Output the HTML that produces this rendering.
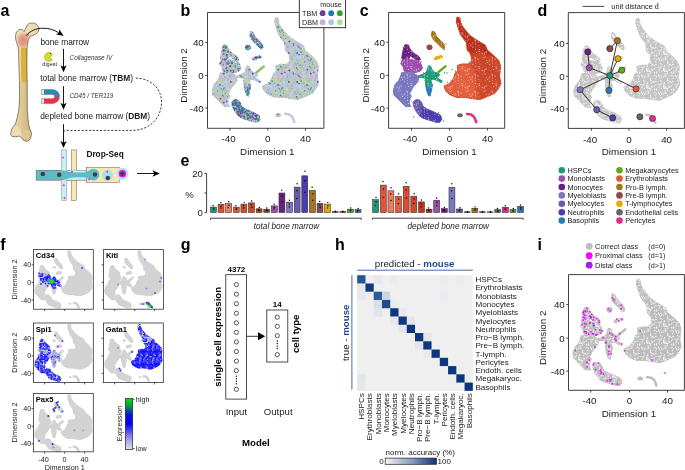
<!DOCTYPE html>
<html><head><meta charset="utf-8"><style>
html,body{margin:0;padding:0;background:#fff;overflow:hidden;}
svg{display:block;font-family:"Liberation Sans", sans-serif;will-change:transform;}
</style></head><body>
<svg width="685" height="470" viewBox="0 0 685 470">
<defs>
<radialGradient id="pink" cx="0.5" cy="0.5" r="0.5"><stop offset="0" stop-color="#dc8e80"/><stop offset="0.55" stop-color="#e2a08e"/><stop offset="1" stop-color="#eccbb0" stop-opacity="0"/></radialGradient>
<linearGradient id="shaft" x1="0" x2="1" y1="0" y2="0"><stop offset="0" stop-color="#ecdcae"/><stop offset="0.45" stop-color="#e2cc98"/><stop offset="1" stop-color="#c9ad72"/></linearGradient>
<clipPath id="boneclip"><path d="M26.6,26.4 C27,24 30,22.8 32.5,23 C36,23.2 39,25.5 38.9,29 C38.8,32 36.5,34.5 33,35.3 C30,36 28.4,38.5 27.9,42 L27.1,48 L26.9,65.5 L27.2,82 L27.3,98.7 L27.3,110 L27.7,113.7 L28.1,119.7 L28.8,124.9 L29.6,128.6 L31.1,131.6 L31.4,134.6 L30.7,137.6 L29.6,139.8 L27.3,141.3 L24.7,140.9 L22.5,139.4 L21,137.2 L19.9,136.1 L15.4,136.8 L12.1,136.4 L10.6,134.6 L11,131.6 L12.4,127.9 L15.4,124.1 L17.3,117.4 L18.8,110 L19.6,98 L19.4,82 L18.9,65.5 L18.5,50 C18.3,47 17.5,44.5 16.5,42 C15.5,39.5 15.2,36.5 15.8,34 C16.5,31.5 18,30 20,29.2 C21.5,28.8 23,30 24,31.6 C25,30 25.8,28 26.6,26.4 Z"/></clipPath>
<radialGradient id="glow" cx="0.5" cy="0.5" r="0.5"><stop offset="0" stop-color="#8fd8e0"/><stop offset="0.8" stop-color="#a8e4ea"/><stop offset="1" stop-color="#d8f4f6"/></radialGradient>
<pattern id="spk" width="17" height="17" patternUnits="userSpaceOnUse"><circle cx="2.8" cy="11.7" r="0.49" fill="#fff"/><circle cx="8.1" cy="3.7" r="0.53" fill="#fff"/><circle cx="13.7" cy="8.7" r="0.45" fill="#fff"/><circle cx="4.0" cy="0.1" r="0.42" fill="#fff"/><circle cx="10.0" cy="1.2" r="0.53" fill="#fff"/><circle cx="3.9" cy="4.0" r="0.33" fill="#fff"/><circle cx="17.0" cy="12.6" r="0.55" fill="#fff"/><circle cx="10.5" cy="0.6" r="0.40" fill="#fff"/><circle cx="8.5" cy="2.0" r="0.57" fill="#fff"/><circle cx="6.3" cy="2.6" r="0.54" fill="#fff"/><circle cx="2.1" cy="15.8" r="0.44" fill="#fff"/><circle cx="9.4" cy="5.8" r="0.45" fill="#fff"/><circle cx="3.2" cy="0.6" r="0.55" fill="#fff"/><circle cx="4.0" cy="13.3" r="0.37" fill="#fff"/><circle cx="16.5" cy="15.2" r="0.52" fill="#fff"/><circle cx="13.0" cy="9.9" r="0.51" fill="#fff"/><circle cx="2.1" cy="8.1" r="0.54" fill="#fff"/><circle cx="3.4" cy="15.7" r="0.55" fill="#fff"/><circle cx="7.0" cy="6.2" r="0.44" fill="#fff"/><circle cx="6.6" cy="16.9" r="0.42" fill="#fff"/><circle cx="0.5" cy="1.6" r="0.51" fill="#fff"/><circle cx="16.9" cy="8.4" r="0.45" fill="#fff"/><circle cx="9.4" cy="12.7" r="0.37" fill="#fff"/><circle cx="10.4" cy="9.5" r="0.48" fill="#fff"/><circle cx="3.1" cy="2.9" r="0.41" fill="#fff"/><circle cx="15.8" cy="5.9" r="0.48" fill="#fff"/><circle cx="5.2" cy="1.8" r="0.33" fill="#fff"/><circle cx="13.8" cy="13.2" r="0.42" fill="#fff"/><circle cx="11.6" cy="11.5" r="0.56" fill="#fff"/><circle cx="16.3" cy="6.9" r="0.58" fill="#fff"/><circle cx="16.3" cy="10.0" r="0.55" fill="#fff"/><circle cx="8.3" cy="6.4" r="0.38" fill="#fff"/><circle cx="14.9" cy="2.8" r="0.33" fill="#fff"/><circle cx="13.7" cy="13.2" r="0.45" fill="#fff"/></pattern>
<pattern id="spk2" width="17" height="17" patternUnits="userSpaceOnUse"><circle cx="9.7" cy="10.7" r="0.60" fill="#fff"/><circle cx="4.7" cy="11.1" r="0.62" fill="#fff"/><circle cx="15.5" cy="3.2" r="0.55" fill="#fff"/><circle cx="10.5" cy="8.6" r="0.64" fill="#fff"/><circle cx="9.0" cy="7.6" r="0.63" fill="#fff"/><circle cx="10.8" cy="5.1" r="0.44" fill="#fff"/><circle cx="8.4" cy="0.9" r="0.53" fill="#fff"/><circle cx="12.5" cy="7.2" r="0.60" fill="#fff"/><circle cx="15.8" cy="9.4" r="0.55" fill="#fff"/><circle cx="2.0" cy="1.0" r="0.64" fill="#fff"/><circle cx="4.8" cy="3.6" r="0.62" fill="#fff"/><circle cx="12.7" cy="2.1" r="0.45" fill="#fff"/><circle cx="4.1" cy="4.6" r="0.35" fill="#fff"/><circle cx="8.9" cy="5.2" r="0.47" fill="#fff"/><circle cx="3.2" cy="1.9" r="0.36" fill="#fff"/><circle cx="14.8" cy="12.7" r="0.52" fill="#fff"/><circle cx="2.1" cy="2.5" r="0.39" fill="#fff"/><circle cx="5.4" cy="1.0" r="0.43" fill="#fff"/><circle cx="3.4" cy="3.3" r="0.55" fill="#fff"/><circle cx="7.8" cy="8.0" r="0.46" fill="#fff"/><circle cx="9.2" cy="13.3" r="0.44" fill="#fff"/><circle cx="1.2" cy="8.2" r="0.46" fill="#fff"/><circle cx="13.3" cy="1.9" r="0.61" fill="#fff"/><circle cx="0.3" cy="9.2" r="0.48" fill="#fff"/><circle cx="5.4" cy="15.1" r="0.56" fill="#fff"/><circle cx="2.8" cy="8.4" r="0.53" fill="#fff"/><circle cx="0.6" cy="1.5" r="0.53" fill="#fff"/><circle cx="12.4" cy="7.9" r="0.48" fill="#fff"/><circle cx="8.6" cy="4.4" r="0.61" fill="#fff"/><circle cx="16.3" cy="8.2" r="0.36" fill="#fff"/><circle cx="6.8" cy="13.7" r="0.45" fill="#fff"/><circle cx="1.8" cy="3.1" r="0.56" fill="#fff"/><circle cx="10.6" cy="4.9" r="0.54" fill="#fff"/><circle cx="12.9" cy="16.4" r="0.60" fill="#fff"/><circle cx="7.4" cy="13.8" r="0.63" fill="#fff"/><circle cx="14.8" cy="12.8" r="0.53" fill="#fff"/><circle cx="8.7" cy="14.5" r="0.54" fill="#fff"/><circle cx="12.3" cy="3.9" r="0.38" fill="#fff"/><circle cx="4.6" cy="9.9" r="0.52" fill="#fff"/><circle cx="3.4" cy="3.2" r="0.64" fill="#fff"/><circle cx="1.2" cy="15.7" r="0.58" fill="#fff"/><circle cx="9.8" cy="16.9" r="0.55" fill="#fff"/><circle cx="0.1" cy="16.0" r="0.47" fill="#fff"/><circle cx="15.6" cy="13.8" r="0.39" fill="#fff"/><circle cx="0.7" cy="0.4" r="0.58" fill="#fff"/><circle cx="13.5" cy="3.9" r="0.38" fill="#fff"/><circle cx="6.2" cy="13.6" r="0.57" fill="#fff"/><circle cx="14.7" cy="16.5" r="0.58" fill="#fff"/><circle cx="14.2" cy="0.3" r="0.35" fill="#fff"/><circle cx="14.7" cy="10.5" r="0.45" fill="#fff"/><circle cx="2.2" cy="5.7" r="0.45" fill="#fff"/><circle cx="8.4" cy="7.6" r="0.41" fill="#fff"/><circle cx="1.4" cy="3.5" r="0.39" fill="#fff"/><circle cx="1.7" cy="7.0" r="0.39" fill="#fff"/><circle cx="13.6" cy="9.3" r="0.49" fill="#fff"/><circle cx="10.9" cy="4.0" r="0.36" fill="#fff"/><circle cx="1.3" cy="5.7" r="0.46" fill="#fff"/><circle cx="4.3" cy="5.2" r="0.60" fill="#fff"/><circle cx="0.1" cy="7.6" r="0.46" fill="#fff"/><circle cx="4.8" cy="12.3" r="0.42" fill="#fff"/><circle cx="0.7" cy="2.7" r="0.64" fill="#fff"/><circle cx="5.9" cy="2.0" r="0.64" fill="#fff"/><circle cx="11.0" cy="16.3" r="0.45" fill="#fff"/><circle cx="13.8" cy="0.7" r="0.42" fill="#fff"/><circle cx="13.5" cy="8.8" r="0.59" fill="#fff"/><circle cx="6.6" cy="14.9" r="0.37" fill="#fff"/><circle cx="10.6" cy="3.2" r="0.41" fill="#fff"/><circle cx="15.0" cy="7.3" r="0.59" fill="#fff"/><circle cx="4.8" cy="12.4" r="0.62" fill="#fff"/><circle cx="10.7" cy="4.0" r="0.55" fill="#fff"/><circle cx="16.2" cy="13.6" r="0.48" fill="#fff"/><circle cx="6.8" cy="1.7" r="0.58" fill="#fff"/><circle cx="2.7" cy="3.7" r="0.36" fill="#fff"/><circle cx="2.8" cy="6.5" r="0.49" fill="#fff"/><circle cx="3.0" cy="7.2" r="0.58" fill="#fff"/><circle cx="1.6" cy="2.3" r="0.51" fill="#fff"/><circle cx="15.4" cy="15.6" r="0.52" fill="#fff"/><circle cx="1.6" cy="14.9" r="0.65" fill="#fff"/><circle cx="15.3" cy="9.0" r="0.46" fill="#fff"/><circle cx="10.0" cy="13.4" r="0.65" fill="#fff"/></pattern>
<pattern id="pl" width="29" height="29" patternUnits="userSpaceOnUse"><rect width="29" height="29" fill="#d6d2e6"/><circle cx="1.0" cy="14.6" r="0.9" fill="#6a3d9a"/><circle cx="1.0" cy="25.7" r="0.9" fill="#b2df8a"/><circle cx="0.7" cy="4.6" r="0.9" fill="#cab2d6"/><circle cx="29.7" cy="4.6" r="0.9" fill="#cab2d6"/><circle cx="0.4" cy="5.0" r="0.9" fill="#b2df8a"/><circle cx="29.4" cy="5.0" r="0.9" fill="#b2df8a"/><circle cx="28.7" cy="24.3" r="0.9" fill="#cab2d6"/><circle cx="-0.3" cy="24.3" r="0.9" fill="#cab2d6"/><circle cx="19.9" cy="1.2" r="0.9" fill="#b2df8a"/><circle cx="18.4" cy="17.8" r="0.9" fill="#cab2d6"/><circle cx="4.6" cy="5.4" r="0.9" fill="#33a02c"/><circle cx="15.3" cy="15.2" r="0.9" fill="#a6cee3"/><circle cx="24.1" cy="14.5" r="0.9" fill="#a6cee3"/><circle cx="24.9" cy="3.7" r="0.9" fill="#b2df8a"/><circle cx="21.7" cy="8.7" r="0.9" fill="#33a02c"/><circle cx="6.7" cy="16.8" r="0.9" fill="#b2df8a"/><circle cx="7.2" cy="3.2" r="0.9" fill="#6a3d9a"/><circle cx="21.9" cy="19.3" r="0.9" fill="#6a3d9a"/><circle cx="19.8" cy="27.9" r="0.9" fill="#cab2d6"/><circle cx="24.0" cy="9.6" r="0.9" fill="#6a3d9a"/><circle cx="4.3" cy="8.8" r="0.9" fill="#a6cee3"/><circle cx="27.1" cy="21.7" r="0.9" fill="#cab2d6"/><circle cx="22.6" cy="9.6" r="0.9" fill="#a6cee3"/><circle cx="27.8" cy="8.8" r="0.9" fill="#b2df8a"/><circle cx="12.6" cy="8.0" r="0.9" fill="#a6cee3"/><circle cx="20.8" cy="17.1" r="0.9" fill="#cab2d6"/><circle cx="24.6" cy="5.1" r="0.9" fill="#cab2d6"/><circle cx="25.7" cy="4.3" r="0.9" fill="#cab2d6"/><circle cx="14.6" cy="28.1" r="0.9" fill="#cab2d6"/><circle cx="14.6" cy="-0.9" r="0.9" fill="#cab2d6"/><circle cx="28.3" cy="4.5" r="0.9" fill="#a6cee3"/><circle cx="-0.7" cy="4.5" r="0.9" fill="#a6cee3"/><circle cx="13.4" cy="20.5" r="0.9" fill="#cab2d6"/><circle cx="11.3" cy="8.6" r="0.9" fill="#b2df8a"/><circle cx="17.7" cy="2.8" r="0.9" fill="#cab2d6"/><circle cx="9.0" cy="16.8" r="0.9" fill="#cab2d6"/><circle cx="20.8" cy="0.9" r="0.9" fill="#a6cee3"/><circle cx="3.5" cy="5.8" r="0.9" fill="#cab2d6"/><circle cx="28.3" cy="4.6" r="0.9" fill="#a6cee3"/><circle cx="-0.7" cy="4.6" r="0.9" fill="#a6cee3"/><circle cx="26.1" cy="22.7" r="0.9" fill="#a6cee3"/><circle cx="3.8" cy="7.0" r="0.9" fill="#a6cee3"/><circle cx="4.4" cy="17.6" r="0.9" fill="#a6cee3"/><circle cx="12.7" cy="0.9" r="0.9" fill="#b2df8a"/><circle cx="27.5" cy="19.2" r="0.9" fill="#a6cee3"/><circle cx="18.9" cy="14.7" r="0.9" fill="#a6cee3"/><circle cx="23.9" cy="21.9" r="0.9" fill="#b2df8a"/><circle cx="21.5" cy="15.8" r="0.9" fill="#cab2d6"/><circle cx="12.1" cy="5.1" r="0.9" fill="#cab2d6"/><circle cx="3.3" cy="27.5" r="0.9" fill="#a6cee3"/><circle cx="23.2" cy="1.1" r="0.9" fill="#cab2d6"/><circle cx="12.1" cy="27.9" r="0.9" fill="#cab2d6"/><circle cx="17.5" cy="22.2" r="0.9" fill="#cab2d6"/><circle cx="20.9" cy="11.0" r="0.9" fill="#b2df8a"/><circle cx="11.3" cy="16.7" r="0.9" fill="#cab2d6"/><circle cx="24.2" cy="20.5" r="0.9" fill="#b2df8a"/><circle cx="9.3" cy="5.2" r="0.9" fill="#cab2d6"/><circle cx="10.5" cy="11.5" r="0.9" fill="#cab2d6"/><circle cx="17.2" cy="21.0" r="0.9" fill="#cab2d6"/><circle cx="11.4" cy="26.9" r="0.9" fill="#a6cee3"/><circle cx="19.1" cy="24.0" r="0.9" fill="#cab2d6"/><circle cx="15.9" cy="28.2" r="0.9" fill="#a6cee3"/><circle cx="15.9" cy="-0.8" r="0.9" fill="#a6cee3"/><circle cx="17.6" cy="7.7" r="0.9" fill="#a6cee3"/><circle cx="10.2" cy="13.1" r="0.9" fill="#b2df8a"/><circle cx="16.5" cy="3.1" r="0.9" fill="#cab2d6"/><circle cx="20.7" cy="21.6" r="0.9" fill="#cab2d6"/><circle cx="26.4" cy="6.0" r="0.9" fill="#b2df8a"/><circle cx="21.2" cy="25.7" r="0.9" fill="#a6cee3"/><circle cx="3.2" cy="19.9" r="0.9" fill="#cab2d6"/><circle cx="11.8" cy="26.6" r="0.9" fill="#cab2d6"/><circle cx="1.8" cy="25.4" r="0.9" fill="#cab2d6"/><circle cx="9.6" cy="13.1" r="0.9" fill="#cab2d6"/><circle cx="18.8" cy="20.0" r="0.9" fill="#cab2d6"/><circle cx="25.5" cy="25.3" r="0.9" fill="#b2df8a"/><circle cx="6.0" cy="26.3" r="0.9" fill="#b2df8a"/><circle cx="20.9" cy="0.5" r="0.9" fill="#33a02c"/><circle cx="20.9" cy="29.5" r="0.9" fill="#33a02c"/><circle cx="4.6" cy="10.7" r="0.9" fill="#a6cee3"/><circle cx="25.8" cy="25.5" r="0.9" fill="#b2df8a"/><circle cx="27.6" cy="12.1" r="0.9" fill="#cab2d6"/><circle cx="1.1" cy="27.3" r="0.9" fill="#cab2d6"/><circle cx="27.9" cy="22.1" r="0.9" fill="#b2df8a"/><circle cx="15.1" cy="27.9" r="0.9" fill="#6a3d9a"/><circle cx="1.5" cy="12.2" r="0.9" fill="#b2df8a"/><circle cx="24.5" cy="6.0" r="0.9" fill="#b2df8a"/><circle cx="15.5" cy="8.5" r="0.9" fill="#33a02c"/><circle cx="26.1" cy="22.1" r="0.9" fill="#cab2d6"/><circle cx="23.4" cy="19.8" r="0.9" fill="#cab2d6"/><circle cx="5.0" cy="27.4" r="0.9" fill="#a6cee3"/><circle cx="12.7" cy="26.3" r="0.9" fill="#cab2d6"/><circle cx="25.5" cy="18.3" r="0.9" fill="#cab2d6"/><circle cx="28.5" cy="11.8" r="0.9" fill="#cab2d6"/><circle cx="-0.5" cy="11.8" r="0.9" fill="#cab2d6"/><circle cx="15.2" cy="0.9" r="0.9" fill="#a6cee3"/><circle cx="25.1" cy="22.5" r="0.9" fill="#1f78b4"/><circle cx="1.1" cy="26.2" r="0.9" fill="#a6cee3"/><circle cx="12.3" cy="20.1" r="0.9" fill="#b2df8a"/><circle cx="28.8" cy="18.7" r="0.9" fill="#a6cee3"/><circle cx="-0.2" cy="18.7" r="0.9" fill="#a6cee3"/><circle cx="3.8" cy="0.5" r="0.9" fill="#a6cee3"/><circle cx="3.8" cy="29.5" r="0.9" fill="#a6cee3"/><circle cx="6.2" cy="7.5" r="0.9" fill="#b2df8a"/><circle cx="3.6" cy="5.2" r="0.9" fill="#b2df8a"/><circle cx="17.8" cy="5.4" r="0.9" fill="#cab2d6"/><circle cx="19.4" cy="18.8" r="0.9" fill="#b2df8a"/><circle cx="2.2" cy="0.8" r="0.9" fill="#6a3d9a"/><circle cx="2.2" cy="29.8" r="0.9" fill="#6a3d9a"/><circle cx="8.7" cy="9.6" r="0.9" fill="#b2df8a"/><circle cx="24.1" cy="25.4" r="0.9" fill="#cab2d6"/><circle cx="3.2" cy="19.6" r="0.9" fill="#a6cee3"/><circle cx="7.2" cy="20.8" r="0.9" fill="#cab2d6"/><circle cx="5.7" cy="4.3" r="0.9" fill="#cab2d6"/><circle cx="16.0" cy="4.1" r="0.9" fill="#b2df8a"/><circle cx="19.7" cy="20.3" r="0.9" fill="#b2df8a"/><circle cx="27.7" cy="1.5" r="0.9" fill="#a6cee3"/><circle cx="14.7" cy="19.8" r="0.9" fill="#b2df8a"/><circle cx="7.2" cy="5.0" r="0.9" fill="#a6cee3"/><circle cx="20.5" cy="28.8" r="0.9" fill="#cab2d6"/><circle cx="20.5" cy="-0.2" r="0.9" fill="#cab2d6"/><circle cx="22.2" cy="4.3" r="0.9" fill="#cab2d6"/><circle cx="4.0" cy="4.0" r="0.9" fill="#a6cee3"/><circle cx="1.5" cy="14.0" r="0.9" fill="#a6cee3"/><circle cx="0.5" cy="23.9" r="0.9" fill="#cab2d6"/><circle cx="29.5" cy="23.9" r="0.9" fill="#cab2d6"/><circle cx="16.9" cy="22.3" r="0.9" fill="#cab2d6"/><circle cx="20.7" cy="23.7" r="0.9" fill="#a6cee3"/><circle cx="25.9" cy="22.9" r="0.9" fill="#b2df8a"/><circle cx="3.9" cy="5.0" r="0.9" fill="#b2df8a"/><circle cx="19.4" cy="6.4" r="0.9" fill="#b2df8a"/><circle cx="4.0" cy="16.5" r="0.9" fill="#33a02c"/><circle cx="16.4" cy="17.1" r="0.9" fill="#a6cee3"/><circle cx="2.4" cy="18.0" r="0.9" fill="#cab2d6"/><circle cx="24.9" cy="7.3" r="0.9" fill="#cab2d6"/><circle cx="21.5" cy="14.8" r="0.9" fill="#cab2d6"/><circle cx="5.4" cy="22.0" r="0.9" fill="#b2df8a"/><circle cx="20.8" cy="2.0" r="0.9" fill="#cab2d6"/><circle cx="14.0" cy="24.5" r="0.9" fill="#b2df8a"/><circle cx="15.8" cy="1.7" r="0.9" fill="#cab2d6"/><circle cx="13.9" cy="6.9" r="0.9" fill="#33a02c"/><circle cx="16.7" cy="16.8" r="0.9" fill="#cab2d6"/><circle cx="15.3" cy="27.9" r="0.9" fill="#b2df8a"/><circle cx="7.2" cy="5.1" r="0.9" fill="#a6cee3"/><circle cx="23.0" cy="8.5" r="0.9" fill="#cab2d6"/><circle cx="0.3" cy="11.9" r="0.9" fill="#b2df8a"/><circle cx="29.3" cy="11.9" r="0.9" fill="#b2df8a"/><circle cx="4.7" cy="11.3" r="0.9" fill="#a6cee3"/><circle cx="17.1" cy="0.8" r="0.9" fill="#cab2d6"/><circle cx="17.1" cy="29.8" r="0.9" fill="#cab2d6"/><circle cx="17.6" cy="5.4" r="0.9" fill="#a6cee3"/><circle cx="17.8" cy="4.5" r="0.9" fill="#a6cee3"/><circle cx="15.9" cy="6.6" r="0.9" fill="#b2df8a"/><circle cx="24.7" cy="11.6" r="0.9" fill="#b2df8a"/><circle cx="11.0" cy="11.3" r="0.9" fill="#33a02c"/><circle cx="24.0" cy="20.4" r="0.9" fill="#cab2d6"/><circle cx="3.5" cy="22.8" r="0.9" fill="#cab2d6"/><circle cx="8.7" cy="3.9" r="0.9" fill="#cab2d6"/><circle cx="15.0" cy="9.4" r="0.9" fill="#cab2d6"/><circle cx="12.9" cy="10.3" r="0.9" fill="#6a3d9a"/><circle cx="19.1" cy="5.6" r="0.9" fill="#33a02c"/><circle cx="27.7" cy="9.8" r="0.9" fill="#cab2d6"/><circle cx="0.8" cy="15.8" r="0.9" fill="#cab2d6"/><circle cx="29.8" cy="15.8" r="0.9" fill="#cab2d6"/><circle cx="5.1" cy="6.7" r="0.9" fill="#6a3d9a"/><circle cx="10.7" cy="7.2" r="0.9" fill="#b2df8a"/><circle cx="2.9" cy="13.0" r="0.9" fill="#b2df8a"/><circle cx="23.9" cy="7.1" r="0.9" fill="#b2df8a"/><circle cx="19.1" cy="28.1" r="0.9" fill="#a6cee3"/><circle cx="19.1" cy="-0.9" r="0.9" fill="#a6cee3"/><circle cx="11.8" cy="28.2" r="0.9" fill="#a6cee3"/><circle cx="11.8" cy="-0.8" r="0.9" fill="#a6cee3"/><circle cx="19.6" cy="8.5" r="0.9" fill="#6a3d9a"/><circle cx="20.6" cy="15.6" r="0.9" fill="#b2df8a"/><circle cx="10.6" cy="10.6" r="0.9" fill="#a6cee3"/><circle cx="21.9" cy="12.4" r="0.9" fill="#a6cee3"/><circle cx="27.3" cy="25.8" r="0.9" fill="#b2df8a"/><circle cx="21.1" cy="20.2" r="0.9" fill="#cab2d6"/><circle cx="10.0" cy="3.1" r="0.9" fill="#cab2d6"/><circle cx="26.4" cy="21.4" r="0.9" fill="#a6cee3"/><circle cx="17.0" cy="15.9" r="0.9" fill="#cab2d6"/><circle cx="24.6" cy="5.7" r="0.9" fill="#a6cee3"/><circle cx="22.7" cy="9.0" r="0.9" fill="#cab2d6"/><circle cx="4.4" cy="21.4" r="0.9" fill="#b2df8a"/><circle cx="13.9" cy="12.8" r="0.9" fill="#cab2d6"/><circle cx="21.3" cy="24.9" r="0.9" fill="#cab2d6"/><circle cx="2.1" cy="26.7" r="0.9" fill="#b2df8a"/><circle cx="25.1" cy="28.4" r="0.9" fill="#a6cee3"/><circle cx="25.1" cy="-0.6" r="0.9" fill="#a6cee3"/><circle cx="10.3" cy="19.4" r="0.9" fill="#b2df8a"/><circle cx="27.8" cy="17.1" r="0.9" fill="#a6cee3"/><circle cx="6.8" cy="13.4" r="0.9" fill="#b2df8a"/><circle cx="11.6" cy="13.7" r="0.9" fill="#cab2d6"/><circle cx="27.5" cy="4.7" r="0.9" fill="#cab2d6"/><circle cx="3.8" cy="1.8" r="0.9" fill="#b2df8a"/><circle cx="26.0" cy="9.9" r="0.9" fill="#a6cee3"/><circle cx="26.6" cy="27.8" r="0.9" fill="#6a3d9a"/><circle cx="19.5" cy="13.0" r="0.9" fill="#b2df8a"/><circle cx="10.3" cy="16.0" r="0.9" fill="#a6cee3"/><circle cx="3.4" cy="22.1" r="0.9" fill="#cab2d6"/><circle cx="20.6" cy="27.1" r="0.9" fill="#b2df8a"/><circle cx="26.6" cy="7.9" r="0.9" fill="#cab2d6"/><circle cx="8.2" cy="1.6" r="0.9" fill="#b2df8a"/><circle cx="28.3" cy="20.8" r="0.9" fill="#cab2d6"/><circle cx="-0.7" cy="20.8" r="0.9" fill="#cab2d6"/><circle cx="4.6" cy="23.7" r="0.9" fill="#a6cee3"/><circle cx="3.7" cy="10.1" r="0.9" fill="#a6cee3"/><circle cx="15.4" cy="26.0" r="0.9" fill="#cab2d6"/><circle cx="5.9" cy="15.8" r="0.9" fill="#cab2d6"/><circle cx="1.4" cy="2.9" r="0.9" fill="#cab2d6"/><circle cx="4.0" cy="6.9" r="0.9" fill="#cab2d6"/><circle cx="1.6" cy="26.9" r="0.9" fill="#a6cee3"/><circle cx="27.9" cy="19.0" r="0.9" fill="#cab2d6"/><circle cx="11.1" cy="14.3" r="0.9" fill="#cab2d6"/><circle cx="19.6" cy="15.2" r="0.9" fill="#a6cee3"/><circle cx="27.2" cy="19.2" r="0.9" fill="#6a3d9a"/><circle cx="10.0" cy="14.4" r="0.9" fill="#cab2d6"/><circle cx="21.7" cy="7.0" r="0.9" fill="#a6cee3"/><circle cx="12.1" cy="24.6" r="0.9" fill="#cab2d6"/><circle cx="1.6" cy="11.4" r="0.9" fill="#b2df8a"/><circle cx="27.8" cy="3.6" r="0.9" fill="#cab2d6"/><circle cx="3.0" cy="14.7" r="0.9" fill="#1f78b4"/><circle cx="2.9" cy="1.5" r="0.9" fill="#cab2d6"/><circle cx="26.5" cy="14.4" r="0.9" fill="#a6cee3"/><circle cx="28.8" cy="16.8" r="0.9" fill="#6a3d9a"/><circle cx="-0.2" cy="16.8" r="0.9" fill="#6a3d9a"/><circle cx="23.1" cy="10.2" r="0.9" fill="#b2df8a"/><circle cx="18.9" cy="9.5" r="0.9" fill="#b2df8a"/><circle cx="14.2" cy="11.1" r="0.9" fill="#cab2d6"/><circle cx="26.8" cy="12.9" r="0.9" fill="#cab2d6"/><circle cx="18.0" cy="0.4" r="0.9" fill="#a6cee3"/><circle cx="18.0" cy="29.4" r="0.9" fill="#a6cee3"/><circle cx="28.9" cy="14.0" r="0.9" fill="#a6cee3"/><circle cx="-0.1" cy="14.0" r="0.9" fill="#a6cee3"/><circle cx="16.6" cy="4.6" r="0.9" fill="#b2df8a"/><circle cx="14.3" cy="6.1" r="0.9" fill="#a6cee3"/><circle cx="3.1" cy="27.2" r="0.9" fill="#b2df8a"/><circle cx="1.9" cy="19.6" r="0.9" fill="#cab2d6"/><circle cx="9.7" cy="4.2" r="0.9" fill="#a6cee3"/><circle cx="18.3" cy="1.8" r="0.9" fill="#cab2d6"/><circle cx="28.8" cy="16.1" r="0.9" fill="#6a3d9a"/><circle cx="-0.2" cy="16.1" r="0.9" fill="#6a3d9a"/><circle cx="12.1" cy="5.0" r="0.9" fill="#cab2d6"/><circle cx="6.0" cy="15.1" r="0.9" fill="#cab2d6"/><circle cx="25.9" cy="25.7" r="0.9" fill="#cab2d6"/><circle cx="7.0" cy="6.7" r="0.9" fill="#6a3d9a"/><circle cx="8.5" cy="6.5" r="0.9" fill="#cab2d6"/><circle cx="27.4" cy="0.1" r="0.9" fill="#cab2d6"/><circle cx="27.4" cy="29.1" r="0.9" fill="#cab2d6"/><circle cx="10.9" cy="2.2" r="0.9" fill="#cab2d6"/><circle cx="15.3" cy="2.6" r="0.9" fill="#a6cee3"/><circle cx="27.2" cy="17.8" r="0.9" fill="#6a3d9a"/><circle cx="4.8" cy="16.6" r="0.9" fill="#b2df8a"/><circle cx="17.2" cy="28.7" r="0.9" fill="#cab2d6"/><circle cx="17.2" cy="-0.3" r="0.9" fill="#cab2d6"/><circle cx="9.2" cy="12.9" r="0.9" fill="#a6cee3"/><circle cx="4.6" cy="19.1" r="0.9" fill="#cab2d6"/><circle cx="5.9" cy="21.6" r="0.9" fill="#cab2d6"/><circle cx="11.4" cy="4.1" r="0.9" fill="#cab2d6"/><circle cx="5.9" cy="24.8" r="0.9" fill="#cab2d6"/><circle cx="10.1" cy="9.5" r="0.9" fill="#a6cee3"/><circle cx="25.0" cy="17.1" r="0.9" fill="#b2df8a"/><circle cx="22.9" cy="26.5" r="0.9" fill="#a6cee3"/><circle cx="20.8" cy="4.2" r="0.9" fill="#a6cee3"/><circle cx="4.0" cy="3.7" r="0.9" fill="#a6cee3"/><circle cx="16.4" cy="14.4" r="0.9" fill="#6a3d9a"/><circle cx="7.6" cy="17.5" r="0.9" fill="#cab2d6"/><circle cx="24.5" cy="1.2" r="0.9" fill="#cab2d6"/><circle cx="6.8" cy="9.8" r="0.9" fill="#6a3d9a"/><circle cx="1.4" cy="27.1" r="0.9" fill="#cab2d6"/><circle cx="15.1" cy="12.6" r="0.9" fill="#cab2d6"/><circle cx="19.7" cy="22.6" r="0.9" fill="#33a02c"/><circle cx="15.8" cy="8.5" r="0.9" fill="#b2df8a"/><circle cx="11.1" cy="6.0" r="0.9" fill="#b2df8a"/><circle cx="27.5" cy="19.0" r="0.9" fill="#cab2d6"/><circle cx="4.6" cy="10.3" r="0.9" fill="#cab2d6"/><circle cx="19.6" cy="3.9" r="0.9" fill="#b2df8a"/><circle cx="14.3" cy="7.6" r="0.9" fill="#a6cee3"/><circle cx="26.3" cy="20.3" r="0.9" fill="#cab2d6"/><circle cx="28.7" cy="4.5" r="0.9" fill="#cab2d6"/><circle cx="-0.3" cy="4.5" r="0.9" fill="#cab2d6"/><circle cx="13.4" cy="2.6" r="0.9" fill="#cab2d6"/><circle cx="23.3" cy="14.6" r="0.9" fill="#cab2d6"/><circle cx="28.1" cy="18.4" r="0.9" fill="#cab2d6"/><circle cx="11.5" cy="1.6" r="0.9" fill="#a6cee3"/><circle cx="28.1" cy="1.0" r="0.9" fill="#a6cee3"/><circle cx="-0.9" cy="1.0" r="0.9" fill="#a6cee3"/><circle cx="4.2" cy="2.9" r="0.9" fill="#b2df8a"/><circle cx="19.6" cy="13.9" r="0.9" fill="#b2df8a"/><circle cx="10.7" cy="25.9" r="0.9" fill="#cab2d6"/><circle cx="7.9" cy="3.0" r="0.9" fill="#a6cee3"/><circle cx="0.9" cy="0.3" r="0.9" fill="#b2df8a"/><circle cx="0.9" cy="29.3" r="0.9" fill="#b2df8a"/><circle cx="29.9" cy="0.3" r="0.9" fill="#b2df8a"/><circle cx="29.9" cy="29.3" r="0.9" fill="#b2df8a"/><circle cx="14.8" cy="20.6" r="0.9" fill="#cab2d6"/><circle cx="18.7" cy="2.1" r="0.9" fill="#cab2d6"/><circle cx="12.2" cy="22.1" r="0.9" fill="#b2df8a"/><circle cx="24.1" cy="27.4" r="0.9" fill="#cab2d6"/><circle cx="14.6" cy="4.0" r="0.9" fill="#6a3d9a"/><circle cx="28.7" cy="0.1" r="0.9" fill="#6a3d9a"/><circle cx="28.7" cy="29.1" r="0.9" fill="#6a3d9a"/><circle cx="-0.3" cy="0.1" r="0.9" fill="#6a3d9a"/><circle cx="-0.3" cy="29.1" r="0.9" fill="#6a3d9a"/><circle cx="27.1" cy="7.8" r="0.9" fill="#cab2d6"/><circle cx="0.0" cy="10.2" r="0.9" fill="#a6cee3"/><circle cx="29.0" cy="10.2" r="0.9" fill="#a6cee3"/><circle cx="12.1" cy="7.6" r="0.9" fill="#cab2d6"/><circle cx="0.6" cy="14.1" r="0.9" fill="#a6cee3"/><circle cx="29.6" cy="14.1" r="0.9" fill="#a6cee3"/><circle cx="2.7" cy="0.5" r="0.9" fill="#cab2d6"/><circle cx="2.7" cy="29.5" r="0.9" fill="#cab2d6"/><circle cx="18.5" cy="12.8" r="0.9" fill="#a6cee3"/><circle cx="12.5" cy="4.9" r="0.9" fill="#a6cee3"/><circle cx="26.9" cy="5.3" r="0.9" fill="#b2df8a"/><circle cx="17.8" cy="11.6" r="0.9" fill="#cab2d6"/><circle cx="21.2" cy="14.3" r="0.9" fill="#a6cee3"/><circle cx="24.3" cy="5.2" r="0.9" fill="#cab2d6"/><circle cx="21.8" cy="10.5" r="0.9" fill="#cab2d6"/><circle cx="28.8" cy="14.4" r="0.9" fill="#b2df8a"/><circle cx="-0.2" cy="14.4" r="0.9" fill="#b2df8a"/><circle cx="13.4" cy="24.6" r="0.9" fill="#1f78b4"/><circle cx="20.6" cy="7.4" r="0.9" fill="#a6cee3"/><circle cx="11.6" cy="12.4" r="0.9" fill="#cab2d6"/><circle cx="6.9" cy="26.7" r="0.9" fill="#a6cee3"/><circle cx="4.5" cy="7.1" r="0.9" fill="#cab2d6"/><circle cx="23.7" cy="14.4" r="0.9" fill="#6a3d9a"/><circle cx="5.5" cy="15.3" r="0.9" fill="#a6cee3"/><circle cx="27.1" cy="12.9" r="0.9" fill="#b2df8a"/><circle cx="16.5" cy="6.7" r="0.9" fill="#a6cee3"/><circle cx="0.6" cy="0.0" r="0.9" fill="#cab2d6"/><circle cx="0.6" cy="29.0" r="0.9" fill="#cab2d6"/><circle cx="29.6" cy="0.0" r="0.9" fill="#cab2d6"/><circle cx="29.6" cy="29.0" r="0.9" fill="#cab2d6"/><circle cx="2.9" cy="17.4" r="0.9" fill="#cab2d6"/><circle cx="9.6" cy="8.7" r="0.9" fill="#a6cee3"/><circle cx="13.2" cy="2.2" r="0.9" fill="#cab2d6"/><circle cx="28.2" cy="1.9" r="0.9" fill="#cab2d6"/><circle cx="-0.8" cy="1.9" r="0.9" fill="#cab2d6"/><circle cx="18.1" cy="6.2" r="0.9" fill="#a6cee3"/><circle cx="18.4" cy="5.6" r="0.9" fill="#a6cee3"/><circle cx="22.2" cy="0.2" r="0.9" fill="#b2df8a"/><circle cx="22.2" cy="29.2" r="0.9" fill="#b2df8a"/><circle cx="22.1" cy="22.6" r="0.9" fill="#b2df8a"/><circle cx="6.8" cy="12.9" r="0.9" fill="#a6cee3"/><circle cx="23.6" cy="9.0" r="0.9" fill="#cab2d6"/><circle cx="1.0" cy="10.3" r="0.9" fill="#a6cee3"/><circle cx="3.7" cy="6.5" r="0.9" fill="#cab2d6"/><circle cx="11.3" cy="9.8" r="0.9" fill="#b2df8a"/><circle cx="23.7" cy="21.8" r="0.9" fill="#cab2d6"/><circle cx="15.9" cy="7.8" r="0.9" fill="#a6cee3"/><circle cx="4.0" cy="23.3" r="0.9" fill="#a6cee3"/><circle cx="19.0" cy="15.1" r="0.9" fill="#cab2d6"/><circle cx="11.0" cy="13.6" r="0.9" fill="#6a3d9a"/><circle cx="23.8" cy="17.7" r="0.9" fill="#a6cee3"/><circle cx="21.3" cy="11.0" r="0.9" fill="#b2df8a"/><circle cx="9.3" cy="0.8" r="0.9" fill="#b2df8a"/><circle cx="9.3" cy="29.8" r="0.9" fill="#b2df8a"/><circle cx="17.9" cy="28.5" r="0.9" fill="#cab2d6"/><circle cx="17.9" cy="-0.5" r="0.9" fill="#cab2d6"/><circle cx="2.3" cy="0.5" r="0.9" fill="#6a3d9a"/><circle cx="2.3" cy="29.5" r="0.9" fill="#6a3d9a"/><circle cx="13.4" cy="22.5" r="0.9" fill="#b2df8a"/><circle cx="11.3" cy="11.7" r="0.9" fill="#b2df8a"/><circle cx="20.3" cy="13.0" r="0.9" fill="#cab2d6"/><circle cx="2.2" cy="19.0" r="0.9" fill="#cab2d6"/><circle cx="18.3" cy="4.9" r="0.9" fill="#b2df8a"/><circle cx="1.2" cy="15.8" r="0.9" fill="#cab2d6"/><circle cx="23.2" cy="5.1" r="0.9" fill="#cab2d6"/><circle cx="15.1" cy="8.2" r="0.9" fill="#a6cee3"/><circle cx="25.1" cy="4.0" r="0.9" fill="#cab2d6"/><circle cx="14.0" cy="1.2" r="0.9" fill="#a6cee3"/><circle cx="19.6" cy="10.9" r="0.9" fill="#cab2d6"/><circle cx="20.0" cy="1.4" r="0.9" fill="#b2df8a"/><circle cx="22.6" cy="3.8" r="0.9" fill="#6a3d9a"/><circle cx="9.4" cy="18.4" r="0.9" fill="#cab2d6"/><circle cx="6.2" cy="22.6" r="0.9" fill="#a6cee3"/><circle cx="6.9" cy="13.2" r="0.9" fill="#cab2d6"/><circle cx="5.8" cy="0.2" r="0.9" fill="#cab2d6"/><circle cx="5.8" cy="29.2" r="0.9" fill="#cab2d6"/><circle cx="10.6" cy="19.5" r="0.9" fill="#6a3d9a"/><circle cx="10.4" cy="13.2" r="0.9" fill="#cab2d6"/><circle cx="26.7" cy="5.8" r="0.9" fill="#b2df8a"/><circle cx="7.1" cy="22.9" r="0.9" fill="#cab2d6"/><circle cx="17.0" cy="1.8" r="0.9" fill="#a6cee3"/><circle cx="6.6" cy="26.1" r="0.9" fill="#cab2d6"/><circle cx="20.8" cy="5.2" r="0.9" fill="#b2df8a"/><circle cx="27.4" cy="0.7" r="0.9" fill="#cab2d6"/><circle cx="27.4" cy="29.7" r="0.9" fill="#cab2d6"/><circle cx="18.5" cy="16.8" r="0.9" fill="#a6cee3"/><circle cx="26.4" cy="14.3" r="0.9" fill="#a6cee3"/><circle cx="17.6" cy="25.5" r="0.9" fill="#a6cee3"/><circle cx="28.3" cy="0.5" r="0.9" fill="#b2df8a"/><circle cx="28.3" cy="29.5" r="0.9" fill="#b2df8a"/><circle cx="-0.7" cy="0.5" r="0.9" fill="#b2df8a"/><circle cx="-0.7" cy="29.5" r="0.9" fill="#b2df8a"/><circle cx="7.9" cy="6.0" r="0.9" fill="#6a3d9a"/><circle cx="11.6" cy="8.7" r="0.9" fill="#a6cee3"/><circle cx="10.2" cy="9.3" r="0.9" fill="#cab2d6"/><circle cx="23.0" cy="21.1" r="0.9" fill="#b2df8a"/><circle cx="16.4" cy="20.8" r="0.9" fill="#cab2d6"/><circle cx="20.6" cy="24.8" r="0.9" fill="#b2df8a"/><circle cx="15.9" cy="12.2" r="0.9" fill="#cab2d6"/><circle cx="18.0" cy="11.2" r="0.9" fill="#cab2d6"/><circle cx="4.5" cy="24.0" r="0.9" fill="#1f78b4"/><circle cx="3.8" cy="26.0" r="0.9" fill="#cab2d6"/><circle cx="14.8" cy="16.3" r="0.9" fill="#cab2d6"/><circle cx="6.6" cy="3.6" r="0.9" fill="#cab2d6"/><circle cx="7.9" cy="10.9" r="0.9" fill="#1f78b4"/><circle cx="19.2" cy="28.7" r="0.9" fill="#a6cee3"/><circle cx="19.2" cy="-0.3" r="0.9" fill="#a6cee3"/><circle cx="16.9" cy="11.8" r="0.9" fill="#cab2d6"/><circle cx="0.1" cy="16.7" r="0.9" fill="#b2df8a"/><circle cx="29.1" cy="16.7" r="0.9" fill="#b2df8a"/><circle cx="11.9" cy="20.8" r="0.9" fill="#b2df8a"/><circle cx="24.1" cy="5.7" r="0.9" fill="#a6cee3"/><circle cx="12.2" cy="14.1" r="0.9" fill="#a6cee3"/><circle cx="6.5" cy="1.5" r="0.9" fill="#a6cee3"/><circle cx="23.5" cy="27.7" r="0.9" fill="#a6cee3"/><circle cx="8.8" cy="18.0" r="0.9" fill="#33a02c"/><circle cx="12.7" cy="10.0" r="0.9" fill="#cab2d6"/><circle cx="1.4" cy="21.5" r="0.9" fill="#a6cee3"/><circle cx="22.0" cy="12.7" r="0.9" fill="#cab2d6"/><circle cx="17.0" cy="15.7" r="0.9" fill="#a6cee3"/><circle cx="10.6" cy="12.3" r="0.9" fill="#a6cee3"/><circle cx="17.8" cy="0.9" r="0.9" fill="#b2df8a"/><circle cx="24.5" cy="21.2" r="0.9" fill="#a6cee3"/><circle cx="28.4" cy="4.2" r="0.9" fill="#a6cee3"/><circle cx="-0.6" cy="4.2" r="0.9" fill="#a6cee3"/><circle cx="11.3" cy="21.2" r="0.9" fill="#cab2d6"/><circle cx="19.0" cy="22.9" r="0.9" fill="#b2df8a"/><circle cx="18.0" cy="8.3" r="0.9" fill="#a6cee3"/><circle cx="23.6" cy="6.2" r="0.9" fill="#cab2d6"/><circle cx="27.8" cy="4.0" r="0.9" fill="#b2df8a"/><circle cx="19.3" cy="10.9" r="0.9" fill="#b2df8a"/><circle cx="17.9" cy="17.9" r="0.9" fill="#cab2d6"/><circle cx="21.7" cy="8.4" r="0.9" fill="#b2df8a"/><circle cx="4.4" cy="13.5" r="0.9" fill="#cab2d6"/><circle cx="28.8" cy="17.4" r="0.9" fill="#cab2d6"/><circle cx="-0.2" cy="17.4" r="0.9" fill="#cab2d6"/><circle cx="19.2" cy="11.2" r="0.9" fill="#b2df8a"/><circle cx="10.4" cy="1.4" r="0.9" fill="#a6cee3"/><circle cx="3.2" cy="22.5" r="0.9" fill="#cab2d6"/><circle cx="12.0" cy="14.5" r="0.9" fill="#a6cee3"/><circle cx="7.7" cy="28.2" r="0.9" fill="#a6cee3"/><circle cx="7.7" cy="-0.8" r="0.9" fill="#a6cee3"/><circle cx="4.9" cy="20.4" r="0.9" fill="#a6cee3"/><circle cx="21.9" cy="26.2" r="0.9" fill="#a6cee3"/><circle cx="24.5" cy="7.2" r="0.9" fill="#cab2d6"/><circle cx="3.4" cy="18.4" r="0.9" fill="#cab2d6"/><circle cx="20.4" cy="0.4" r="0.9" fill="#cab2d6"/><circle cx="20.4" cy="29.4" r="0.9" fill="#cab2d6"/><circle cx="26.4" cy="8.5" r="0.9" fill="#b2df8a"/><circle cx="5.7" cy="14.7" r="0.9" fill="#b2df8a"/><circle cx="14.1" cy="16.8" r="0.9" fill="#a6cee3"/><circle cx="6.6" cy="13.9" r="0.9" fill="#a6cee3"/><circle cx="10.1" cy="21.4" r="0.9" fill="#a6cee3"/><circle cx="7.5" cy="1.1" r="0.9" fill="#a6cee3"/><circle cx="0.6" cy="3.8" r="0.9" fill="#a6cee3"/><circle cx="29.6" cy="3.8" r="0.9" fill="#a6cee3"/><circle cx="28.9" cy="24.6" r="0.9" fill="#cab2d6"/><circle cx="-0.1" cy="24.6" r="0.9" fill="#cab2d6"/><circle cx="16.7" cy="1.6" r="0.9" fill="#cab2d6"/><circle cx="6.8" cy="16.0" r="0.9" fill="#cab2d6"/><circle cx="6.8" cy="12.7" r="0.9" fill="#6a3d9a"/><circle cx="17.3" cy="23.8" r="0.9" fill="#b2df8a"/><circle cx="28.9" cy="2.5" r="0.9" fill="#cab2d6"/><circle cx="-0.1" cy="2.5" r="0.9" fill="#cab2d6"/><circle cx="25.4" cy="16.1" r="0.9" fill="#cab2d6"/><circle cx="3.0" cy="7.2" r="0.9" fill="#a6cee3"/><circle cx="7.9" cy="29.0" r="0.9" fill="#a6cee3"/><circle cx="7.9" cy="-0.0" r="0.9" fill="#a6cee3"/><circle cx="13.3" cy="1.7" r="0.9" fill="#b2df8a"/><circle cx="16.3" cy="10.3" r="0.9" fill="#b2df8a"/><circle cx="22.7" cy="5.8" r="0.9" fill="#1f78b4"/><circle cx="18.3" cy="2.5" r="0.9" fill="#b2df8a"/><circle cx="18.2" cy="24.0" r="0.9" fill="#a6cee3"/><circle cx="8.8" cy="5.1" r="0.9" fill="#a6cee3"/><circle cx="15.6" cy="1.2" r="0.9" fill="#a6cee3"/><circle cx="3.9" cy="18.4" r="0.9" fill="#b2df8a"/><circle cx="16.0" cy="23.3" r="0.9" fill="#a6cee3"/><circle cx="23.8" cy="4.2" r="0.9" fill="#cab2d6"/><circle cx="1.2" cy="10.8" r="0.9" fill="#cab2d6"/><circle cx="2.6" cy="25.9" r="0.9" fill="#cab2d6"/><circle cx="26.0" cy="16.5" r="0.9" fill="#cab2d6"/><circle cx="16.4" cy="25.7" r="0.9" fill="#b2df8a"/><circle cx="16.6" cy="18.8" r="0.9" fill="#cab2d6"/><circle cx="8.0" cy="3.1" r="0.9" fill="#cab2d6"/><circle cx="15.6" cy="20.4" r="0.9" fill="#a6cee3"/><circle cx="9.6" cy="17.5" r="0.9" fill="#cab2d6"/><circle cx="6.2" cy="24.4" r="0.9" fill="#b2df8a"/><circle cx="17.7" cy="12.6" r="0.9" fill="#cab2d6"/><circle cx="21.4" cy="2.9" r="0.9" fill="#cab2d6"/><circle cx="8.1" cy="7.2" r="0.9" fill="#cab2d6"/><circle cx="16.6" cy="7.2" r="0.9" fill="#cab2d6"/><circle cx="7.5" cy="6.8" r="0.9" fill="#a6cee3"/><circle cx="10.4" cy="18.4" r="0.9" fill="#b2df8a"/><circle cx="6.4" cy="22.7" r="0.9" fill="#a6cee3"/><circle cx="6.0" cy="12.3" r="0.9" fill="#a6cee3"/><circle cx="11.6" cy="25.4" r="0.9" fill="#b2df8a"/><circle cx="20.4" cy="22.9" r="0.9" fill="#b2df8a"/><circle cx="3.2" cy="22.1" r="0.9" fill="#cab2d6"/><circle cx="4.8" cy="9.2" r="0.9" fill="#cab2d6"/><circle cx="10.8" cy="3.3" r="0.9" fill="#b2df8a"/><circle cx="7.5" cy="13.4" r="0.9" fill="#cab2d6"/><circle cx="23.1" cy="12.3" r="0.9" fill="#cab2d6"/><circle cx="22.9" cy="20.1" r="0.9" fill="#a6cee3"/><circle cx="21.5" cy="3.2" r="0.9" fill="#b2df8a"/><circle cx="27.3" cy="22.7" r="0.9" fill="#cab2d6"/><circle cx="24.7" cy="6.8" r="0.9" fill="#cab2d6"/><circle cx="22.6" cy="14.3" r="0.9" fill="#cab2d6"/><circle cx="2.3" cy="22.8" r="0.9" fill="#a6cee3"/><circle cx="17.9" cy="2.0" r="0.9" fill="#1f78b4"/><circle cx="10.3" cy="18.4" r="0.9" fill="#b2df8a"/><circle cx="16.7" cy="6.7" r="0.9" fill="#cab2d6"/><circle cx="16.1" cy="20.0" r="0.9" fill="#b2df8a"/><circle cx="9.3" cy="20.1" r="0.9" fill="#b2df8a"/><circle cx="0.1" cy="12.2" r="0.9" fill="#cab2d6"/><circle cx="29.1" cy="12.2" r="0.9" fill="#cab2d6"/><circle cx="13.7" cy="6.6" r="0.9" fill="#b2df8a"/><circle cx="28.8" cy="11.3" r="0.9" fill="#cab2d6"/><circle cx="-0.2" cy="11.3" r="0.9" fill="#cab2d6"/><circle cx="17.0" cy="27.0" r="0.9" fill="#6a3d9a"/><circle cx="7.5" cy="13.4" r="0.9" fill="#b2df8a"/><circle cx="11.8" cy="8.4" r="0.9" fill="#cab2d6"/><circle cx="4.8" cy="19.7" r="0.9" fill="#a6cee3"/><circle cx="11.2" cy="22.2" r="0.9" fill="#cab2d6"/><circle cx="28.2" cy="12.6" r="0.9" fill="#6a3d9a"/><circle cx="-0.8" cy="12.6" r="0.9" fill="#6a3d9a"/><circle cx="3.2" cy="15.4" r="0.9" fill="#6a3d9a"/><circle cx="0.7" cy="26.0" r="0.9" fill="#b2df8a"/><circle cx="29.7" cy="26.0" r="0.9" fill="#b2df8a"/><circle cx="21.4" cy="22.0" r="0.9" fill="#cab2d6"/><circle cx="8.6" cy="5.7" r="0.9" fill="#cab2d6"/><circle cx="12.3" cy="12.2" r="0.9" fill="#b2df8a"/><circle cx="5.0" cy="22.6" r="0.9" fill="#1f78b4"/><circle cx="1.9" cy="10.4" r="0.9" fill="#cab2d6"/><circle cx="7.0" cy="21.5" r="0.9" fill="#cab2d6"/><circle cx="3.6" cy="7.3" r="0.9" fill="#b2df8a"/><circle cx="14.8" cy="22.9" r="0.9" fill="#b2df8a"/><circle cx="22.1" cy="4.6" r="0.9" fill="#b2df8a"/><circle cx="26.4" cy="19.7" r="0.9" fill="#a6cee3"/><circle cx="16.6" cy="3.5" r="0.9" fill="#cab2d6"/><circle cx="9.3" cy="19.2" r="0.9" fill="#cab2d6"/><circle cx="21.1" cy="19.8" r="0.9" fill="#b2df8a"/><circle cx="5.8" cy="26.2" r="0.9" fill="#b2df8a"/><circle cx="12.7" cy="10.4" r="0.9" fill="#b2df8a"/><circle cx="12.1" cy="7.0" r="0.9" fill="#cab2d6"/><circle cx="9.5" cy="22.2" r="0.9" fill="#b2df8a"/><circle cx="5.8" cy="15.3" r="0.9" fill="#cab2d6"/><circle cx="21.8" cy="11.4" r="0.9" fill="#cab2d6"/><circle cx="12.1" cy="9.6" r="0.9" fill="#cab2d6"/><circle cx="6.6" cy="19.7" r="0.9" fill="#a6cee3"/><circle cx="4.0" cy="4.2" r="0.9" fill="#a6cee3"/><circle cx="10.0" cy="15.6" r="0.9" fill="#cab2d6"/><circle cx="10.1" cy="18.2" r="0.9" fill="#b2df8a"/><circle cx="5.7" cy="1.0" r="0.9" fill="#b2df8a"/><circle cx="24.9" cy="23.4" r="0.9" fill="#a6cee3"/><circle cx="11.9" cy="27.5" r="0.9" fill="#a6cee3"/><circle cx="28.6" cy="17.0" r="0.9" fill="#b2df8a"/><circle cx="-0.4" cy="17.0" r="0.9" fill="#b2df8a"/><circle cx="20.0" cy="2.8" r="0.9" fill="#1f78b4"/><circle cx="20.2" cy="21.5" r="0.9" fill="#cab2d6"/><circle cx="13.9" cy="0.3" r="0.9" fill="#a6cee3"/><circle cx="13.9" cy="29.3" r="0.9" fill="#a6cee3"/><circle cx="11.9" cy="25.1" r="0.9" fill="#cab2d6"/><circle cx="1.1" cy="28.9" r="0.9" fill="#a6cee3"/><circle cx="1.1" cy="-0.1" r="0.9" fill="#a6cee3"/><circle cx="10.4" cy="6.0" r="0.9" fill="#a6cee3"/><circle cx="5.8" cy="3.7" r="0.9" fill="#cab2d6"/><circle cx="26.4" cy="8.0" r="0.9" fill="#a6cee3"/><circle cx="13.4" cy="5.4" r="0.9" fill="#cab2d6"/><circle cx="3.1" cy="24.6" r="0.9" fill="#b2df8a"/><circle cx="11.7" cy="16.0" r="0.9" fill="#a6cee3"/><circle cx="8.2" cy="24.8" r="0.9" fill="#cab2d6"/><circle cx="21.4" cy="17.6" r="0.9" fill="#cab2d6"/><circle cx="17.9" cy="24.8" r="0.9" fill="#a6cee3"/><circle cx="23.1" cy="1.5" r="0.9" fill="#a6cee3"/><circle cx="3.1" cy="23.0" r="0.9" fill="#a6cee3"/><circle cx="16.3" cy="12.5" r="0.9" fill="#a6cee3"/><circle cx="17.2" cy="7.4" r="0.9" fill="#a6cee3"/><circle cx="8.1" cy="2.0" r="0.9" fill="#cab2d6"/><circle cx="21.6" cy="26.4" r="0.9" fill="#cab2d6"/><circle cx="12.7" cy="0.5" r="0.9" fill="#cab2d6"/><circle cx="12.7" cy="29.5" r="0.9" fill="#cab2d6"/><circle cx="18.7" cy="4.3" r="0.9" fill="#cab2d6"/><circle cx="27.0" cy="6.1" r="0.9" fill="#cab2d6"/><circle cx="26.5" cy="7.4" r="0.9" fill="#b2df8a"/><circle cx="0.1" cy="15.4" r="0.9" fill="#cab2d6"/><circle cx="29.1" cy="15.4" r="0.9" fill="#cab2d6"/><circle cx="11.6" cy="0.9" r="0.9" fill="#a6cee3"/><circle cx="11.6" cy="29.9" r="0.9" fill="#a6cee3"/><circle cx="8.0" cy="16.5" r="0.9" fill="#6a3d9a"/><circle cx="24.2" cy="1.6" r="0.9" fill="#b2df8a"/><circle cx="3.2" cy="18.5" r="0.9" fill="#a6cee3"/><circle cx="27.3" cy="16.9" r="0.9" fill="#cab2d6"/><circle cx="13.3" cy="24.3" r="0.9" fill="#cab2d6"/><circle cx="17.0" cy="15.1" r="0.9" fill="#b2df8a"/><circle cx="3.5" cy="7.1" r="0.9" fill="#cab2d6"/><circle cx="27.9" cy="6.8" r="0.9" fill="#cab2d6"/><circle cx="23.6" cy="7.5" r="0.9" fill="#b2df8a"/><circle cx="4.2" cy="1.0" r="0.9" fill="#b2df8a"/><circle cx="1.7" cy="7.9" r="0.9" fill="#b2df8a"/><circle cx="9.9" cy="18.6" r="0.9" fill="#6a3d9a"/><circle cx="2.3" cy="0.7" r="0.9" fill="#b2df8a"/><circle cx="2.3" cy="29.7" r="0.9" fill="#b2df8a"/><circle cx="3.1" cy="9.8" r="0.9" fill="#cab2d6"/><circle cx="26.9" cy="9.2" r="0.9" fill="#cab2d6"/><circle cx="27.8" cy="23.9" r="0.9" fill="#6a3d9a"/><circle cx="3.1" cy="19.2" r="0.9" fill="#b2df8a"/><circle cx="17.4" cy="11.6" r="0.9" fill="#6a3d9a"/><circle cx="23.1" cy="10.4" r="0.9" fill="#a6cee3"/><circle cx="10.6" cy="3.4" r="0.9" fill="#b2df8a"/><circle cx="8.7" cy="20.0" r="0.9" fill="#a6cee3"/><circle cx="20.4" cy="15.7" r="0.9" fill="#cab2d6"/><circle cx="2.6" cy="9.3" r="0.9" fill="#b2df8a"/><circle cx="11.0" cy="23.1" r="0.9" fill="#33a02c"/><circle cx="6.6" cy="13.0" r="0.9" fill="#a6cee3"/><circle cx="27.3" cy="19.9" r="0.9" fill="#a6cee3"/><circle cx="17.3" cy="2.1" r="0.9" fill="#b2df8a"/><circle cx="27.6" cy="7.6" r="0.9" fill="#cab2d6"/><circle cx="19.0" cy="20.4" r="0.9" fill="#a6cee3"/><circle cx="28.5" cy="19.9" r="0.9" fill="#a6cee3"/><circle cx="-0.5" cy="19.9" r="0.9" fill="#a6cee3"/><circle cx="14.0" cy="9.6" r="0.9" fill="#b2df8a"/><circle cx="4.4" cy="8.1" r="0.9" fill="#cab2d6"/><circle cx="13.7" cy="0.9" r="0.9" fill="#a6cee3"/><circle cx="20.8" cy="1.0" r="0.9" fill="#1f78b4"/><circle cx="7.0" cy="13.6" r="0.9" fill="#cab2d6"/><circle cx="1.0" cy="28.8" r="0.9" fill="#cab2d6"/><circle cx="1.0" cy="-0.2" r="0.9" fill="#cab2d6"/><circle cx="9.7" cy="7.1" r="0.9" fill="#1f78b4"/><circle cx="4.5" cy="22.6" r="0.9" fill="#cab2d6"/><circle cx="26.5" cy="7.7" r="0.9" fill="#b2df8a"/><circle cx="9.8" cy="10.2" r="0.9" fill="#b2df8a"/><circle cx="5.4" cy="24.5" r="0.9" fill="#a6cee3"/><circle cx="19.4" cy="2.1" r="0.9" fill="#cab2d6"/><circle cx="9.1" cy="20.9" r="0.9" fill="#cab2d6"/><circle cx="13.7" cy="12.4" r="0.9" fill="#cab2d6"/><circle cx="7.1" cy="15.8" r="0.9" fill="#cab2d6"/><circle cx="18.5" cy="27.3" r="0.9" fill="#33a02c"/><circle cx="26.4" cy="27.9" r="0.9" fill="#a6cee3"/><circle cx="16.0" cy="4.3" r="0.9" fill="#a6cee3"/><circle cx="20.7" cy="15.6" r="0.9" fill="#6a3d9a"/><circle cx="8.5" cy="25.3" r="0.9" fill="#a6cee3"/><circle cx="6.0" cy="12.1" r="0.9" fill="#cab2d6"/><circle cx="4.9" cy="22.0" r="0.9" fill="#cab2d6"/><circle cx="12.5" cy="16.3" r="0.9" fill="#cab2d6"/><circle cx="12.7" cy="17.4" r="0.9" fill="#cab2d6"/><circle cx="17.1" cy="22.0" r="0.9" fill="#b2df8a"/><circle cx="9.1" cy="6.8" r="0.9" fill="#b2df8a"/><circle cx="28.7" cy="28.3" r="0.9" fill="#a6cee3"/><circle cx="28.7" cy="-0.7" r="0.9" fill="#a6cee3"/><circle cx="-0.3" cy="28.3" r="0.9" fill="#a6cee3"/><circle cx="-0.3" cy="-0.7" r="0.9" fill="#a6cee3"/><circle cx="12.8" cy="4.7" r="0.9" fill="#b2df8a"/><circle cx="26.0" cy="12.4" r="0.9" fill="#b2df8a"/><circle cx="12.5" cy="24.6" r="0.9" fill="#cab2d6"/><circle cx="7.9" cy="9.9" r="0.9" fill="#cab2d6"/><circle cx="12.3" cy="15.3" r="0.9" fill="#a6cee3"/><circle cx="20.4" cy="12.4" r="0.9" fill="#cab2d6"/><circle cx="13.1" cy="3.2" r="0.9" fill="#b2df8a"/><circle cx="14.9" cy="23.6" r="0.9" fill="#b2df8a"/><circle cx="10.0" cy="11.1" r="0.9" fill="#b2df8a"/><circle cx="3.4" cy="4.6" r="0.9" fill="#b2df8a"/><circle cx="0.1" cy="20.5" r="0.9" fill="#a6cee3"/><circle cx="29.1" cy="20.5" r="0.9" fill="#a6cee3"/><circle cx="9.1" cy="25.6" r="0.9" fill="#1f78b4"/><circle cx="10.3" cy="10.1" r="0.9" fill="#cab2d6"/><circle cx="18.3" cy="26.8" r="0.9" fill="#a6cee3"/><circle cx="5.0" cy="23.2" r="0.9" fill="#a6cee3"/><circle cx="25.6" cy="5.5" r="0.9" fill="#b2df8a"/><circle cx="28.3" cy="28.1" r="0.9" fill="#a6cee3"/><circle cx="-0.7" cy="28.1" r="0.9" fill="#a6cee3"/><circle cx="16.5" cy="8.7" r="0.9" fill="#cab2d6"/><circle cx="3.5" cy="3.9" r="0.9" fill="#a6cee3"/><circle cx="14.6" cy="19.0" r="0.9" fill="#b2df8a"/><circle cx="26.0" cy="23.2" r="0.9" fill="#a6cee3"/><circle cx="5.2" cy="16.4" r="0.9" fill="#cab2d6"/><circle cx="27.3" cy="6.4" r="0.9" fill="#cab2d6"/><circle cx="11.0" cy="9.7" r="0.9" fill="#cab2d6"/><circle cx="20.0" cy="0.5" r="0.9" fill="#a6cee3"/><circle cx="20.0" cy="29.5" r="0.9" fill="#a6cee3"/><circle cx="8.4" cy="9.1" r="0.9" fill="#cab2d6"/><circle cx="7.2" cy="23.9" r="0.9" fill="#6a3d9a"/><circle cx="2.1" cy="11.5" r="0.9" fill="#b2df8a"/><circle cx="23.1" cy="2.8" r="0.9" fill="#a6cee3"/><circle cx="5.7" cy="18.9" r="0.9" fill="#cab2d6"/><circle cx="28.6" cy="27.9" r="0.9" fill="#a6cee3"/><circle cx="-0.4" cy="27.9" r="0.9" fill="#a6cee3"/><circle cx="18.2" cy="20.2" r="0.9" fill="#cab2d6"/><circle cx="2.0" cy="23.4" r="0.9" fill="#b2df8a"/><circle cx="8.1" cy="15.1" r="0.9" fill="#cab2d6"/><circle cx="25.4" cy="9.2" r="0.9" fill="#cab2d6"/><circle cx="25.4" cy="20.4" r="0.9" fill="#cab2d6"/><circle cx="23.4" cy="5.4" r="0.9" fill="#b2df8a"/><circle cx="21.2" cy="9.4" r="0.9" fill="#6a3d9a"/><circle cx="28.0" cy="17.3" r="0.9" fill="#cab2d6"/><circle cx="3.8" cy="1.3" r="0.9" fill="#a6cee3"/><circle cx="9.6" cy="27.0" r="0.9" fill="#a6cee3"/><circle cx="20.0" cy="27.8" r="0.9" fill="#cab2d6"/><circle cx="17.4" cy="22.2" r="0.9" fill="#cab2d6"/><circle cx="4.6" cy="23.6" r="0.9" fill="#a6cee3"/><circle cx="19.3" cy="6.4" r="0.9" fill="#b2df8a"/><circle cx="16.5" cy="17.6" r="0.9" fill="#cab2d6"/><circle cx="2.2" cy="4.3" r="0.9" fill="#a6cee3"/><circle cx="17.2" cy="20.7" r="0.9" fill="#cab2d6"/><circle cx="2.7" cy="15.1" r="0.9" fill="#a6cee3"/><circle cx="25.4" cy="28.2" r="0.9" fill="#a6cee3"/><circle cx="25.4" cy="-0.8" r="0.9" fill="#a6cee3"/><circle cx="10.6" cy="18.6" r="0.9" fill="#a6cee3"/><circle cx="4.9" cy="26.0" r="0.9" fill="#cab2d6"/><circle cx="5.7" cy="6.9" r="0.9" fill="#cab2d6"/><circle cx="26.8" cy="5.7" r="0.9" fill="#b2df8a"/><circle cx="16.4" cy="28.3" r="0.9" fill="#cab2d6"/><circle cx="16.4" cy="-0.7" r="0.9" fill="#cab2d6"/><circle cx="23.7" cy="22.6" r="0.9" fill="#a6cee3"/><circle cx="0.4" cy="0.9" r="0.9" fill="#cab2d6"/><circle cx="0.4" cy="29.9" r="0.9" fill="#cab2d6"/><circle cx="29.4" cy="0.9" r="0.9" fill="#cab2d6"/><circle cx="29.4" cy="29.9" r="0.9" fill="#cab2d6"/><circle cx="1.3" cy="17.8" r="0.9" fill="#cab2d6"/><circle cx="28.7" cy="6.6" r="0.9" fill="#a6cee3"/><circle cx="-0.3" cy="6.6" r="0.9" fill="#a6cee3"/><circle cx="7.6" cy="0.6" r="0.9" fill="#a6cee3"/><circle cx="7.6" cy="29.6" r="0.9" fill="#a6cee3"/><circle cx="18.1" cy="22.2" r="0.9" fill="#cab2d6"/><circle cx="11.3" cy="13.9" r="0.9" fill="#cab2d6"/><circle cx="22.7" cy="20.3" r="0.9" fill="#a6cee3"/><circle cx="15.7" cy="14.2" r="0.9" fill="#b2df8a"/><circle cx="0.7" cy="18.0" r="0.9" fill="#a6cee3"/><circle cx="29.7" cy="18.0" r="0.9" fill="#a6cee3"/><circle cx="0.1" cy="15.2" r="0.9" fill="#cab2d6"/><circle cx="29.1" cy="15.2" r="0.9" fill="#cab2d6"/><circle cx="26.0" cy="26.4" r="0.9" fill="#cab2d6"/><circle cx="20.8" cy="3.6" r="0.9" fill="#cab2d6"/><circle cx="8.5" cy="10.9" r="0.9" fill="#b2df8a"/><circle cx="21.4" cy="9.0" r="0.9" fill="#b2df8a"/><circle cx="1.6" cy="18.0" r="0.9" fill="#a6cee3"/><circle cx="2.6" cy="26.3" r="0.9" fill="#cab2d6"/><circle cx="1.8" cy="27.2" r="0.9" fill="#cab2d6"/><circle cx="2.8" cy="8.3" r="0.9" fill="#b2df8a"/><circle cx="6.8" cy="20.3" r="0.9" fill="#a6cee3"/><circle cx="12.3" cy="4.2" r="0.9" fill="#b2df8a"/><circle cx="1.3" cy="27.7" r="0.9" fill="#cab2d6"/><circle cx="10.8" cy="12.5" r="0.9" fill="#b2df8a"/><circle cx="18.2" cy="0.0" r="0.9" fill="#cab2d6"/><circle cx="18.2" cy="29.0" r="0.9" fill="#cab2d6"/><circle cx="28.4" cy="19.4" r="0.9" fill="#cab2d6"/><circle cx="-0.6" cy="19.4" r="0.9" fill="#cab2d6"/><circle cx="27.0" cy="14.7" r="0.9" fill="#a6cee3"/><circle cx="18.1" cy="9.5" r="0.9" fill="#cab2d6"/><circle cx="1.6" cy="15.8" r="0.9" fill="#a6cee3"/><circle cx="26.5" cy="9.2" r="0.9" fill="#cab2d6"/><circle cx="14.9" cy="27.1" r="0.9" fill="#a6cee3"/><circle cx="18.2" cy="28.9" r="0.9" fill="#b2df8a"/><circle cx="18.2" cy="-0.1" r="0.9" fill="#b2df8a"/><circle cx="8.5" cy="9.3" r="0.9" fill="#b2df8a"/><circle cx="1.0" cy="10.3" r="0.9" fill="#b2df8a"/><circle cx="8.7" cy="16.4" r="0.9" fill="#cab2d6"/><circle cx="25.0" cy="5.6" r="0.9" fill="#b2df8a"/><circle cx="6.6" cy="6.0" r="0.9" fill="#a6cee3"/><circle cx="15.1" cy="4.2" r="0.9" fill="#cab2d6"/><circle cx="7.5" cy="19.3" r="0.9" fill="#b2df8a"/><circle cx="25.6" cy="7.4" r="0.9" fill="#cab2d6"/><circle cx="17.2" cy="15.6" r="0.9" fill="#a6cee3"/><circle cx="8.8" cy="3.4" r="0.9" fill="#cab2d6"/></pattern>
<pattern id="pm" width="29" height="29" patternUnits="userSpaceOnUse"><rect width="29" height="29" fill="#c4c2dc"/><circle cx="25.2" cy="3.2" r="0.85" fill="#cab2d6"/><circle cx="12.4" cy="28.0" r="0.85" fill="#cab2d6"/><circle cx="15.9" cy="27.6" r="0.85" fill="#b2df8a"/><circle cx="9.4" cy="11.0" r="0.85" fill="#1f78b4"/><circle cx="26.7" cy="2.9" r="0.85" fill="#a6cee3"/><circle cx="26.6" cy="14.0" r="0.85" fill="#a6cee3"/><circle cx="13.1" cy="4.7" r="0.85" fill="#a6cee3"/><circle cx="1.5" cy="15.3" r="0.85" fill="#cab2d6"/><circle cx="0.1" cy="0.1" r="0.85" fill="#b2df8a"/><circle cx="0.1" cy="29.1" r="0.85" fill="#b2df8a"/><circle cx="29.1" cy="0.1" r="0.85" fill="#b2df8a"/><circle cx="29.1" cy="29.1" r="0.85" fill="#b2df8a"/><circle cx="3.9" cy="0.6" r="0.85" fill="#6a3d9a"/><circle cx="3.9" cy="29.6" r="0.85" fill="#6a3d9a"/><circle cx="7.4" cy="17.7" r="0.85" fill="#cab2d6"/><circle cx="14.8" cy="16.4" r="0.85" fill="#cab2d6"/><circle cx="4.8" cy="12.8" r="0.85" fill="#b2df8a"/><circle cx="28.7" cy="12.0" r="0.85" fill="#a6cee3"/><circle cx="-0.3" cy="12.0" r="0.85" fill="#a6cee3"/><circle cx="21.6" cy="27.1" r="0.85" fill="#cab2d6"/><circle cx="14.2" cy="14.1" r="0.85" fill="#a6cee3"/><circle cx="18.3" cy="20.3" r="0.85" fill="#a6cee3"/><circle cx="28.2" cy="10.7" r="0.85" fill="#a6cee3"/><circle cx="-0.8" cy="10.7" r="0.85" fill="#a6cee3"/><circle cx="5.3" cy="25.4" r="0.85" fill="#6a3d9a"/><circle cx="28.1" cy="4.6" r="0.85" fill="#6a3d9a"/><circle cx="9.5" cy="17.1" r="0.85" fill="#a6cee3"/><circle cx="8.4" cy="11.2" r="0.85" fill="#a6cee3"/><circle cx="7.0" cy="18.8" r="0.85" fill="#b2df8a"/><circle cx="25.1" cy="21.7" r="0.85" fill="#cab2d6"/><circle cx="15.5" cy="24.3" r="0.85" fill="#a6cee3"/><circle cx="11.8" cy="24.7" r="0.85" fill="#b2df8a"/><circle cx="21.7" cy="1.2" r="0.85" fill="#cab2d6"/><circle cx="10.6" cy="3.4" r="0.85" fill="#a6cee3"/><circle cx="2.4" cy="4.1" r="0.85" fill="#cab2d6"/><circle cx="20.0" cy="19.9" r="0.85" fill="#6a3d9a"/><circle cx="11.8" cy="10.6" r="0.85" fill="#a6cee3"/><circle cx="22.8" cy="23.1" r="0.85" fill="#b2df8a"/><circle cx="6.6" cy="12.2" r="0.85" fill="#1f78b4"/><circle cx="20.2" cy="5.4" r="0.85" fill="#a6cee3"/><circle cx="7.9" cy="20.9" r="0.85" fill="#1f78b4"/><circle cx="21.7" cy="18.1" r="0.85" fill="#1f78b4"/><circle cx="9.1" cy="3.3" r="0.85" fill="#1f78b4"/><circle cx="4.5" cy="9.3" r="0.85" fill="#cab2d6"/><circle cx="2.3" cy="25.4" r="0.85" fill="#b2df8a"/><circle cx="4.9" cy="21.0" r="0.85" fill="#cab2d6"/><circle cx="20.4" cy="24.5" r="0.85" fill="#1f78b4"/><circle cx="24.5" cy="25.7" r="0.85" fill="#cab2d6"/><circle cx="22.1" cy="7.8" r="0.85" fill="#cab2d6"/><circle cx="3.7" cy="14.3" r="0.85" fill="#6a3d9a"/><circle cx="18.5" cy="20.3" r="0.85" fill="#a6cee3"/><circle cx="7.6" cy="9.4" r="0.85" fill="#b2df8a"/><circle cx="0.8" cy="8.6" r="0.85" fill="#6a3d9a"/><circle cx="29.8" cy="8.6" r="0.85" fill="#6a3d9a"/><circle cx="21.9" cy="14.5" r="0.85" fill="#1f78b4"/><circle cx="25.1" cy="22.8" r="0.85" fill="#b2df8a"/><circle cx="16.9" cy="19.9" r="0.85" fill="#cab2d6"/><circle cx="1.1" cy="7.2" r="0.85" fill="#6a3d9a"/><circle cx="22.1" cy="20.2" r="0.85" fill="#a6cee3"/><circle cx="22.4" cy="1.9" r="0.85" fill="#b2df8a"/><circle cx="13.8" cy="5.2" r="0.85" fill="#cab2d6"/><circle cx="24.4" cy="12.6" r="0.85" fill="#b2df8a"/><circle cx="15.6" cy="6.9" r="0.85" fill="#a6cee3"/><circle cx="20.9" cy="26.4" r="0.85" fill="#1f78b4"/><circle cx="26.0" cy="7.9" r="0.85" fill="#b2df8a"/><circle cx="16.6" cy="28.8" r="0.85" fill="#6a3d9a"/><circle cx="16.6" cy="-0.2" r="0.85" fill="#6a3d9a"/><circle cx="12.9" cy="6.0" r="0.85" fill="#a6cee3"/><circle cx="8.3" cy="28.4" r="0.85" fill="#b2df8a"/><circle cx="8.3" cy="-0.6" r="0.85" fill="#b2df8a"/><circle cx="26.5" cy="16.1" r="0.85" fill="#33a02c"/><circle cx="3.8" cy="7.7" r="0.85" fill="#b2df8a"/><circle cx="23.7" cy="3.0" r="0.85" fill="#cab2d6"/><circle cx="26.1" cy="24.7" r="0.85" fill="#cab2d6"/><circle cx="26.7" cy="26.9" r="0.85" fill="#cab2d6"/><circle cx="24.6" cy="26.7" r="0.85" fill="#a6cee3"/><circle cx="17.6" cy="13.6" r="0.85" fill="#a6cee3"/><circle cx="0.3" cy="17.5" r="0.85" fill="#33a02c"/><circle cx="29.3" cy="17.5" r="0.85" fill="#33a02c"/><circle cx="20.1" cy="11.7" r="0.85" fill="#6a3d9a"/><circle cx="21.5" cy="12.0" r="0.85" fill="#cab2d6"/><circle cx="8.8" cy="2.9" r="0.85" fill="#b2df8a"/><circle cx="7.3" cy="15.7" r="0.85" fill="#6a3d9a"/><circle cx="5.9" cy="2.2" r="0.85" fill="#b2df8a"/><circle cx="28.3" cy="0.2" r="0.85" fill="#a6cee3"/><circle cx="28.3" cy="29.2" r="0.85" fill="#a6cee3"/><circle cx="-0.7" cy="0.2" r="0.85" fill="#a6cee3"/><circle cx="-0.7" cy="29.2" r="0.85" fill="#a6cee3"/><circle cx="10.5" cy="21.7" r="0.85" fill="#1f78b4"/><circle cx="22.3" cy="0.0" r="0.85" fill="#cab2d6"/><circle cx="22.3" cy="29.0" r="0.85" fill="#cab2d6"/><circle cx="28.5" cy="7.0" r="0.85" fill="#b2df8a"/><circle cx="-0.5" cy="7.0" r="0.85" fill="#b2df8a"/><circle cx="16.6" cy="16.5" r="0.85" fill="#a6cee3"/><circle cx="10.8" cy="4.7" r="0.85" fill="#cab2d6"/><circle cx="17.0" cy="23.6" r="0.85" fill="#6a3d9a"/><circle cx="21.8" cy="6.1" r="0.85" fill="#a6cee3"/><circle cx="0.4" cy="15.2" r="0.85" fill="#1f78b4"/><circle cx="29.4" cy="15.2" r="0.85" fill="#1f78b4"/><circle cx="9.9" cy="1.0" r="0.85" fill="#a6cee3"/><circle cx="28.3" cy="14.1" r="0.85" fill="#6a3d9a"/><circle cx="-0.7" cy="14.1" r="0.85" fill="#6a3d9a"/><circle cx="26.6" cy="16.2" r="0.85" fill="#cab2d6"/><circle cx="0.1" cy="11.9" r="0.85" fill="#cab2d6"/><circle cx="29.1" cy="11.9" r="0.85" fill="#cab2d6"/><circle cx="9.3" cy="11.2" r="0.85" fill="#a6cee3"/><circle cx="12.4" cy="17.3" r="0.85" fill="#a6cee3"/><circle cx="24.1" cy="17.5" r="0.85" fill="#1f78b4"/><circle cx="1.4" cy="0.1" r="0.85" fill="#cab2d6"/><circle cx="1.4" cy="29.1" r="0.85" fill="#cab2d6"/><circle cx="1.3" cy="23.9" r="0.85" fill="#33a02c"/><circle cx="6.3" cy="3.8" r="0.85" fill="#6a3d9a"/><circle cx="2.3" cy="25.4" r="0.85" fill="#a6cee3"/><circle cx="14.2" cy="0.1" r="0.85" fill="#cab2d6"/><circle cx="14.2" cy="29.1" r="0.85" fill="#cab2d6"/><circle cx="21.0" cy="20.8" r="0.85" fill="#cab2d6"/><circle cx="18.0" cy="12.3" r="0.85" fill="#6a3d9a"/><circle cx="3.1" cy="23.2" r="0.85" fill="#6a3d9a"/><circle cx="3.6" cy="18.2" r="0.85" fill="#a6cee3"/><circle cx="0.5" cy="6.0" r="0.85" fill="#6a3d9a"/><circle cx="29.5" cy="6.0" r="0.85" fill="#6a3d9a"/><circle cx="17.0" cy="22.0" r="0.85" fill="#1f78b4"/><circle cx="20.1" cy="4.3" r="0.85" fill="#a6cee3"/><circle cx="15.4" cy="10.1" r="0.85" fill="#6a3d9a"/><circle cx="8.8" cy="15.5" r="0.85" fill="#cab2d6"/><circle cx="9.3" cy="4.0" r="0.85" fill="#a6cee3"/><circle cx="1.3" cy="16.7" r="0.85" fill="#cab2d6"/><circle cx="27.1" cy="22.8" r="0.85" fill="#cab2d6"/><circle cx="10.5" cy="13.0" r="0.85" fill="#cab2d6"/><circle cx="14.3" cy="9.2" r="0.85" fill="#6a3d9a"/><circle cx="8.1" cy="26.8" r="0.85" fill="#cab2d6"/><circle cx="12.0" cy="3.9" r="0.85" fill="#b2df8a"/><circle cx="28.2" cy="16.3" r="0.85" fill="#1f78b4"/><circle cx="-0.8" cy="16.3" r="0.85" fill="#1f78b4"/><circle cx="27.6" cy="22.9" r="0.85" fill="#a6cee3"/><circle cx="2.1" cy="7.1" r="0.85" fill="#cab2d6"/><circle cx="16.3" cy="6.7" r="0.85" fill="#33a02c"/><circle cx="19.1" cy="12.8" r="0.85" fill="#cab2d6"/><circle cx="7.1" cy="11.1" r="0.85" fill="#1f78b4"/><circle cx="6.7" cy="14.3" r="0.85" fill="#33a02c"/><circle cx="1.0" cy="15.5" r="0.85" fill="#cab2d6"/><circle cx="11.8" cy="14.6" r="0.85" fill="#6a3d9a"/><circle cx="0.2" cy="13.6" r="0.85" fill="#6a3d9a"/><circle cx="29.2" cy="13.6" r="0.85" fill="#6a3d9a"/><circle cx="17.6" cy="2.4" r="0.85" fill="#a6cee3"/><circle cx="23.2" cy="12.6" r="0.85" fill="#a6cee3"/><circle cx="12.1" cy="14.4" r="0.85" fill="#33a02c"/><circle cx="12.4" cy="22.1" r="0.85" fill="#cab2d6"/><circle cx="1.5" cy="12.4" r="0.85" fill="#cab2d6"/><circle cx="26.2" cy="7.0" r="0.85" fill="#a6cee3"/><circle cx="17.9" cy="1.1" r="0.85" fill="#a6cee3"/><circle cx="2.3" cy="5.0" r="0.85" fill="#cab2d6"/><circle cx="9.6" cy="23.5" r="0.85" fill="#a6cee3"/><circle cx="23.5" cy="13.4" r="0.85" fill="#6a3d9a"/><circle cx="4.2" cy="1.4" r="0.85" fill="#a6cee3"/><circle cx="28.0" cy="10.4" r="0.85" fill="#1f78b4"/><circle cx="3.8" cy="27.3" r="0.85" fill="#6a3d9a"/><circle cx="25.1" cy="20.1" r="0.85" fill="#a6cee3"/><circle cx="5.8" cy="5.8" r="0.85" fill="#b2df8a"/><circle cx="27.1" cy="10.5" r="0.85" fill="#b2df8a"/><circle cx="23.5" cy="19.6" r="0.85" fill="#a6cee3"/><circle cx="3.8" cy="24.0" r="0.85" fill="#6a3d9a"/><circle cx="24.6" cy="3.6" r="0.85" fill="#33a02c"/><circle cx="23.3" cy="19.8" r="0.85" fill="#cab2d6"/><circle cx="9.9" cy="28.0" r="0.85" fill="#cab2d6"/><circle cx="18.2" cy="0.7" r="0.85" fill="#b2df8a"/><circle cx="18.2" cy="29.7" r="0.85" fill="#b2df8a"/><circle cx="5.8" cy="13.3" r="0.85" fill="#b2df8a"/><circle cx="28.9" cy="17.0" r="0.85" fill="#b2df8a"/><circle cx="-0.1" cy="17.0" r="0.85" fill="#b2df8a"/><circle cx="8.5" cy="2.2" r="0.85" fill="#b2df8a"/><circle cx="6.1" cy="26.5" r="0.85" fill="#a6cee3"/><circle cx="7.5" cy="4.2" r="0.85" fill="#a6cee3"/><circle cx="12.4" cy="11.6" r="0.85" fill="#6a3d9a"/><circle cx="11.7" cy="5.6" r="0.85" fill="#a6cee3"/><circle cx="4.5" cy="5.8" r="0.85" fill="#1f78b4"/><circle cx="23.5" cy="9.6" r="0.85" fill="#6a3d9a"/><circle cx="19.8" cy="11.0" r="0.85" fill="#1f78b4"/><circle cx="5.1" cy="24.3" r="0.85" fill="#6a3d9a"/><circle cx="12.0" cy="20.5" r="0.85" fill="#cab2d6"/><circle cx="2.9" cy="26.7" r="0.85" fill="#1f78b4"/><circle cx="28.5" cy="2.6" r="0.85" fill="#b2df8a"/><circle cx="-0.5" cy="2.6" r="0.85" fill="#b2df8a"/><circle cx="19.0" cy="8.2" r="0.85" fill="#cab2d6"/><circle cx="11.2" cy="10.7" r="0.85" fill="#a6cee3"/><circle cx="24.6" cy="10.0" r="0.85" fill="#cab2d6"/><circle cx="11.2" cy="23.5" r="0.85" fill="#1f78b4"/><circle cx="6.5" cy="6.6" r="0.85" fill="#b2df8a"/><circle cx="5.3" cy="3.0" r="0.85" fill="#cab2d6"/><circle cx="24.2" cy="3.8" r="0.85" fill="#6a3d9a"/><circle cx="21.5" cy="25.0" r="0.85" fill="#cab2d6"/><circle cx="4.3" cy="13.8" r="0.85" fill="#cab2d6"/><circle cx="18.6" cy="8.5" r="0.85" fill="#b2df8a"/><circle cx="17.0" cy="24.1" r="0.85" fill="#a6cee3"/><circle cx="17.7" cy="7.9" r="0.85" fill="#cab2d6"/><circle cx="9.4" cy="21.4" r="0.85" fill="#6a3d9a"/><circle cx="0.8" cy="14.1" r="0.85" fill="#b2df8a"/><circle cx="29.8" cy="14.1" r="0.85" fill="#b2df8a"/><circle cx="6.8" cy="20.7" r="0.85" fill="#cab2d6"/><circle cx="24.5" cy="13.4" r="0.85" fill="#cab2d6"/><circle cx="16.6" cy="6.1" r="0.85" fill="#1f78b4"/><circle cx="10.9" cy="8.8" r="0.85" fill="#1f78b4"/><circle cx="0.3" cy="13.9" r="0.85" fill="#cab2d6"/><circle cx="29.3" cy="13.9" r="0.85" fill="#cab2d6"/><circle cx="15.5" cy="23.1" r="0.85" fill="#cab2d6"/><circle cx="15.1" cy="10.3" r="0.85" fill="#a6cee3"/><circle cx="3.9" cy="3.4" r="0.85" fill="#b2df8a"/><circle cx="19.8" cy="16.7" r="0.85" fill="#6a3d9a"/><circle cx="17.2" cy="4.2" r="0.85" fill="#a6cee3"/><circle cx="15.2" cy="3.7" r="0.85" fill="#a6cee3"/><circle cx="22.4" cy="28.9" r="0.85" fill="#a6cee3"/><circle cx="22.4" cy="-0.1" r="0.85" fill="#a6cee3"/><circle cx="16.9" cy="19.0" r="0.85" fill="#cab2d6"/><circle cx="0.7" cy="22.7" r="0.85" fill="#cab2d6"/><circle cx="29.7" cy="22.7" r="0.85" fill="#cab2d6"/><circle cx="8.2" cy="11.0" r="0.85" fill="#a6cee3"/><circle cx="24.3" cy="19.4" r="0.85" fill="#a6cee3"/><circle cx="26.9" cy="27.0" r="0.85" fill="#a6cee3"/><circle cx="6.9" cy="10.4" r="0.85" fill="#cab2d6"/><circle cx="26.0" cy="19.5" r="0.85" fill="#6a3d9a"/><circle cx="21.0" cy="22.1" r="0.85" fill="#6a3d9a"/><circle cx="6.5" cy="5.3" r="0.85" fill="#a6cee3"/><circle cx="15.5" cy="14.4" r="0.85" fill="#6a3d9a"/><circle cx="14.7" cy="25.0" r="0.85" fill="#a6cee3"/><circle cx="5.4" cy="9.2" r="0.85" fill="#33a02c"/><circle cx="10.8" cy="1.3" r="0.85" fill="#6a3d9a"/><circle cx="23.4" cy="9.6" r="0.85" fill="#cab2d6"/><circle cx="12.9" cy="22.5" r="0.85" fill="#cab2d6"/><circle cx="8.8" cy="10.7" r="0.85" fill="#a6cee3"/><circle cx="17.4" cy="9.9" r="0.85" fill="#a6cee3"/><circle cx="11.8" cy="7.8" r="0.85" fill="#33a02c"/><circle cx="4.4" cy="7.1" r="0.85" fill="#cab2d6"/><circle cx="22.9" cy="26.0" r="0.85" fill="#b2df8a"/><circle cx="23.3" cy="28.6" r="0.85" fill="#a6cee3"/><circle cx="23.3" cy="-0.4" r="0.85" fill="#a6cee3"/><circle cx="28.7" cy="1.0" r="0.85" fill="#cab2d6"/><circle cx="-0.3" cy="1.0" r="0.85" fill="#cab2d6"/><circle cx="22.5" cy="8.3" r="0.85" fill="#a6cee3"/><circle cx="0.4" cy="23.4" r="0.85" fill="#cab2d6"/><circle cx="29.4" cy="23.4" r="0.85" fill="#cab2d6"/><circle cx="23.3" cy="16.5" r="0.85" fill="#b2df8a"/><circle cx="0.5" cy="4.0" r="0.85" fill="#1f78b4"/><circle cx="29.5" cy="4.0" r="0.85" fill="#1f78b4"/><circle cx="25.3" cy="9.1" r="0.85" fill="#cab2d6"/><circle cx="16.5" cy="2.6" r="0.85" fill="#cab2d6"/><circle cx="27.7" cy="8.9" r="0.85" fill="#a6cee3"/><circle cx="21.6" cy="27.5" r="0.85" fill="#b2df8a"/><circle cx="4.4" cy="16.1" r="0.85" fill="#b2df8a"/><circle cx="7.6" cy="18.2" r="0.85" fill="#33a02c"/><circle cx="2.8" cy="22.7" r="0.85" fill="#1f78b4"/><circle cx="14.4" cy="10.4" r="0.85" fill="#a6cee3"/><circle cx="27.9" cy="17.0" r="0.85" fill="#cab2d6"/><circle cx="24.4" cy="13.2" r="0.85" fill="#33a02c"/><circle cx="8.1" cy="5.6" r="0.85" fill="#b2df8a"/><circle cx="26.7" cy="3.9" r="0.85" fill="#a6cee3"/><circle cx="19.9" cy="6.4" r="0.85" fill="#1f78b4"/><circle cx="10.9" cy="16.2" r="0.85" fill="#cab2d6"/><circle cx="21.9" cy="8.5" r="0.85" fill="#cab2d6"/><circle cx="26.3" cy="7.6" r="0.85" fill="#cab2d6"/><circle cx="12.4" cy="2.8" r="0.85" fill="#a6cee3"/><circle cx="7.3" cy="5.4" r="0.85" fill="#1f78b4"/><circle cx="9.7" cy="7.1" r="0.85" fill="#cab2d6"/><circle cx="20.8" cy="19.0" r="0.85" fill="#1f78b4"/><circle cx="16.0" cy="4.5" r="0.85" fill="#1f78b4"/><circle cx="5.5" cy="2.6" r="0.85" fill="#a6cee3"/><circle cx="15.1" cy="20.0" r="0.85" fill="#6a3d9a"/><circle cx="11.6" cy="14.1" r="0.85" fill="#cab2d6"/><circle cx="21.1" cy="19.6" r="0.85" fill="#b2df8a"/><circle cx="19.8" cy="4.6" r="0.85" fill="#6a3d9a"/><circle cx="24.4" cy="18.5" r="0.85" fill="#b2df8a"/><circle cx="22.8" cy="2.7" r="0.85" fill="#b2df8a"/><circle cx="10.0" cy="2.9" r="0.85" fill="#cab2d6"/><circle cx="25.5" cy="3.3" r="0.85" fill="#1f78b4"/><circle cx="10.4" cy="15.4" r="0.85" fill="#1f78b4"/><circle cx="20.4" cy="21.7" r="0.85" fill="#6a3d9a"/><circle cx="27.8" cy="5.7" r="0.85" fill="#cab2d6"/><circle cx="0.6" cy="23.4" r="0.85" fill="#a6cee3"/><circle cx="29.6" cy="23.4" r="0.85" fill="#a6cee3"/><circle cx="23.0" cy="11.2" r="0.85" fill="#cab2d6"/><circle cx="1.2" cy="8.0" r="0.85" fill="#33a02c"/><circle cx="1.2" cy="16.0" r="0.85" fill="#b2df8a"/><circle cx="26.5" cy="24.6" r="0.85" fill="#cab2d6"/><circle cx="24.1" cy="25.6" r="0.85" fill="#cab2d6"/><circle cx="4.1" cy="0.1" r="0.85" fill="#a6cee3"/><circle cx="4.1" cy="29.1" r="0.85" fill="#a6cee3"/><circle cx="23.5" cy="20.0" r="0.85" fill="#b2df8a"/><circle cx="9.9" cy="12.6" r="0.85" fill="#cab2d6"/><circle cx="23.9" cy="25.6" r="0.85" fill="#1f78b4"/><circle cx="28.4" cy="17.7" r="0.85" fill="#cab2d6"/><circle cx="-0.6" cy="17.7" r="0.85" fill="#cab2d6"/><circle cx="25.1" cy="23.8" r="0.85" fill="#b2df8a"/><circle cx="14.7" cy="24.9" r="0.85" fill="#6a3d9a"/><circle cx="11.5" cy="20.2" r="0.85" fill="#33a02c"/><circle cx="3.6" cy="1.8" r="0.85" fill="#1f78b4"/><circle cx="27.1" cy="2.7" r="0.85" fill="#6a3d9a"/><circle cx="22.6" cy="23.2" r="0.85" fill="#cab2d6"/><circle cx="14.1" cy="5.5" r="0.85" fill="#1f78b4"/><circle cx="7.4" cy="0.8" r="0.85" fill="#a6cee3"/><circle cx="7.4" cy="29.8" r="0.85" fill="#a6cee3"/><circle cx="7.5" cy="15.5" r="0.85" fill="#6a3d9a"/><circle cx="5.5" cy="9.2" r="0.85" fill="#cab2d6"/><circle cx="8.6" cy="1.5" r="0.85" fill="#1f78b4"/><circle cx="4.0" cy="8.3" r="0.85" fill="#a6cee3"/><circle cx="18.6" cy="13.0" r="0.85" fill="#cab2d6"/><circle cx="12.5" cy="4.1" r="0.85" fill="#cab2d6"/><circle cx="7.2" cy="1.0" r="0.85" fill="#cab2d6"/><circle cx="8.3" cy="22.1" r="0.85" fill="#cab2d6"/><circle cx="10.2" cy="24.1" r="0.85" fill="#33a02c"/><circle cx="22.1" cy="23.3" r="0.85" fill="#cab2d6"/><circle cx="3.1" cy="0.5" r="0.85" fill="#a6cee3"/><circle cx="3.1" cy="29.5" r="0.85" fill="#a6cee3"/><circle cx="10.0" cy="23.5" r="0.85" fill="#33a02c"/><circle cx="0.8" cy="27.3" r="0.85" fill="#a6cee3"/><circle cx="29.8" cy="27.3" r="0.85" fill="#a6cee3"/><circle cx="14.8" cy="27.8" r="0.85" fill="#b2df8a"/><circle cx="2.9" cy="10.7" r="0.85" fill="#cab2d6"/><circle cx="9.4" cy="5.5" r="0.85" fill="#cab2d6"/><circle cx="18.6" cy="22.8" r="0.85" fill="#b2df8a"/><circle cx="23.7" cy="20.0" r="0.85" fill="#a6cee3"/><circle cx="0.0" cy="26.7" r="0.85" fill="#b2df8a"/><circle cx="29.0" cy="26.7" r="0.85" fill="#b2df8a"/><circle cx="4.7" cy="16.4" r="0.85" fill="#cab2d6"/><circle cx="19.6" cy="14.4" r="0.85" fill="#b2df8a"/><circle cx="9.5" cy="11.3" r="0.85" fill="#1f78b4"/><circle cx="13.3" cy="15.7" r="0.85" fill="#6a3d9a"/><circle cx="6.8" cy="26.0" r="0.85" fill="#cab2d6"/><circle cx="6.6" cy="12.3" r="0.85" fill="#a6cee3"/><circle cx="10.8" cy="18.3" r="0.85" fill="#6a3d9a"/><circle cx="12.6" cy="28.5" r="0.85" fill="#cab2d6"/><circle cx="12.6" cy="-0.5" r="0.85" fill="#cab2d6"/><circle cx="9.4" cy="13.5" r="0.85" fill="#a6cee3"/><circle cx="12.1" cy="3.3" r="0.85" fill="#a6cee3"/><circle cx="0.8" cy="12.9" r="0.85" fill="#1f78b4"/><circle cx="29.8" cy="12.9" r="0.85" fill="#1f78b4"/><circle cx="16.6" cy="8.8" r="0.85" fill="#b2df8a"/><circle cx="23.4" cy="14.2" r="0.85" fill="#b2df8a"/><circle cx="3.0" cy="5.9" r="0.85" fill="#6a3d9a"/><circle cx="6.8" cy="25.1" r="0.85" fill="#cab2d6"/><circle cx="17.5" cy="28.2" r="0.85" fill="#6a3d9a"/><circle cx="17.5" cy="-0.8" r="0.85" fill="#6a3d9a"/><circle cx="19.8" cy="23.4" r="0.85" fill="#cab2d6"/><circle cx="3.7" cy="9.7" r="0.85" fill="#cab2d6"/><circle cx="0.8" cy="0.9" r="0.85" fill="#33a02c"/><circle cx="29.8" cy="0.9" r="0.85" fill="#33a02c"/><circle cx="1.2" cy="7.3" r="0.85" fill="#b2df8a"/><circle cx="6.7" cy="12.9" r="0.85" fill="#6a3d9a"/><circle cx="27.6" cy="8.5" r="0.85" fill="#a6cee3"/><circle cx="28.3" cy="14.6" r="0.85" fill="#b2df8a"/><circle cx="-0.7" cy="14.6" r="0.85" fill="#b2df8a"/><circle cx="28.0" cy="20.1" r="0.85" fill="#33a02c"/><circle cx="0.5" cy="6.8" r="0.85" fill="#b2df8a"/><circle cx="29.5" cy="6.8" r="0.85" fill="#b2df8a"/><circle cx="12.0" cy="16.3" r="0.85" fill="#6a3d9a"/><circle cx="4.9" cy="26.6" r="0.85" fill="#a6cee3"/><circle cx="18.7" cy="18.8" r="0.85" fill="#cab2d6"/><circle cx="7.6" cy="11.3" r="0.85" fill="#b2df8a"/><circle cx="27.3" cy="19.4" r="0.85" fill="#a6cee3"/><circle cx="5.0" cy="28.6" r="0.85" fill="#cab2d6"/><circle cx="5.0" cy="-0.4" r="0.85" fill="#cab2d6"/><circle cx="24.9" cy="21.5" r="0.85" fill="#cab2d6"/><circle cx="0.6" cy="24.4" r="0.85" fill="#b2df8a"/><circle cx="29.6" cy="24.4" r="0.85" fill="#b2df8a"/><circle cx="28.9" cy="5.4" r="0.85" fill="#1f78b4"/><circle cx="-0.1" cy="5.4" r="0.85" fill="#1f78b4"/><circle cx="24.1" cy="19.3" r="0.85" fill="#cab2d6"/><circle cx="14.6" cy="5.1" r="0.85" fill="#b2df8a"/><circle cx="7.3" cy="10.9" r="0.85" fill="#cab2d6"/><circle cx="1.6" cy="26.8" r="0.85" fill="#b2df8a"/><circle cx="14.9" cy="23.3" r="0.85" fill="#a6cee3"/><circle cx="20.0" cy="11.3" r="0.85" fill="#1f78b4"/><circle cx="25.8" cy="2.5" r="0.85" fill="#cab2d6"/><circle cx="11.9" cy="23.8" r="0.85" fill="#a6cee3"/><circle cx="24.5" cy="1.6" r="0.85" fill="#a6cee3"/><circle cx="22.0" cy="25.3" r="0.85" fill="#a6cee3"/><circle cx="27.3" cy="0.3" r="0.85" fill="#b2df8a"/><circle cx="27.3" cy="29.3" r="0.85" fill="#b2df8a"/><circle cx="6.8" cy="2.4" r="0.85" fill="#cab2d6"/><circle cx="25.9" cy="9.1" r="0.85" fill="#a6cee3"/><circle cx="17.5" cy="8.1" r="0.85" fill="#cab2d6"/><circle cx="25.7" cy="8.1" r="0.85" fill="#a6cee3"/><circle cx="12.9" cy="12.1" r="0.85" fill="#cab2d6"/><circle cx="14.6" cy="8.6" r="0.85" fill="#33a02c"/><circle cx="14.7" cy="7.4" r="0.85" fill="#33a02c"/><circle cx="11.1" cy="18.6" r="0.85" fill="#a6cee3"/><circle cx="7.9" cy="21.5" r="0.85" fill="#a6cee3"/><circle cx="12.1" cy="13.3" r="0.85" fill="#a6cee3"/><circle cx="21.0" cy="12.7" r="0.85" fill="#cab2d6"/><circle cx="24.0" cy="12.4" r="0.85" fill="#b2df8a"/><circle cx="7.1" cy="4.3" r="0.85" fill="#6a3d9a"/><circle cx="16.4" cy="12.9" r="0.85" fill="#cab2d6"/><circle cx="17.5" cy="8.6" r="0.85" fill="#a6cee3"/><circle cx="12.2" cy="8.3" r="0.85" fill="#b2df8a"/><circle cx="0.3" cy="2.6" r="0.85" fill="#cab2d6"/><circle cx="29.3" cy="2.6" r="0.85" fill="#cab2d6"/><circle cx="16.1" cy="21.1" r="0.85" fill="#1f78b4"/><circle cx="24.3" cy="4.0" r="0.85" fill="#6a3d9a"/><circle cx="23.1" cy="3.8" r="0.85" fill="#1f78b4"/><circle cx="1.4" cy="15.3" r="0.85" fill="#a6cee3"/><circle cx="12.0" cy="8.2" r="0.85" fill="#a6cee3"/><circle cx="26.9" cy="5.2" r="0.85" fill="#a6cee3"/><circle cx="16.1" cy="17.5" r="0.85" fill="#6a3d9a"/><circle cx="13.0" cy="27.8" r="0.85" fill="#cab2d6"/><circle cx="23.9" cy="1.2" r="0.85" fill="#6a3d9a"/><circle cx="2.2" cy="22.0" r="0.85" fill="#b2df8a"/><circle cx="6.8" cy="8.6" r="0.85" fill="#cab2d6"/><circle cx="11.7" cy="5.2" r="0.85" fill="#b2df8a"/><circle cx="15.1" cy="19.8" r="0.85" fill="#b2df8a"/><circle cx="26.4" cy="6.5" r="0.85" fill="#b2df8a"/><circle cx="8.8" cy="23.0" r="0.85" fill="#cab2d6"/><circle cx="7.8" cy="6.2" r="0.85" fill="#33a02c"/><circle cx="14.0" cy="12.7" r="0.85" fill="#1f78b4"/><circle cx="20.7" cy="20.6" r="0.85" fill="#6a3d9a"/><circle cx="13.5" cy="20.5" r="0.85" fill="#cab2d6"/><circle cx="5.0" cy="27.0" r="0.85" fill="#cab2d6"/><circle cx="10.1" cy="6.3" r="0.85" fill="#cab2d6"/><circle cx="20.9" cy="15.8" r="0.85" fill="#a6cee3"/><circle cx="7.6" cy="9.9" r="0.85" fill="#1f78b4"/><circle cx="24.4" cy="27.8" r="0.85" fill="#a6cee3"/><circle cx="6.6" cy="5.1" r="0.85" fill="#a6cee3"/><circle cx="20.7" cy="0.1" r="0.85" fill="#cab2d6"/><circle cx="20.7" cy="29.1" r="0.85" fill="#cab2d6"/><circle cx="9.6" cy="14.0" r="0.85" fill="#a6cee3"/><circle cx="0.2" cy="15.2" r="0.85" fill="#33a02c"/><circle cx="29.2" cy="15.2" r="0.85" fill="#33a02c"/><circle cx="10.8" cy="0.2" r="0.85" fill="#cab2d6"/><circle cx="10.8" cy="29.2" r="0.85" fill="#cab2d6"/><circle cx="16.4" cy="23.6" r="0.85" fill="#a6cee3"/><circle cx="23.8" cy="3.2" r="0.85" fill="#b2df8a"/><circle cx="26.2" cy="12.7" r="0.85" fill="#33a02c"/><circle cx="3.4" cy="10.2" r="0.85" fill="#33a02c"/><circle cx="3.1" cy="0.5" r="0.85" fill="#a6cee3"/><circle cx="3.1" cy="29.5" r="0.85" fill="#a6cee3"/><circle cx="1.7" cy="26.1" r="0.85" fill="#b2df8a"/><circle cx="6.2" cy="15.4" r="0.85" fill="#cab2d6"/><circle cx="28.1" cy="25.9" r="0.85" fill="#1f78b4"/><circle cx="26.9" cy="14.4" r="0.85" fill="#b2df8a"/><circle cx="16.8" cy="23.1" r="0.85" fill="#a6cee3"/><circle cx="12.2" cy="1.1" r="0.85" fill="#cab2d6"/><circle cx="4.3" cy="17.9" r="0.85" fill="#cab2d6"/><circle cx="10.7" cy="8.4" r="0.85" fill="#cab2d6"/><circle cx="11.8" cy="16.2" r="0.85" fill="#b2df8a"/><circle cx="17.1" cy="3.1" r="0.85" fill="#cab2d6"/><circle cx="18.5" cy="21.9" r="0.85" fill="#6a3d9a"/><circle cx="10.7" cy="21.0" r="0.85" fill="#a6cee3"/><circle cx="19.0" cy="4.1" r="0.85" fill="#6a3d9a"/><circle cx="15.8" cy="28.4" r="0.85" fill="#a6cee3"/><circle cx="15.8" cy="-0.6" r="0.85" fill="#a6cee3"/><circle cx="24.9" cy="22.4" r="0.85" fill="#1f78b4"/><circle cx="25.1" cy="5.9" r="0.85" fill="#6a3d9a"/><circle cx="11.1" cy="24.5" r="0.85" fill="#cab2d6"/><circle cx="23.5" cy="16.2" r="0.85" fill="#cab2d6"/><circle cx="8.3" cy="12.9" r="0.85" fill="#a6cee3"/><circle cx="2.3" cy="27.2" r="0.85" fill="#a6cee3"/><circle cx="1.5" cy="28.2" r="0.85" fill="#a6cee3"/><circle cx="1.5" cy="-0.8" r="0.85" fill="#a6cee3"/><circle cx="24.0" cy="13.0" r="0.85" fill="#1f78b4"/><circle cx="12.2" cy="3.9" r="0.85" fill="#cab2d6"/><circle cx="9.2" cy="19.0" r="0.85" fill="#b2df8a"/><circle cx="15.0" cy="22.4" r="0.85" fill="#33a02c"/><circle cx="2.0" cy="3.5" r="0.85" fill="#b2df8a"/><circle cx="4.8" cy="19.6" r="0.85" fill="#cab2d6"/><circle cx="10.4" cy="0.9" r="0.85" fill="#6a3d9a"/><circle cx="6.2" cy="4.6" r="0.85" fill="#cab2d6"/><circle cx="5.9" cy="23.7" r="0.85" fill="#b2df8a"/><circle cx="5.4" cy="18.4" r="0.85" fill="#33a02c"/><circle cx="20.7" cy="24.0" r="0.85" fill="#cab2d6"/><circle cx="13.6" cy="14.8" r="0.85" fill="#cab2d6"/><circle cx="1.6" cy="10.6" r="0.85" fill="#b2df8a"/><circle cx="2.6" cy="13.6" r="0.85" fill="#cab2d6"/><circle cx="14.1" cy="12.0" r="0.85" fill="#cab2d6"/><circle cx="2.6" cy="1.4" r="0.85" fill="#cab2d6"/><circle cx="7.9" cy="25.4" r="0.85" fill="#a6cee3"/><circle cx="19.3" cy="2.0" r="0.85" fill="#b2df8a"/><circle cx="8.6" cy="13.1" r="0.85" fill="#1f78b4"/><circle cx="26.2" cy="12.1" r="0.85" fill="#6a3d9a"/><circle cx="6.9" cy="19.0" r="0.85" fill="#a6cee3"/><circle cx="5.7" cy="5.5" r="0.85" fill="#cab2d6"/><circle cx="18.8" cy="7.7" r="0.85" fill="#cab2d6"/><circle cx="25.3" cy="7.8" r="0.85" fill="#cab2d6"/><circle cx="12.5" cy="15.9" r="0.85" fill="#6a3d9a"/><circle cx="23.7" cy="13.8" r="0.85" fill="#a6cee3"/><circle cx="1.6" cy="7.4" r="0.85" fill="#a6cee3"/><circle cx="1.7" cy="15.3" r="0.85" fill="#cab2d6"/><circle cx="22.2" cy="9.2" r="0.85" fill="#a6cee3"/><circle cx="25.5" cy="15.6" r="0.85" fill="#a6cee3"/><circle cx="19.9" cy="11.3" r="0.85" fill="#a6cee3"/><circle cx="10.4" cy="1.5" r="0.85" fill="#cab2d6"/><circle cx="22.5" cy="21.5" r="0.85" fill="#33a02c"/><circle cx="28.7" cy="27.7" r="0.85" fill="#a6cee3"/><circle cx="-0.3" cy="27.7" r="0.85" fill="#a6cee3"/><circle cx="7.2" cy="18.5" r="0.85" fill="#a6cee3"/><circle cx="22.0" cy="11.7" r="0.85" fill="#cab2d6"/><circle cx="17.3" cy="6.2" r="0.85" fill="#cab2d6"/><circle cx="4.3" cy="1.2" r="0.85" fill="#6a3d9a"/><circle cx="21.3" cy="17.9" r="0.85" fill="#cab2d6"/><circle cx="2.9" cy="5.7" r="0.85" fill="#cab2d6"/><circle cx="27.8" cy="10.3" r="0.85" fill="#cab2d6"/><circle cx="3.5" cy="21.7" r="0.85" fill="#b2df8a"/><circle cx="4.9" cy="16.1" r="0.85" fill="#cab2d6"/><circle cx="5.2" cy="4.2" r="0.85" fill="#a6cee3"/><circle cx="26.9" cy="27.4" r="0.85" fill="#a6cee3"/><circle cx="7.5" cy="23.6" r="0.85" fill="#1f78b4"/><circle cx="13.4" cy="4.3" r="0.85" fill="#a6cee3"/><circle cx="23.0" cy="8.2" r="0.85" fill="#b2df8a"/><circle cx="19.3" cy="0.8" r="0.85" fill="#cab2d6"/><circle cx="19.3" cy="29.8" r="0.85" fill="#cab2d6"/><circle cx="27.5" cy="13.3" r="0.85" fill="#cab2d6"/><circle cx="27.6" cy="0.5" r="0.85" fill="#6a3d9a"/><circle cx="27.6" cy="29.5" r="0.85" fill="#6a3d9a"/><circle cx="5.4" cy="13.0" r="0.85" fill="#b2df8a"/><circle cx="22.5" cy="11.8" r="0.85" fill="#cab2d6"/><circle cx="15.6" cy="12.2" r="0.85" fill="#1f78b4"/><circle cx="16.3" cy="13.7" r="0.85" fill="#b2df8a"/><circle cx="21.6" cy="25.4" r="0.85" fill="#33a02c"/><circle cx="19.5" cy="20.9" r="0.85" fill="#6a3d9a"/><circle cx="19.4" cy="1.6" r="0.85" fill="#1f78b4"/><circle cx="12.5" cy="4.7" r="0.85" fill="#cab2d6"/><circle cx="23.3" cy="8.5" r="0.85" fill="#cab2d6"/><circle cx="2.3" cy="0.4" r="0.85" fill="#6a3d9a"/><circle cx="2.3" cy="29.4" r="0.85" fill="#6a3d9a"/><circle cx="27.9" cy="23.6" r="0.85" fill="#6a3d9a"/><circle cx="1.5" cy="18.8" r="0.85" fill="#cab2d6"/><circle cx="10.8" cy="9.3" r="0.85" fill="#6a3d9a"/><circle cx="13.2" cy="3.3" r="0.85" fill="#a6cee3"/><circle cx="11.0" cy="21.8" r="0.85" fill="#1f78b4"/><circle cx="17.8" cy="28.0" r="0.85" fill="#cab2d6"/><circle cx="13.0" cy="3.6" r="0.85" fill="#b2df8a"/><circle cx="1.4" cy="27.1" r="0.85" fill="#cab2d6"/><circle cx="0.5" cy="14.6" r="0.85" fill="#6a3d9a"/><circle cx="29.5" cy="14.6" r="0.85" fill="#6a3d9a"/><circle cx="4.4" cy="21.4" r="0.85" fill="#6a3d9a"/><circle cx="15.1" cy="24.2" r="0.85" fill="#a6cee3"/><circle cx="21.7" cy="5.4" r="0.85" fill="#cab2d6"/><circle cx="15.7" cy="14.7" r="0.85" fill="#cab2d6"/><circle cx="20.6" cy="23.5" r="0.85" fill="#cab2d6"/><circle cx="20.1" cy="10.0" r="0.85" fill="#a6cee3"/><circle cx="28.9" cy="10.3" r="0.85" fill="#cab2d6"/><circle cx="-0.1" cy="10.3" r="0.85" fill="#cab2d6"/><circle cx="21.4" cy="2.5" r="0.85" fill="#a6cee3"/><circle cx="24.2" cy="12.4" r="0.85" fill="#1f78b4"/><circle cx="13.7" cy="17.6" r="0.85" fill="#b2df8a"/><circle cx="1.1" cy="12.1" r="0.85" fill="#6a3d9a"/><circle cx="0.7" cy="13.6" r="0.85" fill="#a6cee3"/><circle cx="29.7" cy="13.6" r="0.85" fill="#a6cee3"/><circle cx="6.6" cy="2.0" r="0.85" fill="#33a02c"/><circle cx="15.1" cy="21.6" r="0.85" fill="#a6cee3"/><circle cx="26.2" cy="2.3" r="0.85" fill="#33a02c"/><circle cx="14.3" cy="25.9" r="0.85" fill="#b2df8a"/><circle cx="19.8" cy="19.3" r="0.85" fill="#cab2d6"/><circle cx="24.3" cy="28.9" r="0.85" fill="#1f78b4"/><circle cx="24.3" cy="-0.1" r="0.85" fill="#1f78b4"/><circle cx="17.1" cy="24.8" r="0.85" fill="#cab2d6"/><circle cx="9.9" cy="3.4" r="0.85" fill="#a6cee3"/><circle cx="26.1" cy="9.6" r="0.85" fill="#cab2d6"/><circle cx="9.7" cy="14.5" r="0.85" fill="#cab2d6"/><circle cx="11.5" cy="8.0" r="0.85" fill="#cab2d6"/><circle cx="27.0" cy="8.0" r="0.85" fill="#1f78b4"/><circle cx="4.7" cy="28.7" r="0.85" fill="#33a02c"/><circle cx="4.7" cy="-0.3" r="0.85" fill="#33a02c"/><circle cx="5.7" cy="3.0" r="0.85" fill="#a6cee3"/><circle cx="7.2" cy="7.9" r="0.85" fill="#b2df8a"/><circle cx="27.7" cy="8.0" r="0.85" fill="#1f78b4"/><circle cx="22.9" cy="6.6" r="0.85" fill="#cab2d6"/><circle cx="2.8" cy="6.3" r="0.85" fill="#cab2d6"/><circle cx="3.5" cy="10.6" r="0.85" fill="#a6cee3"/><circle cx="13.0" cy="12.8" r="0.85" fill="#cab2d6"/><circle cx="20.2" cy="18.3" r="0.85" fill="#6a3d9a"/><circle cx="7.8" cy="23.9" r="0.85" fill="#cab2d6"/><circle cx="26.4" cy="15.0" r="0.85" fill="#cab2d6"/><circle cx="3.5" cy="6.9" r="0.85" fill="#cab2d6"/><circle cx="8.9" cy="18.3" r="0.85" fill="#1f78b4"/><circle cx="4.5" cy="20.2" r="0.85" fill="#cab2d6"/><circle cx="19.9" cy="6.4" r="0.85" fill="#6a3d9a"/><circle cx="22.2" cy="17.4" r="0.85" fill="#33a02c"/><circle cx="26.1" cy="12.2" r="0.85" fill="#b2df8a"/><circle cx="13.5" cy="2.2" r="0.85" fill="#cab2d6"/><circle cx="19.9" cy="5.9" r="0.85" fill="#b2df8a"/><circle cx="6.3" cy="27.7" r="0.85" fill="#cab2d6"/><circle cx="14.5" cy="25.7" r="0.85" fill="#b2df8a"/><circle cx="14.1" cy="13.6" r="0.85" fill="#a6cee3"/><circle cx="20.7" cy="24.9" r="0.85" fill="#cab2d6"/><circle cx="0.7" cy="20.9" r="0.85" fill="#6a3d9a"/><circle cx="29.7" cy="20.9" r="0.85" fill="#6a3d9a"/><circle cx="15.4" cy="18.0" r="0.85" fill="#cab2d6"/><circle cx="4.7" cy="16.6" r="0.85" fill="#33a02c"/><circle cx="24.7" cy="6.2" r="0.85" fill="#cab2d6"/><circle cx="6.0" cy="9.6" r="0.85" fill="#cab2d6"/><circle cx="11.9" cy="8.0" r="0.85" fill="#6a3d9a"/><circle cx="18.2" cy="15.3" r="0.85" fill="#b2df8a"/><circle cx="11.3" cy="1.9" r="0.85" fill="#1f78b4"/><circle cx="27.5" cy="14.0" r="0.85" fill="#cab2d6"/><circle cx="11.7" cy="28.8" r="0.85" fill="#33a02c"/><circle cx="11.7" cy="-0.2" r="0.85" fill="#33a02c"/><circle cx="17.4" cy="27.3" r="0.85" fill="#cab2d6"/><circle cx="28.3" cy="20.9" r="0.85" fill="#1f78b4"/><circle cx="-0.7" cy="20.9" r="0.85" fill="#1f78b4"/><circle cx="3.5" cy="19.0" r="0.85" fill="#cab2d6"/><circle cx="18.2" cy="5.6" r="0.85" fill="#a6cee3"/><circle cx="18.9" cy="28.7" r="0.85" fill="#b2df8a"/><circle cx="18.9" cy="-0.3" r="0.85" fill="#b2df8a"/><circle cx="15.6" cy="29.0" r="0.85" fill="#cab2d6"/><circle cx="15.6" cy="-0.0" r="0.85" fill="#cab2d6"/><circle cx="10.7" cy="13.0" r="0.85" fill="#1f78b4"/><circle cx="13.1" cy="15.3" r="0.85" fill="#a6cee3"/><circle cx="21.3" cy="28.6" r="0.85" fill="#a6cee3"/><circle cx="21.3" cy="-0.4" r="0.85" fill="#a6cee3"/><circle cx="24.9" cy="16.3" r="0.85" fill="#a6cee3"/><circle cx="25.1" cy="14.9" r="0.85" fill="#cab2d6"/><circle cx="5.8" cy="16.7" r="0.85" fill="#a6cee3"/><circle cx="23.6" cy="18.8" r="0.85" fill="#33a02c"/><circle cx="24.7" cy="10.1" r="0.85" fill="#b2df8a"/><circle cx="26.0" cy="28.5" r="0.85" fill="#6a3d9a"/><circle cx="26.0" cy="-0.5" r="0.85" fill="#6a3d9a"/><circle cx="21.6" cy="27.9" r="0.85" fill="#b2df8a"/><circle cx="20.5" cy="2.4" r="0.85" fill="#cab2d6"/><circle cx="17.8" cy="1.6" r="0.85" fill="#cab2d6"/><circle cx="18.3" cy="14.8" r="0.85" fill="#cab2d6"/><circle cx="16.8" cy="22.9" r="0.85" fill="#cab2d6"/><circle cx="10.1" cy="6.1" r="0.85" fill="#cab2d6"/><circle cx="25.7" cy="17.5" r="0.85" fill="#a6cee3"/><circle cx="17.5" cy="22.1" r="0.85" fill="#1f78b4"/><circle cx="28.6" cy="11.1" r="0.85" fill="#b2df8a"/><circle cx="-0.4" cy="11.1" r="0.85" fill="#b2df8a"/><circle cx="15.7" cy="5.4" r="0.85" fill="#a6cee3"/><circle cx="7.1" cy="5.0" r="0.85" fill="#1f78b4"/><circle cx="12.4" cy="8.7" r="0.85" fill="#cab2d6"/><circle cx="14.2" cy="11.8" r="0.85" fill="#1f78b4"/><circle cx="13.9" cy="25.2" r="0.85" fill="#a6cee3"/><circle cx="24.7" cy="22.9" r="0.85" fill="#6a3d9a"/><circle cx="14.9" cy="17.7" r="0.85" fill="#cab2d6"/><circle cx="15.1" cy="9.3" r="0.85" fill="#cab2d6"/><circle cx="5.3" cy="24.8" r="0.85" fill="#6a3d9a"/><circle cx="18.1" cy="17.0" r="0.85" fill="#a6cee3"/><circle cx="0.2" cy="23.1" r="0.85" fill="#a6cee3"/><circle cx="29.2" cy="23.1" r="0.85" fill="#a6cee3"/><circle cx="23.2" cy="10.3" r="0.85" fill="#1f78b4"/><circle cx="6.2" cy="2.5" r="0.85" fill="#6a3d9a"/><circle cx="25.0" cy="2.4" r="0.85" fill="#cab2d6"/><circle cx="20.5" cy="19.5" r="0.85" fill="#cab2d6"/><circle cx="16.8" cy="27.5" r="0.85" fill="#cab2d6"/><circle cx="19.2" cy="20.2" r="0.85" fill="#cab2d6"/><circle cx="14.9" cy="19.0" r="0.85" fill="#b2df8a"/><circle cx="26.2" cy="5.1" r="0.85" fill="#33a02c"/><circle cx="0.0" cy="8.4" r="0.85" fill="#cab2d6"/><circle cx="29.0" cy="8.4" r="0.85" fill="#cab2d6"/><circle cx="26.8" cy="3.5" r="0.85" fill="#a6cee3"/><circle cx="26.6" cy="2.3" r="0.85" fill="#cab2d6"/><circle cx="27.8" cy="21.2" r="0.85" fill="#cab2d6"/><circle cx="9.5" cy="16.1" r="0.85" fill="#1f78b4"/><circle cx="21.2" cy="16.7" r="0.85" fill="#33a02c"/><circle cx="1.9" cy="0.2" r="0.85" fill="#a6cee3"/><circle cx="1.9" cy="29.2" r="0.85" fill="#a6cee3"/><circle cx="10.0" cy="8.4" r="0.85" fill="#cab2d6"/><circle cx="11.9" cy="9.3" r="0.85" fill="#1f78b4"/><circle cx="20.6" cy="25.9" r="0.85" fill="#cab2d6"/><circle cx="10.0" cy="19.7" r="0.85" fill="#6a3d9a"/><circle cx="21.4" cy="4.9" r="0.85" fill="#a6cee3"/><circle cx="16.2" cy="2.1" r="0.85" fill="#a6cee3"/><circle cx="9.9" cy="27.5" r="0.85" fill="#cab2d6"/><circle cx="21.6" cy="15.8" r="0.85" fill="#cab2d6"/><circle cx="18.9" cy="14.4" r="0.85" fill="#cab2d6"/><circle cx="22.5" cy="18.8" r="0.85" fill="#1f78b4"/><circle cx="17.4" cy="5.2" r="0.85" fill="#6a3d9a"/><circle cx="5.2" cy="6.0" r="0.85" fill="#1f78b4"/><circle cx="6.0" cy="10.8" r="0.85" fill="#1f78b4"/><circle cx="2.9" cy="8.2" r="0.85" fill="#1f78b4"/><circle cx="15.5" cy="8.2" r="0.85" fill="#cab2d6"/><circle cx="11.9" cy="24.5" r="0.85" fill="#cab2d6"/><circle cx="7.3" cy="27.8" r="0.85" fill="#6a3d9a"/><circle cx="14.3" cy="11.4" r="0.85" fill="#cab2d6"/><circle cx="1.8" cy="5.3" r="0.85" fill="#a6cee3"/><circle cx="15.7" cy="23.0" r="0.85" fill="#cab2d6"/><circle cx="19.5" cy="16.3" r="0.85" fill="#6a3d9a"/><circle cx="5.8" cy="5.1" r="0.85" fill="#b2df8a"/><circle cx="27.3" cy="8.5" r="0.85" fill="#6a3d9a"/><circle cx="24.0" cy="5.2" r="0.85" fill="#a6cee3"/><circle cx="7.1" cy="14.0" r="0.85" fill="#cab2d6"/><circle cx="21.3" cy="14.9" r="0.85" fill="#6a3d9a"/><circle cx="14.1" cy="26.2" r="0.85" fill="#b2df8a"/><circle cx="5.7" cy="23.3" r="0.85" fill="#cab2d6"/><circle cx="22.0" cy="1.8" r="0.85" fill="#6a3d9a"/><circle cx="16.7" cy="2.4" r="0.85" fill="#cab2d6"/><circle cx="25.2" cy="17.2" r="0.85" fill="#cab2d6"/><circle cx="16.6" cy="17.3" r="0.85" fill="#cab2d6"/><circle cx="16.1" cy="17.8" r="0.85" fill="#cab2d6"/><circle cx="7.7" cy="9.2" r="0.85" fill="#cab2d6"/><circle cx="14.3" cy="23.4" r="0.85" fill="#b2df8a"/><circle cx="24.0" cy="5.9" r="0.85" fill="#6a3d9a"/><circle cx="14.4" cy="3.9" r="0.85" fill="#a6cee3"/><circle cx="3.3" cy="25.4" r="0.85" fill="#b2df8a"/><circle cx="17.0" cy="0.2" r="0.85" fill="#1f78b4"/><circle cx="17.0" cy="29.2" r="0.85" fill="#1f78b4"/><circle cx="21.5" cy="1.2" r="0.85" fill="#6a3d9a"/><circle cx="21.2" cy="12.8" r="0.85" fill="#33a02c"/><circle cx="7.2" cy="8.8" r="0.85" fill="#a6cee3"/><circle cx="15.2" cy="25.0" r="0.85" fill="#33a02c"/><circle cx="13.0" cy="6.9" r="0.85" fill="#cab2d6"/><circle cx="12.5" cy="24.3" r="0.85" fill="#6a3d9a"/><circle cx="8.5" cy="26.6" r="0.85" fill="#cab2d6"/><circle cx="28.1" cy="11.9" r="0.85" fill="#a6cee3"/><circle cx="17.5" cy="22.6" r="0.85" fill="#cab2d6"/><circle cx="28.8" cy="12.4" r="0.85" fill="#cab2d6"/><circle cx="-0.2" cy="12.4" r="0.85" fill="#cab2d6"/><circle cx="2.6" cy="16.8" r="0.85" fill="#33a02c"/><circle cx="1.6" cy="13.7" r="0.85" fill="#1f78b4"/><circle cx="9.6" cy="12.7" r="0.85" fill="#b2df8a"/><circle cx="14.1" cy="0.3" r="0.85" fill="#a6cee3"/><circle cx="14.1" cy="29.3" r="0.85" fill="#a6cee3"/><circle cx="18.6" cy="21.3" r="0.85" fill="#b2df8a"/><circle cx="7.3" cy="4.6" r="0.85" fill="#cab2d6"/><circle cx="4.2" cy="12.2" r="0.85" fill="#cab2d6"/><circle cx="19.9" cy="24.3" r="0.85" fill="#cab2d6"/><circle cx="25.4" cy="19.3" r="0.85" fill="#cab2d6"/><circle cx="6.7" cy="17.9" r="0.85" fill="#a6cee3"/><circle cx="10.6" cy="18.1" r="0.85" fill="#cab2d6"/><circle cx="6.1" cy="8.9" r="0.85" fill="#cab2d6"/><circle cx="20.4" cy="25.0" r="0.85" fill="#1f78b4"/><circle cx="26.4" cy="0.9" r="0.85" fill="#cab2d6"/><circle cx="25.1" cy="22.7" r="0.85" fill="#33a02c"/><circle cx="24.5" cy="1.3" r="0.85" fill="#a6cee3"/><circle cx="10.8" cy="21.4" r="0.85" fill="#1f78b4"/><circle cx="19.9" cy="4.5" r="0.85" fill="#cab2d6"/><circle cx="16.3" cy="4.1" r="0.85" fill="#a6cee3"/><circle cx="17.7" cy="6.9" r="0.85" fill="#a6cee3"/><circle cx="3.1" cy="14.0" r="0.85" fill="#cab2d6"/><circle cx="26.9" cy="14.1" r="0.85" fill="#cab2d6"/><circle cx="27.8" cy="12.6" r="0.85" fill="#6a3d9a"/><circle cx="12.2" cy="12.2" r="0.85" fill="#cab2d6"/><circle cx="15.3" cy="27.4" r="0.85" fill="#b2df8a"/><circle cx="1.2" cy="10.6" r="0.85" fill="#cab2d6"/><circle cx="19.9" cy="3.9" r="0.85" fill="#cab2d6"/><circle cx="12.5" cy="2.3" r="0.85" fill="#cab2d6"/><circle cx="23.7" cy="26.8" r="0.85" fill="#6a3d9a"/><circle cx="0.9" cy="9.1" r="0.85" fill="#b2df8a"/><circle cx="13.0" cy="10.1" r="0.85" fill="#cab2d6"/><circle cx="21.1" cy="26.8" r="0.85" fill="#a6cee3"/><circle cx="1.0" cy="10.5" r="0.85" fill="#b2df8a"/><circle cx="11.6" cy="8.4" r="0.85" fill="#a6cee3"/><circle cx="23.8" cy="9.5" r="0.85" fill="#33a02c"/><circle cx="13.9" cy="17.7" r="0.85" fill="#1f78b4"/><circle cx="21.7" cy="13.9" r="0.85" fill="#33a02c"/><circle cx="7.5" cy="23.3" r="0.85" fill="#6a3d9a"/><circle cx="16.9" cy="28.1" r="0.85" fill="#cab2d6"/><circle cx="11.6" cy="2.0" r="0.85" fill="#cab2d6"/><circle cx="5.4" cy="24.7" r="0.85" fill="#cab2d6"/><circle cx="19.0" cy="15.5" r="0.85" fill="#1f78b4"/><circle cx="24.8" cy="8.6" r="0.85" fill="#cab2d6"/><circle cx="16.4" cy="1.9" r="0.85" fill="#cab2d6"/><circle cx="2.1" cy="9.0" r="0.85" fill="#a6cee3"/><circle cx="4.4" cy="6.2" r="0.85" fill="#a6cee3"/><circle cx="24.7" cy="15.6" r="0.85" fill="#1f78b4"/><circle cx="28.9" cy="25.1" r="0.85" fill="#cab2d6"/><circle cx="-0.1" cy="25.1" r="0.85" fill="#cab2d6"/><circle cx="7.9" cy="16.8" r="0.85" fill="#33a02c"/></pattern>
<pattern id="pd" width="29" height="29" patternUnits="userSpaceOnUse"><rect width="29" height="29" fill="#8a8cc0"/><circle cx="4.1" cy="10.8" r="0.85" fill="#cab2d6"/><circle cx="13.7" cy="18.1" r="0.85" fill="#6a3d9a"/><circle cx="5.7" cy="26.8" r="0.85" fill="#a6cee3"/><circle cx="20.4" cy="1.4" r="0.85" fill="#cab2d6"/><circle cx="14.0" cy="12.5" r="0.85" fill="#6a3d9a"/><circle cx="11.1" cy="24.3" r="0.85" fill="#1f78b4"/><circle cx="16.6" cy="25.8" r="0.85" fill="#6a3d9a"/><circle cx="15.5" cy="7.1" r="0.85" fill="#cab2d6"/><circle cx="12.3" cy="16.2" r="0.85" fill="#6a3d9a"/><circle cx="28.3" cy="22.3" r="0.85" fill="#6a3d9a"/><circle cx="-0.7" cy="22.3" r="0.85" fill="#6a3d9a"/><circle cx="2.8" cy="10.6" r="0.85" fill="#6a3d9a"/><circle cx="7.9" cy="12.1" r="0.85" fill="#1f78b4"/><circle cx="10.7" cy="4.7" r="0.85" fill="#b2df8a"/><circle cx="1.3" cy="20.1" r="0.85" fill="#1f78b4"/><circle cx="7.2" cy="23.4" r="0.85" fill="#6a3d9a"/><circle cx="8.8" cy="0.7" r="0.85" fill="#b2df8a"/><circle cx="8.8" cy="29.7" r="0.85" fill="#b2df8a"/><circle cx="2.6" cy="19.5" r="0.85" fill="#6a3d9a"/><circle cx="22.8" cy="1.5" r="0.85" fill="#6a3d9a"/><circle cx="17.3" cy="17.7" r="0.85" fill="#a6cee3"/><circle cx="4.4" cy="27.3" r="0.85" fill="#b2df8a"/><circle cx="13.5" cy="5.7" r="0.85" fill="#33a02c"/><circle cx="22.6" cy="13.7" r="0.85" fill="#6a3d9a"/><circle cx="14.7" cy="9.9" r="0.85" fill="#b2df8a"/><circle cx="27.8" cy="11.0" r="0.85" fill="#1f78b4"/><circle cx="14.5" cy="13.5" r="0.85" fill="#6a3d9a"/><circle cx="5.4" cy="19.3" r="0.85" fill="#a6cee3"/><circle cx="8.1" cy="21.6" r="0.85" fill="#1f78b4"/><circle cx="26.0" cy="19.2" r="0.85" fill="#33a02c"/><circle cx="24.1" cy="14.0" r="0.85" fill="#b2df8a"/><circle cx="21.8" cy="10.5" r="0.85" fill="#6a3d9a"/><circle cx="19.9" cy="15.7" r="0.85" fill="#33a02c"/><circle cx="23.3" cy="8.4" r="0.85" fill="#6a3d9a"/><circle cx="4.3" cy="20.0" r="0.85" fill="#cab2d6"/><circle cx="22.7" cy="11.1" r="0.85" fill="#6a3d9a"/><circle cx="18.4" cy="19.5" r="0.85" fill="#6a3d9a"/><circle cx="13.0" cy="6.9" r="0.85" fill="#33a02c"/><circle cx="22.9" cy="14.8" r="0.85" fill="#cab2d6"/><circle cx="8.8" cy="9.7" r="0.85" fill="#1f78b4"/><circle cx="15.0" cy="0.9" r="0.85" fill="#6a3d9a"/><circle cx="16.7" cy="8.3" r="0.85" fill="#6a3d9a"/><circle cx="16.2" cy="17.2" r="0.85" fill="#1f78b4"/><circle cx="5.6" cy="19.1" r="0.85" fill="#1f78b4"/><circle cx="13.9" cy="1.1" r="0.85" fill="#cab2d6"/><circle cx="19.5" cy="8.1" r="0.85" fill="#1f78b4"/><circle cx="14.3" cy="13.7" r="0.85" fill="#cab2d6"/><circle cx="4.3" cy="12.4" r="0.85" fill="#1f78b4"/><circle cx="26.6" cy="5.6" r="0.85" fill="#33a02c"/><circle cx="1.0" cy="2.5" r="0.85" fill="#1f78b4"/><circle cx="3.9" cy="13.8" r="0.85" fill="#6a3d9a"/><circle cx="15.0" cy="17.4" r="0.85" fill="#1f78b4"/><circle cx="15.9" cy="11.5" r="0.85" fill="#33a02c"/><circle cx="22.0" cy="15.3" r="0.85" fill="#1f78b4"/><circle cx="20.0" cy="5.1" r="0.85" fill="#6a3d9a"/><circle cx="1.9" cy="19.4" r="0.85" fill="#1f78b4"/><circle cx="3.4" cy="1.9" r="0.85" fill="#a6cee3"/><circle cx="22.3" cy="24.4" r="0.85" fill="#cab2d6"/><circle cx="4.0" cy="28.9" r="0.85" fill="#b2df8a"/><circle cx="4.0" cy="-0.1" r="0.85" fill="#b2df8a"/><circle cx="3.4" cy="3.2" r="0.85" fill="#6a3d9a"/><circle cx="0.3" cy="16.1" r="0.85" fill="#1f78b4"/><circle cx="29.3" cy="16.1" r="0.85" fill="#1f78b4"/><circle cx="13.2" cy="23.3" r="0.85" fill="#a6cee3"/><circle cx="24.6" cy="12.8" r="0.85" fill="#33a02c"/><circle cx="21.3" cy="25.3" r="0.85" fill="#cab2d6"/><circle cx="27.7" cy="19.9" r="0.85" fill="#1f78b4"/><circle cx="12.9" cy="22.8" r="0.85" fill="#6a3d9a"/><circle cx="8.5" cy="12.7" r="0.85" fill="#33a02c"/><circle cx="14.1" cy="9.9" r="0.85" fill="#cab2d6"/><circle cx="27.2" cy="7.4" r="0.85" fill="#a6cee3"/><circle cx="4.3" cy="3.4" r="0.85" fill="#cab2d6"/><circle cx="20.3" cy="17.3" r="0.85" fill="#6a3d9a"/><circle cx="24.2" cy="9.5" r="0.85" fill="#cab2d6"/><circle cx="14.0" cy="25.0" r="0.85" fill="#a6cee3"/><circle cx="3.7" cy="2.2" r="0.85" fill="#a6cee3"/><circle cx="26.7" cy="18.1" r="0.85" fill="#b2df8a"/><circle cx="4.4" cy="2.6" r="0.85" fill="#6a3d9a"/><circle cx="9.4" cy="28.4" r="0.85" fill="#cab2d6"/><circle cx="9.4" cy="-0.6" r="0.85" fill="#cab2d6"/><circle cx="13.5" cy="2.1" r="0.85" fill="#6a3d9a"/><circle cx="3.0" cy="6.8" r="0.85" fill="#1f78b4"/><circle cx="24.7" cy="5.2" r="0.85" fill="#a6cee3"/><circle cx="24.8" cy="23.5" r="0.85" fill="#1f78b4"/><circle cx="19.5" cy="13.7" r="0.85" fill="#1f78b4"/><circle cx="20.5" cy="13.8" r="0.85" fill="#33a02c"/><circle cx="19.6" cy="2.8" r="0.85" fill="#1f78b4"/><circle cx="16.3" cy="13.2" r="0.85" fill="#b2df8a"/><circle cx="21.7" cy="11.2" r="0.85" fill="#6a3d9a"/><circle cx="17.7" cy="14.6" r="0.85" fill="#6a3d9a"/><circle cx="27.7" cy="5.7" r="0.85" fill="#cab2d6"/><circle cx="0.9" cy="23.5" r="0.85" fill="#33a02c"/><circle cx="13.6" cy="6.8" r="0.85" fill="#a6cee3"/><circle cx="21.7" cy="13.2" r="0.85" fill="#1f78b4"/><circle cx="5.4" cy="19.6" r="0.85" fill="#1f78b4"/><circle cx="20.7" cy="18.1" r="0.85" fill="#33a02c"/><circle cx="22.4" cy="20.1" r="0.85" fill="#1f78b4"/><circle cx="22.5" cy="14.8" r="0.85" fill="#a6cee3"/><circle cx="19.0" cy="15.3" r="0.85" fill="#33a02c"/><circle cx="2.5" cy="25.0" r="0.85" fill="#33a02c"/><circle cx="23.2" cy="20.4" r="0.85" fill="#6a3d9a"/><circle cx="15.6" cy="0.4" r="0.85" fill="#cab2d6"/><circle cx="15.6" cy="29.4" r="0.85" fill="#cab2d6"/><circle cx="22.3" cy="4.8" r="0.85" fill="#6a3d9a"/><circle cx="14.1" cy="12.0" r="0.85" fill="#a6cee3"/><circle cx="21.0" cy="10.6" r="0.85" fill="#cab2d6"/><circle cx="15.1" cy="26.3" r="0.85" fill="#a6cee3"/><circle cx="27.2" cy="28.3" r="0.85" fill="#a6cee3"/><circle cx="27.2" cy="-0.7" r="0.85" fill="#a6cee3"/><circle cx="25.9" cy="28.4" r="0.85" fill="#1f78b4"/><circle cx="25.9" cy="-0.6" r="0.85" fill="#1f78b4"/><circle cx="0.3" cy="24.6" r="0.85" fill="#6a3d9a"/><circle cx="29.3" cy="24.6" r="0.85" fill="#6a3d9a"/><circle cx="6.9" cy="25.4" r="0.85" fill="#6a3d9a"/><circle cx="9.5" cy="0.2" r="0.85" fill="#6a3d9a"/><circle cx="9.5" cy="29.2" r="0.85" fill="#6a3d9a"/><circle cx="19.4" cy="10.8" r="0.85" fill="#1f78b4"/><circle cx="16.2" cy="23.8" r="0.85" fill="#1f78b4"/><circle cx="14.5" cy="9.5" r="0.85" fill="#6a3d9a"/><circle cx="9.3" cy="17.6" r="0.85" fill="#cab2d6"/><circle cx="24.3" cy="2.7" r="0.85" fill="#1f78b4"/><circle cx="0.3" cy="8.9" r="0.85" fill="#b2df8a"/><circle cx="29.3" cy="8.9" r="0.85" fill="#b2df8a"/><circle cx="28.2" cy="16.2" r="0.85" fill="#cab2d6"/><circle cx="-0.8" cy="16.2" r="0.85" fill="#cab2d6"/><circle cx="24.7" cy="20.8" r="0.85" fill="#b2df8a"/><circle cx="5.7" cy="28.6" r="0.85" fill="#cab2d6"/><circle cx="5.7" cy="-0.4" r="0.85" fill="#cab2d6"/><circle cx="5.8" cy="5.4" r="0.85" fill="#a6cee3"/><circle cx="1.2" cy="24.3" r="0.85" fill="#33a02c"/><circle cx="5.0" cy="6.9" r="0.85" fill="#1f78b4"/><circle cx="5.9" cy="3.5" r="0.85" fill="#1f78b4"/><circle cx="3.9" cy="20.7" r="0.85" fill="#33a02c"/><circle cx="14.5" cy="25.6" r="0.85" fill="#a6cee3"/><circle cx="1.4" cy="16.0" r="0.85" fill="#6a3d9a"/><circle cx="2.8" cy="11.6" r="0.85" fill="#b2df8a"/><circle cx="9.0" cy="23.7" r="0.85" fill="#a6cee3"/><circle cx="0.6" cy="9.5" r="0.85" fill="#a6cee3"/><circle cx="29.6" cy="9.5" r="0.85" fill="#a6cee3"/><circle cx="17.3" cy="4.6" r="0.85" fill="#cab2d6"/><circle cx="28.2" cy="25.9" r="0.85" fill="#6a3d9a"/><circle cx="-0.8" cy="25.9" r="0.85" fill="#6a3d9a"/><circle cx="0.7" cy="7.3" r="0.85" fill="#6a3d9a"/><circle cx="29.7" cy="7.3" r="0.85" fill="#6a3d9a"/><circle cx="15.4" cy="8.6" r="0.85" fill="#33a02c"/><circle cx="2.7" cy="10.2" r="0.85" fill="#1f78b4"/><circle cx="2.2" cy="6.9" r="0.85" fill="#cab2d6"/><circle cx="25.6" cy="16.2" r="0.85" fill="#1f78b4"/><circle cx="0.6" cy="4.4" r="0.85" fill="#cab2d6"/><circle cx="29.6" cy="4.4" r="0.85" fill="#cab2d6"/><circle cx="4.5" cy="24.6" r="0.85" fill="#1f78b4"/><circle cx="17.5" cy="27.6" r="0.85" fill="#cab2d6"/><circle cx="11.9" cy="12.1" r="0.85" fill="#33a02c"/><circle cx="20.1" cy="0.5" r="0.85" fill="#6a3d9a"/><circle cx="20.1" cy="29.5" r="0.85" fill="#6a3d9a"/><circle cx="14.1" cy="10.6" r="0.85" fill="#a6cee3"/><circle cx="28.0" cy="1.2" r="0.85" fill="#6a3d9a"/><circle cx="26.3" cy="27.5" r="0.85" fill="#1f78b4"/><circle cx="13.7" cy="7.4" r="0.85" fill="#33a02c"/><circle cx="24.6" cy="19.0" r="0.85" fill="#1f78b4"/><circle cx="11.3" cy="10.4" r="0.85" fill="#33a02c"/><circle cx="3.5" cy="5.4" r="0.85" fill="#cab2d6"/><circle cx="2.7" cy="24.9" r="0.85" fill="#b2df8a"/><circle cx="3.4" cy="14.1" r="0.85" fill="#1f78b4"/><circle cx="3.8" cy="28.2" r="0.85" fill="#33a02c"/><circle cx="3.8" cy="-0.8" r="0.85" fill="#33a02c"/><circle cx="20.6" cy="4.9" r="0.85" fill="#cab2d6"/><circle cx="12.2" cy="25.0" r="0.85" fill="#a6cee3"/><circle cx="7.7" cy="19.7" r="0.85" fill="#33a02c"/><circle cx="11.1" cy="16.1" r="0.85" fill="#6a3d9a"/><circle cx="16.2" cy="12.8" r="0.85" fill="#33a02c"/><circle cx="18.7" cy="28.3" r="0.85" fill="#6a3d9a"/><circle cx="18.7" cy="-0.7" r="0.85" fill="#6a3d9a"/><circle cx="9.0" cy="20.9" r="0.85" fill="#cab2d6"/><circle cx="13.1" cy="14.0" r="0.85" fill="#a6cee3"/><circle cx="12.8" cy="14.8" r="0.85" fill="#cab2d6"/><circle cx="15.6" cy="14.4" r="0.85" fill="#b2df8a"/><circle cx="1.1" cy="12.2" r="0.85" fill="#a6cee3"/><circle cx="4.6" cy="9.9" r="0.85" fill="#1f78b4"/><circle cx="18.2" cy="29.0" r="0.85" fill="#a6cee3"/><circle cx="18.2" cy="-0.0" r="0.85" fill="#a6cee3"/><circle cx="22.3" cy="24.7" r="0.85" fill="#a6cee3"/><circle cx="20.0" cy="13.8" r="0.85" fill="#6a3d9a"/><circle cx="16.3" cy="23.4" r="0.85" fill="#6a3d9a"/><circle cx="10.9" cy="23.9" r="0.85" fill="#1f78b4"/><circle cx="8.0" cy="0.7" r="0.85" fill="#1f78b4"/><circle cx="8.0" cy="29.7" r="0.85" fill="#1f78b4"/><circle cx="27.6" cy="20.7" r="0.85" fill="#6a3d9a"/><circle cx="13.7" cy="0.9" r="0.85" fill="#cab2d6"/><circle cx="4.8" cy="7.6" r="0.85" fill="#1f78b4"/><circle cx="10.2" cy="2.0" r="0.85" fill="#cab2d6"/><circle cx="6.8" cy="13.3" r="0.85" fill="#6a3d9a"/><circle cx="23.5" cy="29.0" r="0.85" fill="#6a3d9a"/><circle cx="23.5" cy="-0.0" r="0.85" fill="#6a3d9a"/><circle cx="3.2" cy="20.6" r="0.85" fill="#6a3d9a"/><circle cx="5.2" cy="24.8" r="0.85" fill="#33a02c"/><circle cx="22.7" cy="3.8" r="0.85" fill="#33a02c"/><circle cx="15.0" cy="18.3" r="0.85" fill="#1f78b4"/><circle cx="10.5" cy="18.6" r="0.85" fill="#cab2d6"/><circle cx="10.4" cy="1.1" r="0.85" fill="#cab2d6"/><circle cx="0.6" cy="26.7" r="0.85" fill="#cab2d6"/><circle cx="29.6" cy="26.7" r="0.85" fill="#cab2d6"/><circle cx="6.0" cy="21.1" r="0.85" fill="#cab2d6"/><circle cx="22.3" cy="13.4" r="0.85" fill="#6a3d9a"/><circle cx="17.7" cy="17.2" r="0.85" fill="#a6cee3"/><circle cx="20.0" cy="22.4" r="0.85" fill="#1f78b4"/><circle cx="27.9" cy="21.5" r="0.85" fill="#1f78b4"/><circle cx="15.9" cy="4.1" r="0.85" fill="#33a02c"/><circle cx="6.1" cy="24.2" r="0.85" fill="#a6cee3"/><circle cx="17.4" cy="3.9" r="0.85" fill="#33a02c"/><circle cx="3.3" cy="19.5" r="0.85" fill="#cab2d6"/><circle cx="25.8" cy="24.4" r="0.85" fill="#1f78b4"/><circle cx="7.9" cy="21.4" r="0.85" fill="#cab2d6"/><circle cx="11.5" cy="10.6" r="0.85" fill="#1f78b4"/><circle cx="21.9" cy="23.2" r="0.85" fill="#a6cee3"/><circle cx="28.5" cy="17.7" r="0.85" fill="#1f78b4"/><circle cx="-0.5" cy="17.7" r="0.85" fill="#1f78b4"/><circle cx="7.4" cy="7.4" r="0.85" fill="#33a02c"/><circle cx="5.0" cy="19.8" r="0.85" fill="#b2df8a"/><circle cx="0.6" cy="5.5" r="0.85" fill="#6a3d9a"/><circle cx="29.6" cy="5.5" r="0.85" fill="#6a3d9a"/><circle cx="17.4" cy="15.2" r="0.85" fill="#cab2d6"/><circle cx="3.2" cy="9.2" r="0.85" fill="#a6cee3"/><circle cx="23.2" cy="11.7" r="0.85" fill="#6a3d9a"/><circle cx="14.6" cy="3.6" r="0.85" fill="#cab2d6"/><circle cx="8.3" cy="8.4" r="0.85" fill="#6a3d9a"/><circle cx="8.4" cy="5.9" r="0.85" fill="#1f78b4"/><circle cx="23.8" cy="1.8" r="0.85" fill="#6a3d9a"/><circle cx="16.8" cy="9.2" r="0.85" fill="#1f78b4"/><circle cx="19.6" cy="18.6" r="0.85" fill="#1f78b4"/><circle cx="3.1" cy="27.0" r="0.85" fill="#cab2d6"/><circle cx="10.7" cy="18.9" r="0.85" fill="#a6cee3"/><circle cx="1.5" cy="4.9" r="0.85" fill="#33a02c"/><circle cx="26.7" cy="5.0" r="0.85" fill="#33a02c"/><circle cx="9.3" cy="20.2" r="0.85" fill="#cab2d6"/><circle cx="22.4" cy="25.4" r="0.85" fill="#6a3d9a"/><circle cx="7.7" cy="15.7" r="0.85" fill="#1f78b4"/><circle cx="3.1" cy="15.9" r="0.85" fill="#1f78b4"/><circle cx="10.6" cy="25.3" r="0.85" fill="#33a02c"/><circle cx="8.3" cy="3.5" r="0.85" fill="#1f78b4"/><circle cx="15.1" cy="27.8" r="0.85" fill="#33a02c"/><circle cx="27.8" cy="28.6" r="0.85" fill="#1f78b4"/><circle cx="27.8" cy="-0.4" r="0.85" fill="#1f78b4"/><circle cx="11.0" cy="6.4" r="0.85" fill="#6a3d9a"/><circle cx="24.8" cy="21.7" r="0.85" fill="#6a3d9a"/><circle cx="7.4" cy="25.2" r="0.85" fill="#a6cee3"/><circle cx="14.2" cy="12.2" r="0.85" fill="#a6cee3"/><circle cx="12.2" cy="15.6" r="0.85" fill="#a6cee3"/><circle cx="7.1" cy="19.8" r="0.85" fill="#1f78b4"/><circle cx="18.3" cy="18.1" r="0.85" fill="#6a3d9a"/><circle cx="19.8" cy="22.3" r="0.85" fill="#33a02c"/><circle cx="16.6" cy="10.8" r="0.85" fill="#6a3d9a"/><circle cx="16.4" cy="28.1" r="0.85" fill="#33a02c"/><circle cx="18.9" cy="18.9" r="0.85" fill="#6a3d9a"/><circle cx="3.6" cy="17.4" r="0.85" fill="#6a3d9a"/><circle cx="12.2" cy="23.9" r="0.85" fill="#a6cee3"/><circle cx="21.6" cy="0.3" r="0.85" fill="#cab2d6"/><circle cx="21.6" cy="29.3" r="0.85" fill="#cab2d6"/><circle cx="16.4" cy="7.8" r="0.85" fill="#1f78b4"/><circle cx="13.2" cy="15.7" r="0.85" fill="#cab2d6"/><circle cx="7.2" cy="28.7" r="0.85" fill="#1f78b4"/><circle cx="7.2" cy="-0.3" r="0.85" fill="#1f78b4"/><circle cx="1.8" cy="14.0" r="0.85" fill="#1f78b4"/><circle cx="19.3" cy="13.6" r="0.85" fill="#cab2d6"/><circle cx="4.0" cy="15.7" r="0.85" fill="#1f78b4"/><circle cx="24.2" cy="5.9" r="0.85" fill="#1f78b4"/><circle cx="0.9" cy="22.8" r="0.85" fill="#1f78b4"/><circle cx="5.0" cy="14.3" r="0.85" fill="#b2df8a"/><circle cx="10.6" cy="21.0" r="0.85" fill="#cab2d6"/><circle cx="5.4" cy="7.4" r="0.85" fill="#1f78b4"/><circle cx="20.0" cy="19.9" r="0.85" fill="#1f78b4"/><circle cx="27.7" cy="0.9" r="0.85" fill="#1f78b4"/><circle cx="17.0" cy="21.1" r="0.85" fill="#33a02c"/><circle cx="1.5" cy="0.8" r="0.85" fill="#6a3d9a"/><circle cx="1.5" cy="29.8" r="0.85" fill="#6a3d9a"/><circle cx="11.1" cy="0.1" r="0.85" fill="#6a3d9a"/><circle cx="11.1" cy="29.1" r="0.85" fill="#6a3d9a"/><circle cx="0.1" cy="25.2" r="0.85" fill="#b2df8a"/><circle cx="29.1" cy="25.2" r="0.85" fill="#b2df8a"/><circle cx="23.3" cy="25.1" r="0.85" fill="#a6cee3"/><circle cx="11.1" cy="8.3" r="0.85" fill="#cab2d6"/><circle cx="7.9" cy="9.9" r="0.85" fill="#1f78b4"/><circle cx="17.3" cy="6.9" r="0.85" fill="#a6cee3"/><circle cx="2.7" cy="17.5" r="0.85" fill="#cab2d6"/><circle cx="11.8" cy="25.1" r="0.85" fill="#cab2d6"/><circle cx="2.3" cy="14.7" r="0.85" fill="#1f78b4"/><circle cx="1.6" cy="19.1" r="0.85" fill="#a6cee3"/><circle cx="8.7" cy="2.0" r="0.85" fill="#1f78b4"/><circle cx="0.3" cy="3.0" r="0.85" fill="#6a3d9a"/><circle cx="29.3" cy="3.0" r="0.85" fill="#6a3d9a"/><circle cx="17.9" cy="11.1" r="0.85" fill="#1f78b4"/><circle cx="14.2" cy="0.4" r="0.85" fill="#a6cee3"/><circle cx="14.2" cy="29.4" r="0.85" fill="#a6cee3"/><circle cx="22.5" cy="5.9" r="0.85" fill="#a6cee3"/><circle cx="4.9" cy="25.7" r="0.85" fill="#33a02c"/><circle cx="14.2" cy="8.9" r="0.85" fill="#33a02c"/><circle cx="18.2" cy="26.8" r="0.85" fill="#1f78b4"/><circle cx="28.0" cy="26.5" r="0.85" fill="#1f78b4"/><circle cx="6.5" cy="0.4" r="0.85" fill="#6a3d9a"/><circle cx="6.5" cy="29.4" r="0.85" fill="#6a3d9a"/><circle cx="22.1" cy="0.6" r="0.85" fill="#a6cee3"/><circle cx="22.1" cy="29.6" r="0.85" fill="#a6cee3"/><circle cx="0.9" cy="15.0" r="0.85" fill="#1f78b4"/><circle cx="18.5" cy="0.8" r="0.85" fill="#33a02c"/><circle cx="18.5" cy="29.8" r="0.85" fill="#33a02c"/><circle cx="10.0" cy="19.2" r="0.85" fill="#1f78b4"/><circle cx="18.1" cy="3.6" r="0.85" fill="#a6cee3"/><circle cx="10.0" cy="3.9" r="0.85" fill="#cab2d6"/><circle cx="7.0" cy="25.9" r="0.85" fill="#6a3d9a"/><circle cx="9.0" cy="12.6" r="0.85" fill="#33a02c"/><circle cx="9.5" cy="11.5" r="0.85" fill="#33a02c"/><circle cx="0.8" cy="25.6" r="0.85" fill="#1f78b4"/><circle cx="29.8" cy="25.6" r="0.85" fill="#1f78b4"/><circle cx="10.7" cy="26.0" r="0.85" fill="#1f78b4"/><circle cx="15.3" cy="2.8" r="0.85" fill="#6a3d9a"/><circle cx="14.4" cy="12.7" r="0.85" fill="#33a02c"/><circle cx="14.2" cy="17.8" r="0.85" fill="#33a02c"/><circle cx="11.2" cy="3.6" r="0.85" fill="#1f78b4"/><circle cx="19.6" cy="17.0" r="0.85" fill="#cab2d6"/><circle cx="13.4" cy="20.8" r="0.85" fill="#33a02c"/><circle cx="12.1" cy="21.5" r="0.85" fill="#1f78b4"/><circle cx="15.4" cy="4.9" r="0.85" fill="#33a02c"/><circle cx="22.9" cy="4.1" r="0.85" fill="#cab2d6"/><circle cx="19.9" cy="2.4" r="0.85" fill="#cab2d6"/><circle cx="4.5" cy="10.4" r="0.85" fill="#33a02c"/><circle cx="7.5" cy="19.1" r="0.85" fill="#cab2d6"/><circle cx="11.3" cy="0.4" r="0.85" fill="#a6cee3"/><circle cx="11.3" cy="29.4" r="0.85" fill="#a6cee3"/><circle cx="12.3" cy="18.0" r="0.85" fill="#a6cee3"/><circle cx="1.2" cy="15.2" r="0.85" fill="#6a3d9a"/><circle cx="15.8" cy="3.2" r="0.85" fill="#1f78b4"/><circle cx="12.4" cy="4.2" r="0.85" fill="#1f78b4"/><circle cx="20.1" cy="28.0" r="0.85" fill="#6a3d9a"/><circle cx="7.0" cy="4.1" r="0.85" fill="#33a02c"/><circle cx="5.8" cy="13.3" r="0.85" fill="#6a3d9a"/><circle cx="12.4" cy="0.2" r="0.85" fill="#6a3d9a"/><circle cx="12.4" cy="29.2" r="0.85" fill="#6a3d9a"/><circle cx="9.5" cy="7.4" r="0.85" fill="#6a3d9a"/><circle cx="16.5" cy="18.2" r="0.85" fill="#33a02c"/><circle cx="28.6" cy="26.7" r="0.85" fill="#1f78b4"/><circle cx="-0.4" cy="26.7" r="0.85" fill="#1f78b4"/><circle cx="19.1" cy="15.5" r="0.85" fill="#a6cee3"/><circle cx="18.5" cy="0.0" r="0.85" fill="#6a3d9a"/><circle cx="18.5" cy="29.0" r="0.85" fill="#6a3d9a"/><circle cx="14.4" cy="20.8" r="0.85" fill="#1f78b4"/><circle cx="8.5" cy="10.4" r="0.85" fill="#6a3d9a"/><circle cx="26.7" cy="6.8" r="0.85" fill="#6a3d9a"/><circle cx="0.6" cy="27.5" r="0.85" fill="#6a3d9a"/><circle cx="29.6" cy="27.5" r="0.85" fill="#6a3d9a"/><circle cx="11.4" cy="16.0" r="0.85" fill="#1f78b4"/><circle cx="15.3" cy="28.9" r="0.85" fill="#6a3d9a"/><circle cx="15.3" cy="-0.1" r="0.85" fill="#6a3d9a"/><circle cx="21.9" cy="15.7" r="0.85" fill="#6a3d9a"/><circle cx="12.6" cy="14.7" r="0.85" fill="#a6cee3"/><circle cx="24.3" cy="1.5" r="0.85" fill="#1f78b4"/><circle cx="28.2" cy="12.2" r="0.85" fill="#6a3d9a"/><circle cx="-0.8" cy="12.2" r="0.85" fill="#6a3d9a"/><circle cx="23.0" cy="27.2" r="0.85" fill="#cab2d6"/><circle cx="19.0" cy="2.1" r="0.85" fill="#1f78b4"/><circle cx="5.5" cy="8.2" r="0.85" fill="#1f78b4"/><circle cx="14.2" cy="24.0" r="0.85" fill="#1f78b4"/><circle cx="15.9" cy="19.2" r="0.85" fill="#cab2d6"/><circle cx="6.3" cy="14.1" r="0.85" fill="#cab2d6"/><circle cx="15.1" cy="4.0" r="0.85" fill="#1f78b4"/><circle cx="11.6" cy="0.4" r="0.85" fill="#6a3d9a"/><circle cx="11.6" cy="29.4" r="0.85" fill="#6a3d9a"/><circle cx="11.3" cy="4.3" r="0.85" fill="#33a02c"/><circle cx="14.1" cy="10.4" r="0.85" fill="#b2df8a"/><circle cx="17.1" cy="8.4" r="0.85" fill="#1f78b4"/><circle cx="23.4" cy="21.4" r="0.85" fill="#6a3d9a"/><circle cx="20.9" cy="23.5" r="0.85" fill="#cab2d6"/><circle cx="15.9" cy="16.6" r="0.85" fill="#b2df8a"/><circle cx="9.4" cy="15.8" r="0.85" fill="#33a02c"/><circle cx="23.8" cy="21.5" r="0.85" fill="#33a02c"/><circle cx="26.6" cy="6.5" r="0.85" fill="#1f78b4"/><circle cx="6.8" cy="2.5" r="0.85" fill="#33a02c"/><circle cx="12.9" cy="5.5" r="0.85" fill="#6a3d9a"/><circle cx="17.3" cy="19.4" r="0.85" fill="#cab2d6"/><circle cx="17.8" cy="18.4" r="0.85" fill="#1f78b4"/><circle cx="16.8" cy="17.4" r="0.85" fill="#6a3d9a"/><circle cx="11.2" cy="22.7" r="0.85" fill="#6a3d9a"/><circle cx="17.3" cy="13.5" r="0.85" fill="#a6cee3"/><circle cx="2.4" cy="22.4" r="0.85" fill="#1f78b4"/><circle cx="27.8" cy="25.1" r="0.85" fill="#cab2d6"/><circle cx="6.9" cy="9.1" r="0.85" fill="#1f78b4"/><circle cx="1.7" cy="23.2" r="0.85" fill="#a6cee3"/><circle cx="2.5" cy="5.0" r="0.85" fill="#1f78b4"/><circle cx="0.9" cy="20.9" r="0.85" fill="#33a02c"/><circle cx="8.8" cy="16.5" r="0.85" fill="#6a3d9a"/><circle cx="6.7" cy="25.0" r="0.85" fill="#6a3d9a"/><circle cx="11.6" cy="20.2" r="0.85" fill="#b2df8a"/><circle cx="15.1" cy="5.5" r="0.85" fill="#a6cee3"/><circle cx="2.9" cy="6.8" r="0.85" fill="#6a3d9a"/><circle cx="26.7" cy="18.6" r="0.85" fill="#b2df8a"/><circle cx="4.8" cy="7.3" r="0.85" fill="#1f78b4"/><circle cx="9.4" cy="19.8" r="0.85" fill="#1f78b4"/><circle cx="21.9" cy="21.3" r="0.85" fill="#cab2d6"/><circle cx="15.3" cy="26.6" r="0.85" fill="#1f78b4"/><circle cx="20.4" cy="19.9" r="0.85" fill="#1f78b4"/><circle cx="0.4" cy="14.9" r="0.85" fill="#1f78b4"/><circle cx="29.4" cy="14.9" r="0.85" fill="#1f78b4"/><circle cx="2.5" cy="23.5" r="0.85" fill="#1f78b4"/><circle cx="16.7" cy="19.9" r="0.85" fill="#1f78b4"/><circle cx="0.9" cy="7.6" r="0.85" fill="#a6cee3"/><circle cx="3.8" cy="2.6" r="0.85" fill="#6a3d9a"/><circle cx="27.1" cy="23.7" r="0.85" fill="#cab2d6"/><circle cx="7.1" cy="20.6" r="0.85" fill="#6a3d9a"/><circle cx="13.0" cy="19.0" r="0.85" fill="#1f78b4"/><circle cx="2.2" cy="18.0" r="0.85" fill="#1f78b4"/><circle cx="25.5" cy="21.3" r="0.85" fill="#1f78b4"/><circle cx="8.3" cy="10.7" r="0.85" fill="#6a3d9a"/><circle cx="7.4" cy="6.1" r="0.85" fill="#1f78b4"/><circle cx="11.6" cy="25.6" r="0.85" fill="#6a3d9a"/><circle cx="18.6" cy="20.9" r="0.85" fill="#6a3d9a"/><circle cx="19.0" cy="11.3" r="0.85" fill="#a6cee3"/><circle cx="8.0" cy="27.2" r="0.85" fill="#a6cee3"/><circle cx="14.1" cy="12.1" r="0.85" fill="#1f78b4"/><circle cx="9.4" cy="9.4" r="0.85" fill="#a6cee3"/><circle cx="2.7" cy="18.2" r="0.85" fill="#33a02c"/><circle cx="4.4" cy="22.0" r="0.85" fill="#1f78b4"/><circle cx="21.1" cy="14.3" r="0.85" fill="#6a3d9a"/><circle cx="18.5" cy="10.3" r="0.85" fill="#1f78b4"/><circle cx="27.8" cy="18.6" r="0.85" fill="#1f78b4"/><circle cx="19.8" cy="19.4" r="0.85" fill="#33a02c"/><circle cx="11.7" cy="27.9" r="0.85" fill="#33a02c"/><circle cx="15.9" cy="17.5" r="0.85" fill="#6a3d9a"/><circle cx="27.8" cy="22.4" r="0.85" fill="#33a02c"/><circle cx="28.8" cy="25.1" r="0.85" fill="#1f78b4"/><circle cx="-0.2" cy="25.1" r="0.85" fill="#1f78b4"/><circle cx="13.8" cy="21.9" r="0.85" fill="#6a3d9a"/><circle cx="8.2" cy="25.8" r="0.85" fill="#6a3d9a"/><circle cx="14.4" cy="7.8" r="0.85" fill="#33a02c"/><circle cx="27.1" cy="18.0" r="0.85" fill="#33a02c"/><circle cx="15.4" cy="18.6" r="0.85" fill="#1f78b4"/><circle cx="10.8" cy="20.9" r="0.85" fill="#6a3d9a"/><circle cx="15.2" cy="10.5" r="0.85" fill="#cab2d6"/><circle cx="25.4" cy="17.2" r="0.85" fill="#a6cee3"/><circle cx="3.8" cy="10.3" r="0.85" fill="#6a3d9a"/><circle cx="20.4" cy="17.6" r="0.85" fill="#cab2d6"/><circle cx="25.8" cy="22.2" r="0.85" fill="#1f78b4"/><circle cx="18.2" cy="28.1" r="0.85" fill="#a6cee3"/><circle cx="26.3" cy="15.7" r="0.85" fill="#1f78b4"/><circle cx="22.6" cy="20.7" r="0.85" fill="#a6cee3"/><circle cx="22.4" cy="17.9" r="0.85" fill="#1f78b4"/><circle cx="2.8" cy="1.4" r="0.85" fill="#cab2d6"/><circle cx="17.1" cy="8.1" r="0.85" fill="#b2df8a"/><circle cx="15.6" cy="5.7" r="0.85" fill="#a6cee3"/><circle cx="1.8" cy="24.4" r="0.85" fill="#1f78b4"/><circle cx="7.0" cy="1.7" r="0.85" fill="#6a3d9a"/><circle cx="20.5" cy="10.7" r="0.85" fill="#cab2d6"/><circle cx="25.3" cy="15.2" r="0.85" fill="#1f78b4"/><circle cx="1.5" cy="16.6" r="0.85" fill="#6a3d9a"/><circle cx="23.2" cy="3.4" r="0.85" fill="#6a3d9a"/><circle cx="0.2" cy="19.3" r="0.85" fill="#a6cee3"/><circle cx="29.2" cy="19.3" r="0.85" fill="#a6cee3"/><circle cx="16.9" cy="11.0" r="0.85" fill="#a6cee3"/><circle cx="22.0" cy="23.0" r="0.85" fill="#cab2d6"/><circle cx="9.9" cy="26.5" r="0.85" fill="#1f78b4"/><circle cx="9.3" cy="4.8" r="0.85" fill="#1f78b4"/><circle cx="8.5" cy="11.7" r="0.85" fill="#33a02c"/><circle cx="11.2" cy="26.9" r="0.85" fill="#a6cee3"/><circle cx="6.8" cy="24.7" r="0.85" fill="#1f78b4"/><circle cx="18.2" cy="0.4" r="0.85" fill="#6a3d9a"/><circle cx="18.2" cy="29.4" r="0.85" fill="#6a3d9a"/><circle cx="28.8" cy="28.4" r="0.85" fill="#6a3d9a"/><circle cx="28.8" cy="-0.6" r="0.85" fill="#6a3d9a"/><circle cx="-0.2" cy="28.4" r="0.85" fill="#6a3d9a"/><circle cx="-0.2" cy="-0.6" r="0.85" fill="#6a3d9a"/><circle cx="3.9" cy="9.5" r="0.85" fill="#6a3d9a"/><circle cx="27.9" cy="23.7" r="0.85" fill="#a6cee3"/><circle cx="14.7" cy="1.5" r="0.85" fill="#b2df8a"/><circle cx="5.6" cy="6.3" r="0.85" fill="#a6cee3"/><circle cx="7.4" cy="8.8" r="0.85" fill="#cab2d6"/><circle cx="26.6" cy="27.8" r="0.85" fill="#6a3d9a"/><circle cx="7.8" cy="12.7" r="0.85" fill="#1f78b4"/><circle cx="10.0" cy="1.7" r="0.85" fill="#1f78b4"/><circle cx="22.4" cy="6.3" r="0.85" fill="#33a02c"/><circle cx="0.9" cy="8.7" r="0.85" fill="#1f78b4"/><circle cx="24.8" cy="23.8" r="0.85" fill="#b2df8a"/><circle cx="23.2" cy="1.5" r="0.85" fill="#cab2d6"/><circle cx="10.7" cy="0.7" r="0.85" fill="#33a02c"/><circle cx="10.7" cy="29.7" r="0.85" fill="#33a02c"/><circle cx="11.3" cy="6.4" r="0.85" fill="#a6cee3"/><circle cx="21.9" cy="27.4" r="0.85" fill="#6a3d9a"/><circle cx="20.9" cy="19.8" r="0.85" fill="#1f78b4"/><circle cx="19.4" cy="21.8" r="0.85" fill="#1f78b4"/><circle cx="4.5" cy="0.5" r="0.85" fill="#1f78b4"/><circle cx="4.5" cy="29.5" r="0.85" fill="#1f78b4"/><circle cx="14.5" cy="24.9" r="0.85" fill="#a6cee3"/><circle cx="5.4" cy="9.7" r="0.85" fill="#1f78b4"/><circle cx="24.7" cy="21.9" r="0.85" fill="#6a3d9a"/><circle cx="16.8" cy="27.0" r="0.85" fill="#33a02c"/><circle cx="14.4" cy="12.4" r="0.85" fill="#1f78b4"/><circle cx="21.8" cy="15.8" r="0.85" fill="#1f78b4"/><circle cx="18.8" cy="8.5" r="0.85" fill="#cab2d6"/><circle cx="5.3" cy="24.8" r="0.85" fill="#b2df8a"/><circle cx="16.3" cy="16.4" r="0.85" fill="#cab2d6"/><circle cx="22.9" cy="21.6" r="0.85" fill="#6a3d9a"/><circle cx="14.4" cy="21.0" r="0.85" fill="#6a3d9a"/><circle cx="10.6" cy="9.8" r="0.85" fill="#33a02c"/><circle cx="2.8" cy="27.7" r="0.85" fill="#6a3d9a"/><circle cx="16.3" cy="13.9" r="0.85" fill="#cab2d6"/><circle cx="26.8" cy="28.7" r="0.85" fill="#33a02c"/><circle cx="26.8" cy="-0.3" r="0.85" fill="#33a02c"/><circle cx="25.5" cy="2.8" r="0.85" fill="#33a02c"/><circle cx="15.6" cy="27.8" r="0.85" fill="#33a02c"/><circle cx="13.2" cy="4.7" r="0.85" fill="#1f78b4"/><circle cx="28.6" cy="20.8" r="0.85" fill="#cab2d6"/><circle cx="-0.4" cy="20.8" r="0.85" fill="#cab2d6"/><circle cx="24.6" cy="25.8" r="0.85" fill="#cab2d6"/><circle cx="23.0" cy="26.3" r="0.85" fill="#6a3d9a"/><circle cx="7.1" cy="27.3" r="0.85" fill="#6a3d9a"/><circle cx="28.4" cy="7.1" r="0.85" fill="#33a02c"/><circle cx="-0.6" cy="7.1" r="0.85" fill="#33a02c"/><circle cx="24.3" cy="6.6" r="0.85" fill="#6a3d9a"/><circle cx="24.6" cy="20.1" r="0.85" fill="#33a02c"/><circle cx="15.4" cy="16.1" r="0.85" fill="#1f78b4"/><circle cx="12.1" cy="20.9" r="0.85" fill="#1f78b4"/><circle cx="9.5" cy="5.0" r="0.85" fill="#6a3d9a"/><circle cx="9.7" cy="2.2" r="0.85" fill="#b2df8a"/><circle cx="18.7" cy="25.2" r="0.85" fill="#b2df8a"/><circle cx="18.9" cy="28.8" r="0.85" fill="#1f78b4"/><circle cx="18.9" cy="-0.2" r="0.85" fill="#1f78b4"/><circle cx="20.0" cy="7.0" r="0.85" fill="#33a02c"/><circle cx="2.2" cy="5.7" r="0.85" fill="#cab2d6"/><circle cx="19.9" cy="22.7" r="0.85" fill="#1f78b4"/><circle cx="19.7" cy="0.0" r="0.85" fill="#cab2d6"/><circle cx="19.7" cy="29.0" r="0.85" fill="#cab2d6"/><circle cx="19.0" cy="21.3" r="0.85" fill="#6a3d9a"/><circle cx="4.5" cy="10.2" r="0.85" fill="#6a3d9a"/><circle cx="13.7" cy="10.2" r="0.85" fill="#6a3d9a"/><circle cx="8.3" cy="21.2" r="0.85" fill="#cab2d6"/><circle cx="8.8" cy="24.3" r="0.85" fill="#1f78b4"/><circle cx="24.6" cy="8.6" r="0.85" fill="#6a3d9a"/><circle cx="9.3" cy="23.1" r="0.85" fill="#1f78b4"/><circle cx="12.3" cy="11.9" r="0.85" fill="#6a3d9a"/><circle cx="26.0" cy="13.9" r="0.85" fill="#b2df8a"/><circle cx="25.2" cy="28.5" r="0.85" fill="#1f78b4"/><circle cx="25.2" cy="-0.5" r="0.85" fill="#1f78b4"/><circle cx="25.7" cy="6.4" r="0.85" fill="#cab2d6"/><circle cx="27.3" cy="26.8" r="0.85" fill="#33a02c"/><circle cx="13.1" cy="25.0" r="0.85" fill="#a6cee3"/><circle cx="23.8" cy="11.7" r="0.85" fill="#1f78b4"/><circle cx="9.7" cy="0.5" r="0.85" fill="#b2df8a"/><circle cx="9.7" cy="29.5" r="0.85" fill="#b2df8a"/><circle cx="8.4" cy="23.3" r="0.85" fill="#33a02c"/><circle cx="17.3" cy="27.7" r="0.85" fill="#cab2d6"/><circle cx="29.0" cy="19.7" r="0.85" fill="#cab2d6"/><circle cx="-0.0" cy="19.7" r="0.85" fill="#cab2d6"/><circle cx="20.7" cy="0.6" r="0.85" fill="#b2df8a"/><circle cx="20.7" cy="29.6" r="0.85" fill="#b2df8a"/><circle cx="5.9" cy="26.8" r="0.85" fill="#1f78b4"/><circle cx="12.9" cy="6.7" r="0.85" fill="#cab2d6"/><circle cx="28.6" cy="21.5" r="0.85" fill="#1f78b4"/><circle cx="-0.4" cy="21.5" r="0.85" fill="#1f78b4"/><circle cx="28.1" cy="19.0" r="0.85" fill="#6a3d9a"/><circle cx="18.8" cy="19.8" r="0.85" fill="#b2df8a"/><circle cx="5.2" cy="18.6" r="0.85" fill="#1f78b4"/><circle cx="18.2" cy="9.6" r="0.85" fill="#1f78b4"/><circle cx="22.6" cy="20.9" r="0.85" fill="#1f78b4"/><circle cx="10.4" cy="1.0" r="0.85" fill="#cab2d6"/><circle cx="1.2" cy="22.8" r="0.85" fill="#33a02c"/><circle cx="19.2" cy="13.1" r="0.85" fill="#cab2d6"/><circle cx="25.1" cy="19.6" r="0.85" fill="#1f78b4"/><circle cx="13.0" cy="20.3" r="0.85" fill="#b2df8a"/><circle cx="6.1" cy="26.7" r="0.85" fill="#33a02c"/><circle cx="17.7" cy="0.0" r="0.85" fill="#a6cee3"/><circle cx="17.7" cy="29.0" r="0.85" fill="#a6cee3"/><circle cx="8.9" cy="0.6" r="0.85" fill="#6a3d9a"/><circle cx="8.9" cy="29.6" r="0.85" fill="#6a3d9a"/><circle cx="15.7" cy="22.8" r="0.85" fill="#cab2d6"/><circle cx="20.9" cy="5.1" r="0.85" fill="#cab2d6"/><circle cx="28.3" cy="2.5" r="0.85" fill="#1f78b4"/><circle cx="-0.7" cy="2.5" r="0.85" fill="#1f78b4"/><circle cx="9.3" cy="24.1" r="0.85" fill="#1f78b4"/><circle cx="7.9" cy="2.6" r="0.85" fill="#1f78b4"/><circle cx="6.5" cy="8.3" r="0.85" fill="#33a02c"/><circle cx="24.0" cy="7.3" r="0.85" fill="#1f78b4"/><circle cx="21.1" cy="1.6" r="0.85" fill="#6a3d9a"/><circle cx="10.8" cy="14.3" r="0.85" fill="#cab2d6"/><circle cx="6.6" cy="20.2" r="0.85" fill="#1f78b4"/><circle cx="26.8" cy="10.3" r="0.85" fill="#1f78b4"/><circle cx="25.6" cy="3.5" r="0.85" fill="#33a02c"/><circle cx="16.8" cy="25.7" r="0.85" fill="#cab2d6"/><circle cx="13.0" cy="8.9" r="0.85" fill="#1f78b4"/><circle cx="6.3" cy="9.8" r="0.85" fill="#6a3d9a"/><circle cx="1.9" cy="24.9" r="0.85" fill="#cab2d6"/><circle cx="11.6" cy="9.6" r="0.85" fill="#1f78b4"/><circle cx="5.4" cy="5.9" r="0.85" fill="#33a02c"/><circle cx="22.5" cy="26.1" r="0.85" fill="#1f78b4"/><circle cx="6.4" cy="19.2" r="0.85" fill="#6a3d9a"/><circle cx="5.6" cy="24.6" r="0.85" fill="#1f78b4"/><circle cx="4.9" cy="1.6" r="0.85" fill="#1f78b4"/><circle cx="20.6" cy="10.1" r="0.85" fill="#b2df8a"/><circle cx="13.7" cy="24.6" r="0.85" fill="#6a3d9a"/><circle cx="1.4" cy="6.2" r="0.85" fill="#6a3d9a"/><circle cx="25.9" cy="1.3" r="0.85" fill="#a6cee3"/><circle cx="11.4" cy="7.4" r="0.85" fill="#6a3d9a"/><circle cx="7.5" cy="18.4" r="0.85" fill="#1f78b4"/><circle cx="22.5" cy="27.4" r="0.85" fill="#6a3d9a"/><circle cx="0.4" cy="6.6" r="0.85" fill="#6a3d9a"/><circle cx="29.4" cy="6.6" r="0.85" fill="#6a3d9a"/><circle cx="3.3" cy="11.9" r="0.85" fill="#6a3d9a"/><circle cx="17.9" cy="6.8" r="0.85" fill="#1f78b4"/><circle cx="12.2" cy="24.7" r="0.85" fill="#cab2d6"/><circle cx="8.0" cy="15.3" r="0.85" fill="#6a3d9a"/><circle cx="1.9" cy="0.9" r="0.85" fill="#cab2d6"/><circle cx="9.9" cy="21.4" r="0.85" fill="#1f78b4"/><circle cx="15.1" cy="18.9" r="0.85" fill="#6a3d9a"/><circle cx="14.1" cy="28.4" r="0.85" fill="#33a02c"/><circle cx="14.1" cy="-0.6" r="0.85" fill="#33a02c"/><circle cx="1.0" cy="5.3" r="0.85" fill="#1f78b4"/><circle cx="28.3" cy="4.3" r="0.85" fill="#6a3d9a"/><circle cx="-0.7" cy="4.3" r="0.85" fill="#6a3d9a"/><circle cx="10.3" cy="4.3" r="0.85" fill="#b2df8a"/><circle cx="16.0" cy="23.5" r="0.85" fill="#1f78b4"/><circle cx="3.4" cy="1.2" r="0.85" fill="#1f78b4"/><circle cx="28.1" cy="2.6" r="0.85" fill="#cab2d6"/><circle cx="19.1" cy="13.9" r="0.85" fill="#a6cee3"/><circle cx="3.4" cy="13.0" r="0.85" fill="#33a02c"/><circle cx="12.0" cy="25.2" r="0.85" fill="#6a3d9a"/><circle cx="26.1" cy="17.6" r="0.85" fill="#6a3d9a"/><circle cx="7.9" cy="2.6" r="0.85" fill="#1f78b4"/><circle cx="10.0" cy="18.4" r="0.85" fill="#a6cee3"/><circle cx="13.7" cy="16.4" r="0.85" fill="#6a3d9a"/><circle cx="6.5" cy="24.8" r="0.85" fill="#6a3d9a"/><circle cx="23.9" cy="15.8" r="0.85" fill="#6a3d9a"/><circle cx="20.6" cy="21.5" r="0.85" fill="#33a02c"/><circle cx="7.3" cy="22.2" r="0.85" fill="#6a3d9a"/><circle cx="24.3" cy="4.8" r="0.85" fill="#a6cee3"/><circle cx="16.7" cy="5.9" r="0.85" fill="#33a02c"/><circle cx="11.2" cy="6.3" r="0.85" fill="#1f78b4"/><circle cx="19.2" cy="3.3" r="0.85" fill="#cab2d6"/><circle cx="5.5" cy="0.6" r="0.85" fill="#1f78b4"/><circle cx="5.5" cy="29.6" r="0.85" fill="#1f78b4"/><circle cx="21.9" cy="11.8" r="0.85" fill="#a6cee3"/><circle cx="17.0" cy="21.5" r="0.85" fill="#1f78b4"/><circle cx="4.9" cy="4.3" r="0.85" fill="#cab2d6"/><circle cx="7.2" cy="13.2" r="0.85" fill="#a6cee3"/><circle cx="22.2" cy="9.7" r="0.85" fill="#6a3d9a"/><circle cx="19.4" cy="15.0" r="0.85" fill="#a6cee3"/><circle cx="23.2" cy="9.0" r="0.85" fill="#b2df8a"/><circle cx="1.1" cy="10.2" r="0.85" fill="#33a02c"/><circle cx="18.5" cy="12.7" r="0.85" fill="#33a02c"/><circle cx="22.1" cy="4.4" r="0.85" fill="#a6cee3"/><circle cx="13.1" cy="18.1" r="0.85" fill="#6a3d9a"/><circle cx="5.9" cy="1.9" r="0.85" fill="#b2df8a"/><circle cx="20.6" cy="10.0" r="0.85" fill="#1f78b4"/><circle cx="17.2" cy="2.4" r="0.85" fill="#1f78b4"/><circle cx="6.5" cy="1.4" r="0.85" fill="#b2df8a"/><circle cx="10.1" cy="10.1" r="0.85" fill="#a6cee3"/><circle cx="16.8" cy="28.1" r="0.85" fill="#6a3d9a"/><circle cx="23.6" cy="12.0" r="0.85" fill="#b2df8a"/><circle cx="17.4" cy="19.2" r="0.85" fill="#a6cee3"/><circle cx="17.1" cy="10.0" r="0.85" fill="#6a3d9a"/><circle cx="23.4" cy="17.3" r="0.85" fill="#6a3d9a"/><circle cx="3.1" cy="20.8" r="0.85" fill="#6a3d9a"/><circle cx="17.9" cy="19.6" r="0.85" fill="#33a02c"/><circle cx="16.6" cy="16.8" r="0.85" fill="#33a02c"/><circle cx="15.4" cy="6.2" r="0.85" fill="#1f78b4"/><circle cx="14.0" cy="16.2" r="0.85" fill="#1f78b4"/><circle cx="0.4" cy="18.3" r="0.85" fill="#1f78b4"/><circle cx="29.4" cy="18.3" r="0.85" fill="#1f78b4"/><circle cx="25.9" cy="26.7" r="0.85" fill="#cab2d6"/><circle cx="26.1" cy="20.7" r="0.85" fill="#6a3d9a"/><circle cx="6.9" cy="8.3" r="0.85" fill="#cab2d6"/><circle cx="14.1" cy="8.5" r="0.85" fill="#33a02c"/><circle cx="24.1" cy="28.7" r="0.85" fill="#6a3d9a"/><circle cx="24.1" cy="-0.3" r="0.85" fill="#6a3d9a"/><circle cx="13.8" cy="28.3" r="0.85" fill="#a6cee3"/><circle cx="13.8" cy="-0.7" r="0.85" fill="#a6cee3"/><circle cx="7.3" cy="1.0" r="0.85" fill="#a6cee3"/><circle cx="16.1" cy="21.5" r="0.85" fill="#1f78b4"/><circle cx="24.5" cy="6.6" r="0.85" fill="#cab2d6"/><circle cx="13.3" cy="22.6" r="0.85" fill="#cab2d6"/><circle cx="16.7" cy="23.5" r="0.85" fill="#1f78b4"/><circle cx="19.5" cy="26.1" r="0.85" fill="#1f78b4"/><circle cx="14.2" cy="26.1" r="0.85" fill="#33a02c"/><circle cx="17.2" cy="9.8" r="0.85" fill="#6a3d9a"/><circle cx="1.3" cy="8.0" r="0.85" fill="#a6cee3"/><circle cx="4.0" cy="17.4" r="0.85" fill="#1f78b4"/><circle cx="26.1" cy="0.6" r="0.85" fill="#cab2d6"/><circle cx="26.1" cy="29.6" r="0.85" fill="#cab2d6"/><circle cx="12.0" cy="28.1" r="0.85" fill="#cab2d6"/><circle cx="15.4" cy="2.0" r="0.85" fill="#1f78b4"/><circle cx="26.3" cy="26.7" r="0.85" fill="#cab2d6"/><circle cx="10.2" cy="8.5" r="0.85" fill="#6a3d9a"/><circle cx="6.3" cy="27.7" r="0.85" fill="#6a3d9a"/><circle cx="2.3" cy="21.9" r="0.85" fill="#6a3d9a"/><circle cx="3.4" cy="24.0" r="0.85" fill="#a6cee3"/><circle cx="16.4" cy="13.1" r="0.85" fill="#1f78b4"/><circle cx="25.6" cy="25.5" r="0.85" fill="#a6cee3"/><circle cx="27.4" cy="4.6" r="0.85" fill="#33a02c"/><circle cx="28.5" cy="10.5" r="0.85" fill="#cab2d6"/><circle cx="-0.5" cy="10.5" r="0.85" fill="#cab2d6"/><circle cx="13.1" cy="2.5" r="0.85" fill="#33a02c"/><circle cx="24.6" cy="23.9" r="0.85" fill="#a6cee3"/><circle cx="18.0" cy="0.6" r="0.85" fill="#1f78b4"/><circle cx="18.0" cy="29.6" r="0.85" fill="#1f78b4"/><circle cx="7.5" cy="26.3" r="0.85" fill="#cab2d6"/><circle cx="26.6" cy="22.3" r="0.85" fill="#33a02c"/><circle cx="17.8" cy="20.9" r="0.85" fill="#a6cee3"/><circle cx="6.4" cy="20.3" r="0.85" fill="#6a3d9a"/><circle cx="11.3" cy="12.9" r="0.85" fill="#1f78b4"/><circle cx="18.4" cy="15.2" r="0.85" fill="#33a02c"/><circle cx="18.0" cy="9.5" r="0.85" fill="#a6cee3"/><circle cx="15.4" cy="10.9" r="0.85" fill="#33a02c"/><circle cx="21.4" cy="12.0" r="0.85" fill="#1f78b4"/><circle cx="1.0" cy="4.1" r="0.85" fill="#1f78b4"/><circle cx="18.1" cy="18.7" r="0.85" fill="#b2df8a"/><circle cx="22.0" cy="26.9" r="0.85" fill="#cab2d6"/><circle cx="1.4" cy="15.0" r="0.85" fill="#cab2d6"/><circle cx="16.7" cy="14.2" r="0.85" fill="#a6cee3"/><circle cx="5.1" cy="19.2" r="0.85" fill="#6a3d9a"/><circle cx="19.4" cy="27.6" r="0.85" fill="#cab2d6"/><circle cx="24.7" cy="10.7" r="0.85" fill="#6a3d9a"/><circle cx="18.3" cy="22.4" r="0.85" fill="#6a3d9a"/><circle cx="28.5" cy="12.2" r="0.85" fill="#6a3d9a"/><circle cx="-0.5" cy="12.2" r="0.85" fill="#6a3d9a"/><circle cx="14.1" cy="2.7" r="0.85" fill="#cab2d6"/><circle cx="21.2" cy="26.2" r="0.85" fill="#6a3d9a"/><circle cx="27.9" cy="26.4" r="0.85" fill="#1f78b4"/><circle cx="8.5" cy="26.7" r="0.85" fill="#6a3d9a"/><circle cx="24.9" cy="19.6" r="0.85" fill="#a6cee3"/><circle cx="2.1" cy="0.9" r="0.85" fill="#6a3d9a"/><circle cx="8.1" cy="2.5" r="0.85" fill="#6a3d9a"/><circle cx="7.1" cy="28.6" r="0.85" fill="#6a3d9a"/><circle cx="7.1" cy="-0.4" r="0.85" fill="#6a3d9a"/><circle cx="17.5" cy="3.3" r="0.85" fill="#cab2d6"/><circle cx="10.7" cy="6.4" r="0.85" fill="#33a02c"/><circle cx="11.5" cy="22.3" r="0.85" fill="#1f78b4"/><circle cx="24.8" cy="16.4" r="0.85" fill="#1f78b4"/><circle cx="8.6" cy="19.4" r="0.85" fill="#33a02c"/><circle cx="1.6" cy="11.6" r="0.85" fill="#6a3d9a"/><circle cx="4.8" cy="15.5" r="0.85" fill="#6a3d9a"/><circle cx="18.8" cy="19.3" r="0.85" fill="#6a3d9a"/><circle cx="3.2" cy="27.1" r="0.85" fill="#6a3d9a"/><circle cx="6.3" cy="19.9" r="0.85" fill="#33a02c"/><circle cx="26.3" cy="19.6" r="0.85" fill="#33a02c"/><circle cx="16.0" cy="19.5" r="0.85" fill="#a6cee3"/><circle cx="13.0" cy="16.6" r="0.85" fill="#cab2d6"/><circle cx="12.9" cy="8.6" r="0.85" fill="#6a3d9a"/><circle cx="2.9" cy="28.8" r="0.85" fill="#a6cee3"/><circle cx="2.9" cy="-0.2" r="0.85" fill="#a6cee3"/><circle cx="3.1" cy="19.9" r="0.85" fill="#b2df8a"/><circle cx="27.8" cy="10.0" r="0.85" fill="#6a3d9a"/><circle cx="0.7" cy="12.6" r="0.85" fill="#6a3d9a"/><circle cx="29.7" cy="12.6" r="0.85" fill="#6a3d9a"/><circle cx="20.2" cy="0.3" r="0.85" fill="#1f78b4"/><circle cx="20.2" cy="29.3" r="0.85" fill="#1f78b4"/><circle cx="1.1" cy="17.2" r="0.85" fill="#1f78b4"/><circle cx="27.2" cy="10.0" r="0.85" fill="#6a3d9a"/><circle cx="3.9" cy="27.8" r="0.85" fill="#cab2d6"/><circle cx="1.4" cy="24.5" r="0.85" fill="#1f78b4"/><circle cx="15.1" cy="20.7" r="0.85" fill="#33a02c"/></pattern>
<clipPath id="eryc"><path d="M457.00,17.20 L459.80,17.70 L460.40,22.20 L463.00,27.30 L469.40,35.00 L474.50,38.80 L480.90,42.70 L485.30,45.20 L487.30,50.30 L493.60,55.40 L498.70,60.50 L500.50,66.00 L499.50,76.60 L500.90,83.50 L498.10,89.00 L494.60,93.20 L487.00,96.70 L480.10,99.40 L473.20,98.70 L464.90,97.30 L456.60,97.30 L449.70,94.60 L445.50,90.40 L444.10,86.30 L449.70,83.50 L453.80,78.00 L455.20,73.10 L458.00,71.10 L457.30,65.50 L462.10,64.10 L468.10,64.20 L471.90,60.50 L470.70,54.10 L467.30,50.30 L466.50,42.70 L460.80,35.00 L458.00,27.30 L456.30,21.60Z" stroke-width="1"/></clipPath>
<filter id="bl2" x="-0.2" y="-0.2" width="1.4" height="1.4"><feGaussianBlur stdDeviation="2.2"/></filter>
<pattern id="fbd" width="13.00" height="13.00" patternUnits="userSpaceOnUse"><rect width="13.00" height="13.00" fill="#4a4aff"/><rect x="0.00" y="0.00" width="1.35" height="1.35" fill="#1010ff"/><rect x="0.00" y="1.30" width="1.35" height="1.35" fill="#1010ff"/><rect x="0.00" y="2.60" width="1.35" height="1.35" fill="#1010ff"/><rect x="0.00" y="3.90" width="1.35" height="1.35" fill="#1010ff"/><rect x="0.00" y="5.20" width="1.35" height="1.35" fill="#1010ff"/><rect x="0.00" y="6.50" width="1.35" height="1.35" fill="#1010ff"/><rect x="0.00" y="7.80" width="1.35" height="1.35" fill="#8a8af0"/><rect x="0.00" y="9.10" width="1.35" height="1.35" fill="#4a4aff"/><rect x="0.00" y="10.40" width="1.35" height="1.35" fill="#4a4aff"/><rect x="0.00" y="11.70" width="1.35" height="1.35" fill="#1010ff"/><rect x="1.30" y="0.00" width="1.35" height="1.35" fill="#1010ff"/><rect x="1.30" y="1.30" width="1.35" height="1.35" fill="#1010ff"/><rect x="1.30" y="2.60" width="1.35" height="1.35" fill="#1010ff"/><rect x="1.30" y="3.90" width="1.35" height="1.35" fill="#1010ff"/><rect x="1.30" y="5.20" width="1.35" height="1.35" fill="#1010ff"/><rect x="1.30" y="6.50" width="1.35" height="1.35" fill="#8a8af0"/><rect x="1.30" y="7.80" width="1.35" height="1.35" fill="#4a4aff"/><rect x="1.30" y="9.10" width="1.35" height="1.35" fill="#4a4aff"/><rect x="1.30" y="10.40" width="1.35" height="1.35" fill="#4a4aff"/><rect x="1.30" y="11.70" width="1.35" height="1.35" fill="#1010ff"/><rect x="2.60" y="0.00" width="1.35" height="1.35" fill="#1010ff"/><rect x="2.60" y="1.30" width="1.35" height="1.35" fill="#4a4aff"/><rect x="2.60" y="2.60" width="1.35" height="1.35" fill="#4a4aff"/><rect x="2.60" y="3.90" width="1.35" height="1.35" fill="#8a8af0"/><rect x="2.60" y="5.20" width="1.35" height="1.35" fill="#8a8af0"/><rect x="2.60" y="6.50" width="1.35" height="1.35" fill="#1010ff"/><rect x="2.60" y="7.80" width="1.35" height="1.35" fill="#1010ff"/><rect x="2.60" y="9.10" width="1.35" height="1.35" fill="#4a4aff"/><rect x="2.60" y="10.40" width="1.35" height="1.35" fill="#1010ff"/><rect x="2.60" y="11.70" width="1.35" height="1.35" fill="#1010ff"/><rect x="3.90" y="0.00" width="1.35" height="1.35" fill="#1010ff"/><rect x="3.90" y="1.30" width="1.35" height="1.35" fill="#1010ff"/><rect x="3.90" y="2.60" width="1.35" height="1.35" fill="#8a8af0"/><rect x="3.90" y="3.90" width="1.35" height="1.35" fill="#8a8af0"/><rect x="3.90" y="5.20" width="1.35" height="1.35" fill="#1010ff"/><rect x="3.90" y="6.50" width="1.35" height="1.35" fill="#1010ff"/><rect x="3.90" y="7.80" width="1.35" height="1.35" fill="#8a8af0"/><rect x="3.90" y="9.10" width="1.35" height="1.35" fill="#1010ff"/><rect x="3.90" y="10.40" width="1.35" height="1.35" fill="#8a8af0"/><rect x="3.90" y="11.70" width="1.35" height="1.35" fill="#8a8af0"/><rect x="5.20" y="0.00" width="1.35" height="1.35" fill="#1010ff"/><rect x="5.20" y="1.30" width="1.35" height="1.35" fill="#1010ff"/><rect x="5.20" y="2.60" width="1.35" height="1.35" fill="#1010ff"/><rect x="5.20" y="3.90" width="1.35" height="1.35" fill="#1010ff"/><rect x="5.20" y="5.20" width="1.35" height="1.35" fill="#1010ff"/><rect x="5.20" y="6.50" width="1.35" height="1.35" fill="#1010ff"/><rect x="5.20" y="7.80" width="1.35" height="1.35" fill="#4a4aff"/><rect x="5.20" y="9.10" width="1.35" height="1.35" fill="#1010ff"/><rect x="5.20" y="10.40" width="1.35" height="1.35" fill="#1010ff"/><rect x="5.20" y="11.70" width="1.35" height="1.35" fill="#4a4aff"/><rect x="6.50" y="0.00" width="1.35" height="1.35" fill="#1010ff"/><rect x="6.50" y="1.30" width="1.35" height="1.35" fill="#1010ff"/><rect x="6.50" y="2.60" width="1.35" height="1.35" fill="#1010ff"/><rect x="6.50" y="3.90" width="1.35" height="1.35" fill="#1010ff"/><rect x="6.50" y="5.20" width="1.35" height="1.35" fill="#d3d3d3"/><rect x="6.50" y="6.50" width="1.35" height="1.35" fill="#1010ff"/><rect x="6.50" y="7.80" width="1.35" height="1.35" fill="#1010ff"/><rect x="6.50" y="9.10" width="1.35" height="1.35" fill="#1010ff"/><rect x="6.50" y="10.40" width="1.35" height="1.35" fill="#4a4aff"/><rect x="6.50" y="11.70" width="1.35" height="1.35" fill="#1010ff"/><rect x="7.80" y="0.00" width="1.35" height="1.35" fill="#1010ff"/><rect x="7.80" y="1.30" width="1.35" height="1.35" fill="#4a4aff"/><rect x="7.80" y="2.60" width="1.35" height="1.35" fill="#1010ff"/><rect x="7.80" y="3.90" width="1.35" height="1.35" fill="#1010ff"/><rect x="7.80" y="5.20" width="1.35" height="1.35" fill="#8a8af0"/><rect x="7.80" y="6.50" width="1.35" height="1.35" fill="#1010ff"/><rect x="7.80" y="7.80" width="1.35" height="1.35" fill="#1010ff"/><rect x="7.80" y="9.10" width="1.35" height="1.35" fill="#1010ff"/><rect x="7.80" y="10.40" width="1.35" height="1.35" fill="#4a4aff"/><rect x="7.80" y="11.70" width="1.35" height="1.35" fill="#1010ff"/><rect x="9.10" y="0.00" width="1.35" height="1.35" fill="#1010ff"/><rect x="9.10" y="1.30" width="1.35" height="1.35" fill="#1010ff"/><rect x="9.10" y="2.60" width="1.35" height="1.35" fill="#1010ff"/><rect x="9.10" y="3.90" width="1.35" height="1.35" fill="#1010ff"/><rect x="9.10" y="5.20" width="1.35" height="1.35" fill="#1010ff"/><rect x="9.10" y="6.50" width="1.35" height="1.35" fill="#4a4aff"/><rect x="9.10" y="7.80" width="1.35" height="1.35" fill="#8a8af0"/><rect x="9.10" y="9.10" width="1.35" height="1.35" fill="#b8b8ec"/><rect x="9.10" y="10.40" width="1.35" height="1.35" fill="#4a4aff"/><rect x="9.10" y="11.70" width="1.35" height="1.35" fill="#b8b8ec"/><rect x="10.40" y="0.00" width="1.35" height="1.35" fill="#1010ff"/><rect x="10.40" y="1.30" width="1.35" height="1.35" fill="#1010ff"/><rect x="10.40" y="2.60" width="1.35" height="1.35" fill="#b8b8ec"/><rect x="10.40" y="3.90" width="1.35" height="1.35" fill="#4a4aff"/><rect x="10.40" y="5.20" width="1.35" height="1.35" fill="#1010ff"/><rect x="10.40" y="6.50" width="1.35" height="1.35" fill="#b8b8ec"/><rect x="10.40" y="7.80" width="1.35" height="1.35" fill="#4a4aff"/><rect x="10.40" y="9.10" width="1.35" height="1.35" fill="#4a4aff"/><rect x="10.40" y="10.40" width="1.35" height="1.35" fill="#1010ff"/><rect x="10.40" y="11.70" width="1.35" height="1.35" fill="#1010ff"/><rect x="11.70" y="0.00" width="1.35" height="1.35" fill="#1010ff"/><rect x="11.70" y="1.30" width="1.35" height="1.35" fill="#1010ff"/><rect x="11.70" y="2.60" width="1.35" height="1.35" fill="#1010ff"/><rect x="11.70" y="3.90" width="1.35" height="1.35" fill="#b8b8ec"/><rect x="11.70" y="5.20" width="1.35" height="1.35" fill="#1010ff"/><rect x="11.70" y="6.50" width="1.35" height="1.35" fill="#1010ff"/><rect x="11.70" y="7.80" width="1.35" height="1.35" fill="#1010ff"/><rect x="11.70" y="9.10" width="1.35" height="1.35" fill="#1010ff"/><rect x="11.70" y="10.40" width="1.35" height="1.35" fill="#4a4aff"/><rect x="11.70" y="11.70" width="1.35" height="1.35" fill="#1010ff"/></pattern>
<pattern id="fbm" width="13.00" height="13.00" patternUnits="userSpaceOnUse"><rect width="13.00" height="13.00" fill="#4a4aff"/><rect x="0.00" y="0.00" width="1.35" height="1.35" fill="#4a4aff"/><rect x="0.00" y="1.30" width="1.35" height="1.35" fill="#8a8af0"/><rect x="0.00" y="2.60" width="1.35" height="1.35" fill="#8a8af0"/><rect x="0.00" y="3.90" width="1.35" height="1.35" fill="#b8b8ec"/><rect x="0.00" y="5.20" width="1.35" height="1.35" fill="#8a8af0"/><rect x="0.00" y="6.50" width="1.35" height="1.35" fill="#b8b8ec"/><rect x="0.00" y="7.80" width="1.35" height="1.35" fill="#1010ff"/><rect x="0.00" y="9.10" width="1.35" height="1.35" fill="#4a4aff"/><rect x="0.00" y="10.40" width="1.35" height="1.35" fill="#b8b8ec"/><rect x="0.00" y="11.70" width="1.35" height="1.35" fill="#4a4aff"/><rect x="1.30" y="0.00" width="1.35" height="1.35" fill="#b8b8ec"/><rect x="1.30" y="1.30" width="1.35" height="1.35" fill="#1010ff"/><rect x="1.30" y="2.60" width="1.35" height="1.35" fill="#4a4aff"/><rect x="1.30" y="3.90" width="1.35" height="1.35" fill="#1010ff"/><rect x="1.30" y="5.20" width="1.35" height="1.35" fill="#4a4aff"/><rect x="1.30" y="6.50" width="1.35" height="1.35" fill="#4a4aff"/><rect x="1.30" y="7.80" width="1.35" height="1.35" fill="#1010ff"/><rect x="1.30" y="9.10" width="1.35" height="1.35" fill="#1010ff"/><rect x="1.30" y="10.40" width="1.35" height="1.35" fill="#1010ff"/><rect x="1.30" y="11.70" width="1.35" height="1.35" fill="#b8b8ec"/><rect x="2.60" y="0.00" width="1.35" height="1.35" fill="#8a8af0"/><rect x="2.60" y="1.30" width="1.35" height="1.35" fill="#1010ff"/><rect x="2.60" y="2.60" width="1.35" height="1.35" fill="#8a8af0"/><rect x="2.60" y="3.90" width="1.35" height="1.35" fill="#1010ff"/><rect x="2.60" y="5.20" width="1.35" height="1.35" fill="#4a4aff"/><rect x="2.60" y="6.50" width="1.35" height="1.35" fill="#1010ff"/><rect x="2.60" y="7.80" width="1.35" height="1.35" fill="#1010ff"/><rect x="2.60" y="9.10" width="1.35" height="1.35" fill="#b8b8ec"/><rect x="2.60" y="10.40" width="1.35" height="1.35" fill="#1010ff"/><rect x="2.60" y="11.70" width="1.35" height="1.35" fill="#1010ff"/><rect x="3.90" y="0.00" width="1.35" height="1.35" fill="#d3d3d3"/><rect x="3.90" y="1.30" width="1.35" height="1.35" fill="#b8b8ec"/><rect x="3.90" y="2.60" width="1.35" height="1.35" fill="#1010ff"/><rect x="3.90" y="3.90" width="1.35" height="1.35" fill="#d3d3d3"/><rect x="3.90" y="5.20" width="1.35" height="1.35" fill="#4a4aff"/><rect x="3.90" y="6.50" width="1.35" height="1.35" fill="#8a8af0"/><rect x="3.90" y="7.80" width="1.35" height="1.35" fill="#1010ff"/><rect x="3.90" y="9.10" width="1.35" height="1.35" fill="#b8b8ec"/><rect x="3.90" y="10.40" width="1.35" height="1.35" fill="#8a8af0"/><rect x="3.90" y="11.70" width="1.35" height="1.35" fill="#d3d3d3"/><rect x="5.20" y="0.00" width="1.35" height="1.35" fill="#b8b8ec"/><rect x="5.20" y="1.30" width="1.35" height="1.35" fill="#1010ff"/><rect x="5.20" y="2.60" width="1.35" height="1.35" fill="#4a4aff"/><rect x="5.20" y="3.90" width="1.35" height="1.35" fill="#1010ff"/><rect x="5.20" y="5.20" width="1.35" height="1.35" fill="#1010ff"/><rect x="5.20" y="6.50" width="1.35" height="1.35" fill="#1010ff"/><rect x="5.20" y="7.80" width="1.35" height="1.35" fill="#1010ff"/><rect x="5.20" y="9.10" width="1.35" height="1.35" fill="#4a4aff"/><rect x="5.20" y="10.40" width="1.35" height="1.35" fill="#1010ff"/><rect x="5.20" y="11.70" width="1.35" height="1.35" fill="#8a8af0"/><rect x="6.50" y="0.00" width="1.35" height="1.35" fill="#1010ff"/><rect x="6.50" y="1.30" width="1.35" height="1.35" fill="#1010ff"/><rect x="6.50" y="2.60" width="1.35" height="1.35" fill="#8a8af0"/><rect x="6.50" y="3.90" width="1.35" height="1.35" fill="#4a4aff"/><rect x="6.50" y="5.20" width="1.35" height="1.35" fill="#1010ff"/><rect x="6.50" y="6.50" width="1.35" height="1.35" fill="#4a4aff"/><rect x="6.50" y="7.80" width="1.35" height="1.35" fill="#8a8af0"/><rect x="6.50" y="9.10" width="1.35" height="1.35" fill="#1010ff"/><rect x="6.50" y="10.40" width="1.35" height="1.35" fill="#d3d3d3"/><rect x="6.50" y="11.70" width="1.35" height="1.35" fill="#1010ff"/><rect x="7.80" y="0.00" width="1.35" height="1.35" fill="#8a8af0"/><rect x="7.80" y="1.30" width="1.35" height="1.35" fill="#8a8af0"/><rect x="7.80" y="2.60" width="1.35" height="1.35" fill="#1010ff"/><rect x="7.80" y="3.90" width="1.35" height="1.35" fill="#8a8af0"/><rect x="7.80" y="5.20" width="1.35" height="1.35" fill="#4a4aff"/><rect x="7.80" y="6.50" width="1.35" height="1.35" fill="#4a4aff"/><rect x="7.80" y="7.80" width="1.35" height="1.35" fill="#1010ff"/><rect x="7.80" y="9.10" width="1.35" height="1.35" fill="#1010ff"/><rect x="7.80" y="10.40" width="1.35" height="1.35" fill="#1010ff"/><rect x="7.80" y="11.70" width="1.35" height="1.35" fill="#d3d3d3"/><rect x="9.10" y="0.00" width="1.35" height="1.35" fill="#1010ff"/><rect x="9.10" y="1.30" width="1.35" height="1.35" fill="#8a8af0"/><rect x="9.10" y="2.60" width="1.35" height="1.35" fill="#b8b8ec"/><rect x="9.10" y="3.90" width="1.35" height="1.35" fill="#b8b8ec"/><rect x="9.10" y="5.20" width="1.35" height="1.35" fill="#1010ff"/><rect x="9.10" y="6.50" width="1.35" height="1.35" fill="#4a4aff"/><rect x="9.10" y="7.80" width="1.35" height="1.35" fill="#4a4aff"/><rect x="9.10" y="9.10" width="1.35" height="1.35" fill="#8a8af0"/><rect x="9.10" y="10.40" width="1.35" height="1.35" fill="#1010ff"/><rect x="9.10" y="11.70" width="1.35" height="1.35" fill="#8a8af0"/><rect x="10.40" y="0.00" width="1.35" height="1.35" fill="#8a8af0"/><rect x="10.40" y="1.30" width="1.35" height="1.35" fill="#b8b8ec"/><rect x="10.40" y="2.60" width="1.35" height="1.35" fill="#1010ff"/><rect x="10.40" y="3.90" width="1.35" height="1.35" fill="#b8b8ec"/><rect x="10.40" y="5.20" width="1.35" height="1.35" fill="#1010ff"/><rect x="10.40" y="6.50" width="1.35" height="1.35" fill="#1010ff"/><rect x="10.40" y="7.80" width="1.35" height="1.35" fill="#4a4aff"/><rect x="10.40" y="9.10" width="1.35" height="1.35" fill="#b8b8ec"/><rect x="10.40" y="10.40" width="1.35" height="1.35" fill="#1010ff"/><rect x="10.40" y="11.70" width="1.35" height="1.35" fill="#b8b8ec"/><rect x="11.70" y="0.00" width="1.35" height="1.35" fill="#4a4aff"/><rect x="11.70" y="1.30" width="1.35" height="1.35" fill="#1010ff"/><rect x="11.70" y="2.60" width="1.35" height="1.35" fill="#1010ff"/><rect x="11.70" y="3.90" width="1.35" height="1.35" fill="#1010ff"/><rect x="11.70" y="5.20" width="1.35" height="1.35" fill="#1010ff"/><rect x="11.70" y="6.50" width="1.35" height="1.35" fill="#1010ff"/><rect x="11.70" y="7.80" width="1.35" height="1.35" fill="#8a8af0"/><rect x="11.70" y="9.10" width="1.35" height="1.35" fill="#d3d3d3"/><rect x="11.70" y="10.40" width="1.35" height="1.35" fill="#1010ff"/><rect x="11.70" y="11.70" width="1.35" height="1.35" fill="#1010ff"/></pattern>
<pattern id="fbl" width="13.00" height="13.00" patternUnits="userSpaceOnUse"><rect width="13.00" height="13.00" fill="#4a4aff"/><rect x="0.00" y="0.00" width="1.35" height="1.35" fill="#d3d3d3"/><rect x="0.00" y="1.30" width="1.35" height="1.35" fill="#d3d3d3"/><rect x="0.00" y="2.60" width="1.35" height="1.35" fill="#b8b8ec"/><rect x="0.00" y="3.90" width="1.35" height="1.35" fill="#8a8af0"/><rect x="0.00" y="5.20" width="1.35" height="1.35" fill="#1010ff"/><rect x="0.00" y="6.50" width="1.35" height="1.35" fill="#d3d3d3"/><rect x="0.00" y="7.80" width="1.35" height="1.35" fill="#b8b8ec"/><rect x="0.00" y="9.10" width="1.35" height="1.35" fill="#d3d3d3"/><rect x="0.00" y="10.40" width="1.35" height="1.35" fill="#b8b8ec"/><rect x="0.00" y="11.70" width="1.35" height="1.35" fill="#d3d3d3"/><rect x="1.30" y="0.00" width="1.35" height="1.35" fill="#8a8af0"/><rect x="1.30" y="1.30" width="1.35" height="1.35" fill="#d3d3d3"/><rect x="1.30" y="2.60" width="1.35" height="1.35" fill="#d3d3d3"/><rect x="1.30" y="3.90" width="1.35" height="1.35" fill="#b8b8ec"/><rect x="1.30" y="5.20" width="1.35" height="1.35" fill="#b8b8ec"/><rect x="1.30" y="6.50" width="1.35" height="1.35" fill="#d3d3d3"/><rect x="1.30" y="7.80" width="1.35" height="1.35" fill="#8a8af0"/><rect x="1.30" y="9.10" width="1.35" height="1.35" fill="#b8b8ec"/><rect x="1.30" y="10.40" width="1.35" height="1.35" fill="#d3d3d3"/><rect x="1.30" y="11.70" width="1.35" height="1.35" fill="#8a8af0"/><rect x="2.60" y="0.00" width="1.35" height="1.35" fill="#d3d3d3"/><rect x="2.60" y="1.30" width="1.35" height="1.35" fill="#d3d3d3"/><rect x="2.60" y="2.60" width="1.35" height="1.35" fill="#d3d3d3"/><rect x="2.60" y="3.90" width="1.35" height="1.35" fill="#8a8af0"/><rect x="2.60" y="5.20" width="1.35" height="1.35" fill="#4a4aff"/><rect x="2.60" y="6.50" width="1.35" height="1.35" fill="#d3d3d3"/><rect x="2.60" y="7.80" width="1.35" height="1.35" fill="#d3d3d3"/><rect x="2.60" y="9.10" width="1.35" height="1.35" fill="#b8b8ec"/><rect x="2.60" y="10.40" width="1.35" height="1.35" fill="#4a4aff"/><rect x="2.60" y="11.70" width="1.35" height="1.35" fill="#8a8af0"/><rect x="3.90" y="0.00" width="1.35" height="1.35" fill="#d3d3d3"/><rect x="3.90" y="1.30" width="1.35" height="1.35" fill="#8a8af0"/><rect x="3.90" y="2.60" width="1.35" height="1.35" fill="#d3d3d3"/><rect x="3.90" y="3.90" width="1.35" height="1.35" fill="#b8b8ec"/><rect x="3.90" y="5.20" width="1.35" height="1.35" fill="#8a8af0"/><rect x="3.90" y="6.50" width="1.35" height="1.35" fill="#d3d3d3"/><rect x="3.90" y="7.80" width="1.35" height="1.35" fill="#b8b8ec"/><rect x="3.90" y="9.10" width="1.35" height="1.35" fill="#d3d3d3"/><rect x="3.90" y="10.40" width="1.35" height="1.35" fill="#d3d3d3"/><rect x="3.90" y="11.70" width="1.35" height="1.35" fill="#b8b8ec"/><rect x="5.20" y="0.00" width="1.35" height="1.35" fill="#d3d3d3"/><rect x="5.20" y="1.30" width="1.35" height="1.35" fill="#d3d3d3"/><rect x="5.20" y="2.60" width="1.35" height="1.35" fill="#d3d3d3"/><rect x="5.20" y="3.90" width="1.35" height="1.35" fill="#d3d3d3"/><rect x="5.20" y="5.20" width="1.35" height="1.35" fill="#1010ff"/><rect x="5.20" y="6.50" width="1.35" height="1.35" fill="#b8b8ec"/><rect x="5.20" y="7.80" width="1.35" height="1.35" fill="#d3d3d3"/><rect x="5.20" y="9.10" width="1.35" height="1.35" fill="#8a8af0"/><rect x="5.20" y="10.40" width="1.35" height="1.35" fill="#b8b8ec"/><rect x="5.20" y="11.70" width="1.35" height="1.35" fill="#4a4aff"/><rect x="6.50" y="0.00" width="1.35" height="1.35" fill="#d3d3d3"/><rect x="6.50" y="1.30" width="1.35" height="1.35" fill="#b8b8ec"/><rect x="6.50" y="2.60" width="1.35" height="1.35" fill="#4a4aff"/><rect x="6.50" y="3.90" width="1.35" height="1.35" fill="#d3d3d3"/><rect x="6.50" y="5.20" width="1.35" height="1.35" fill="#8a8af0"/><rect x="6.50" y="6.50" width="1.35" height="1.35" fill="#8a8af0"/><rect x="6.50" y="7.80" width="1.35" height="1.35" fill="#b8b8ec"/><rect x="6.50" y="9.10" width="1.35" height="1.35" fill="#4a4aff"/><rect x="6.50" y="10.40" width="1.35" height="1.35" fill="#8a8af0"/><rect x="6.50" y="11.70" width="1.35" height="1.35" fill="#d3d3d3"/><rect x="7.80" y="0.00" width="1.35" height="1.35" fill="#d3d3d3"/><rect x="7.80" y="1.30" width="1.35" height="1.35" fill="#1010ff"/><rect x="7.80" y="2.60" width="1.35" height="1.35" fill="#d3d3d3"/><rect x="7.80" y="3.90" width="1.35" height="1.35" fill="#1010ff"/><rect x="7.80" y="5.20" width="1.35" height="1.35" fill="#8a8af0"/><rect x="7.80" y="6.50" width="1.35" height="1.35" fill="#d3d3d3"/><rect x="7.80" y="7.80" width="1.35" height="1.35" fill="#d3d3d3"/><rect x="7.80" y="9.10" width="1.35" height="1.35" fill="#8a8af0"/><rect x="7.80" y="10.40" width="1.35" height="1.35" fill="#b8b8ec"/><rect x="7.80" y="11.70" width="1.35" height="1.35" fill="#b8b8ec"/><rect x="9.10" y="0.00" width="1.35" height="1.35" fill="#4a4aff"/><rect x="9.10" y="1.30" width="1.35" height="1.35" fill="#d3d3d3"/><rect x="9.10" y="2.60" width="1.35" height="1.35" fill="#4a4aff"/><rect x="9.10" y="3.90" width="1.35" height="1.35" fill="#b8b8ec"/><rect x="9.10" y="5.20" width="1.35" height="1.35" fill="#d3d3d3"/><rect x="9.10" y="6.50" width="1.35" height="1.35" fill="#b8b8ec"/><rect x="9.10" y="7.80" width="1.35" height="1.35" fill="#d3d3d3"/><rect x="9.10" y="9.10" width="1.35" height="1.35" fill="#8a8af0"/><rect x="9.10" y="10.40" width="1.35" height="1.35" fill="#d3d3d3"/><rect x="9.10" y="11.70" width="1.35" height="1.35" fill="#d3d3d3"/><rect x="10.40" y="0.00" width="1.35" height="1.35" fill="#d3d3d3"/><rect x="10.40" y="1.30" width="1.35" height="1.35" fill="#d3d3d3"/><rect x="10.40" y="2.60" width="1.35" height="1.35" fill="#b8b8ec"/><rect x="10.40" y="3.90" width="1.35" height="1.35" fill="#d3d3d3"/><rect x="10.40" y="5.20" width="1.35" height="1.35" fill="#d3d3d3"/><rect x="10.40" y="6.50" width="1.35" height="1.35" fill="#b8b8ec"/><rect x="10.40" y="7.80" width="1.35" height="1.35" fill="#b8b8ec"/><rect x="10.40" y="9.10" width="1.35" height="1.35" fill="#d3d3d3"/><rect x="10.40" y="10.40" width="1.35" height="1.35" fill="#b8b8ec"/><rect x="10.40" y="11.70" width="1.35" height="1.35" fill="#4a4aff"/><rect x="11.70" y="0.00" width="1.35" height="1.35" fill="#d3d3d3"/><rect x="11.70" y="1.30" width="1.35" height="1.35" fill="#8a8af0"/><rect x="11.70" y="2.60" width="1.35" height="1.35" fill="#b8b8ec"/><rect x="11.70" y="3.90" width="1.35" height="1.35" fill="#d3d3d3"/><rect x="11.70" y="5.20" width="1.35" height="1.35" fill="#8a8af0"/><rect x="11.70" y="6.50" width="1.35" height="1.35" fill="#1010ff"/><rect x="11.70" y="7.80" width="1.35" height="1.35" fill="#4a4aff"/><rect x="11.70" y="9.10" width="1.35" height="1.35" fill="#b8b8ec"/><rect x="11.70" y="10.40" width="1.35" height="1.35" fill="#b8b8ec"/><rect x="11.70" y="11.70" width="1.35" height="1.35" fill="#8a8af0"/></pattern>
<pattern id="fbs" width="13.00" height="13.00" patternUnits="userSpaceOnUse"><rect width="13.00" height="13.00" fill="#4a4aff"/><rect x="0.00" y="0.00" width="1.35" height="1.35" fill="#1010ff"/><rect x="0.00" y="1.30" width="1.35" height="1.35" fill="#d3d3d3"/><rect x="0.00" y="2.60" width="1.35" height="1.35" fill="#1010ff"/><rect x="0.00" y="3.90" width="1.35" height="1.35" fill="#d3d3d3"/><rect x="0.00" y="5.20" width="1.35" height="1.35" fill="#1010ff"/><rect x="0.00" y="6.50" width="1.35" height="1.35" fill="#1010ff"/><rect x="0.00" y="7.80" width="1.35" height="1.35" fill="#d3d3d3"/><rect x="0.00" y="9.10" width="1.35" height="1.35" fill="#1010ff"/><rect x="0.00" y="10.40" width="1.35" height="1.35" fill="#d3d3d3"/><rect x="0.00" y="11.70" width="1.35" height="1.35" fill="#8a8af0"/><rect x="1.30" y="0.00" width="1.35" height="1.35" fill="#8a8af0"/><rect x="1.30" y="1.30" width="1.35" height="1.35" fill="#8a8af0"/><rect x="1.30" y="2.60" width="1.35" height="1.35" fill="#1010ff"/><rect x="1.30" y="3.90" width="1.35" height="1.35" fill="#d3d3d3"/><rect x="1.30" y="5.20" width="1.35" height="1.35" fill="#1010ff"/><rect x="1.30" y="6.50" width="1.35" height="1.35" fill="#1010ff"/><rect x="1.30" y="7.80" width="1.35" height="1.35" fill="#1010ff"/><rect x="1.30" y="9.10" width="1.35" height="1.35" fill="#1010ff"/><rect x="1.30" y="10.40" width="1.35" height="1.35" fill="#4a4aff"/><rect x="1.30" y="11.70" width="1.35" height="1.35" fill="#d3d3d3"/><rect x="2.60" y="0.00" width="1.35" height="1.35" fill="#4a4aff"/><rect x="2.60" y="1.30" width="1.35" height="1.35" fill="#1010ff"/><rect x="2.60" y="2.60" width="1.35" height="1.35" fill="#1010ff"/><rect x="2.60" y="3.90" width="1.35" height="1.35" fill="#d3d3d3"/><rect x="2.60" y="5.20" width="1.35" height="1.35" fill="#1010ff"/><rect x="2.60" y="6.50" width="1.35" height="1.35" fill="#d3d3d3"/><rect x="2.60" y="7.80" width="1.35" height="1.35" fill="#4a4aff"/><rect x="2.60" y="9.10" width="1.35" height="1.35" fill="#d3d3d3"/><rect x="2.60" y="10.40" width="1.35" height="1.35" fill="#4a4aff"/><rect x="2.60" y="11.70" width="1.35" height="1.35" fill="#d3d3d3"/><rect x="3.90" y="0.00" width="1.35" height="1.35" fill="#8a8af0"/><rect x="3.90" y="1.30" width="1.35" height="1.35" fill="#d3d3d3"/><rect x="3.90" y="2.60" width="1.35" height="1.35" fill="#d3d3d3"/><rect x="3.90" y="3.90" width="1.35" height="1.35" fill="#b8b8ec"/><rect x="3.90" y="5.20" width="1.35" height="1.35" fill="#1010ff"/><rect x="3.90" y="6.50" width="1.35" height="1.35" fill="#1010ff"/><rect x="3.90" y="7.80" width="1.35" height="1.35" fill="#d3d3d3"/><rect x="3.90" y="9.10" width="1.35" height="1.35" fill="#8a8af0"/><rect x="3.90" y="10.40" width="1.35" height="1.35" fill="#1010ff"/><rect x="3.90" y="11.70" width="1.35" height="1.35" fill="#d3d3d3"/><rect x="5.20" y="0.00" width="1.35" height="1.35" fill="#b8b8ec"/><rect x="5.20" y="1.30" width="1.35" height="1.35" fill="#d3d3d3"/><rect x="5.20" y="2.60" width="1.35" height="1.35" fill="#d3d3d3"/><rect x="5.20" y="3.90" width="1.35" height="1.35" fill="#1010ff"/><rect x="5.20" y="5.20" width="1.35" height="1.35" fill="#4a4aff"/><rect x="5.20" y="6.50" width="1.35" height="1.35" fill="#d3d3d3"/><rect x="5.20" y="7.80" width="1.35" height="1.35" fill="#1010ff"/><rect x="5.20" y="9.10" width="1.35" height="1.35" fill="#d3d3d3"/><rect x="5.20" y="10.40" width="1.35" height="1.35" fill="#1010ff"/><rect x="5.20" y="11.70" width="1.35" height="1.35" fill="#d3d3d3"/><rect x="6.50" y="0.00" width="1.35" height="1.35" fill="#d3d3d3"/><rect x="6.50" y="1.30" width="1.35" height="1.35" fill="#d3d3d3"/><rect x="6.50" y="2.60" width="1.35" height="1.35" fill="#d3d3d3"/><rect x="6.50" y="3.90" width="1.35" height="1.35" fill="#8a8af0"/><rect x="6.50" y="5.20" width="1.35" height="1.35" fill="#1010ff"/><rect x="6.50" y="6.50" width="1.35" height="1.35" fill="#1010ff"/><rect x="6.50" y="7.80" width="1.35" height="1.35" fill="#8a8af0"/><rect x="6.50" y="9.10" width="1.35" height="1.35" fill="#8a8af0"/><rect x="6.50" y="10.40" width="1.35" height="1.35" fill="#1010ff"/><rect x="6.50" y="11.70" width="1.35" height="1.35" fill="#d3d3d3"/><rect x="7.80" y="0.00" width="1.35" height="1.35" fill="#8a8af0"/><rect x="7.80" y="1.30" width="1.35" height="1.35" fill="#d3d3d3"/><rect x="7.80" y="2.60" width="1.35" height="1.35" fill="#1010ff"/><rect x="7.80" y="3.90" width="1.35" height="1.35" fill="#1010ff"/><rect x="7.80" y="5.20" width="1.35" height="1.35" fill="#1010ff"/><rect x="7.80" y="6.50" width="1.35" height="1.35" fill="#4a4aff"/><rect x="7.80" y="7.80" width="1.35" height="1.35" fill="#1010ff"/><rect x="7.80" y="9.10" width="1.35" height="1.35" fill="#4a4aff"/><rect x="7.80" y="10.40" width="1.35" height="1.35" fill="#4a4aff"/><rect x="7.80" y="11.70" width="1.35" height="1.35" fill="#d3d3d3"/><rect x="9.10" y="0.00" width="1.35" height="1.35" fill="#d3d3d3"/><rect x="9.10" y="1.30" width="1.35" height="1.35" fill="#1010ff"/><rect x="9.10" y="2.60" width="1.35" height="1.35" fill="#4a4aff"/><rect x="9.10" y="3.90" width="1.35" height="1.35" fill="#1010ff"/><rect x="9.10" y="5.20" width="1.35" height="1.35" fill="#d3d3d3"/><rect x="9.10" y="6.50" width="1.35" height="1.35" fill="#d3d3d3"/><rect x="9.10" y="7.80" width="1.35" height="1.35" fill="#1010ff"/><rect x="9.10" y="9.10" width="1.35" height="1.35" fill="#d3d3d3"/><rect x="9.10" y="10.40" width="1.35" height="1.35" fill="#4a4aff"/><rect x="9.10" y="11.70" width="1.35" height="1.35" fill="#1010ff"/><rect x="10.40" y="0.00" width="1.35" height="1.35" fill="#d3d3d3"/><rect x="10.40" y="1.30" width="1.35" height="1.35" fill="#4a4aff"/><rect x="10.40" y="2.60" width="1.35" height="1.35" fill="#1010ff"/><rect x="10.40" y="3.90" width="1.35" height="1.35" fill="#4a4aff"/><rect x="10.40" y="5.20" width="1.35" height="1.35" fill="#1010ff"/><rect x="10.40" y="6.50" width="1.35" height="1.35" fill="#4a4aff"/><rect x="10.40" y="7.80" width="1.35" height="1.35" fill="#4a4aff"/><rect x="10.40" y="9.10" width="1.35" height="1.35" fill="#4a4aff"/><rect x="10.40" y="10.40" width="1.35" height="1.35" fill="#b8b8ec"/><rect x="10.40" y="11.70" width="1.35" height="1.35" fill="#1010ff"/><rect x="11.70" y="0.00" width="1.35" height="1.35" fill="#1010ff"/><rect x="11.70" y="1.30" width="1.35" height="1.35" fill="#1010ff"/><rect x="11.70" y="2.60" width="1.35" height="1.35" fill="#1010ff"/><rect x="11.70" y="3.90" width="1.35" height="1.35" fill="#8a8af0"/><rect x="11.70" y="5.20" width="1.35" height="1.35" fill="#4a4aff"/><rect x="11.70" y="6.50" width="1.35" height="1.35" fill="#d3d3d3"/><rect x="11.70" y="7.80" width="1.35" height="1.35" fill="#8a8af0"/><rect x="11.70" y="9.10" width="1.35" height="1.35" fill="#d3d3d3"/><rect x="11.70" y="10.40" width="1.35" height="1.35" fill="#d3d3d3"/><rect x="11.70" y="11.70" width="1.35" height="1.35" fill="#1010ff"/></pattern>
<linearGradient id="expr" x1="0" x2="0" y1="0" y2="1"><stop offset="0" stop-color="#00e000"/><stop offset="0.12" stop-color="#00b030"/><stop offset="0.32" stop-color="#1010d0"/><stop offset="0.5" stop-color="#0000ff"/><stop offset="0.75" stop-color="#8a8ae8"/><stop offset="1" stop-color="#e4e4ec"/></linearGradient>
<linearGradient id="acc" x1="0" x2="1" y1="0" y2="0"><stop offset="0" stop-color="#f2f2f2"/><stop offset="0.5" stop-color="#8e9fc0"/><stop offset="1" stop-color="#0d3278"/></linearGradient>
</defs>
<rect width="685" height="470" fill="#fff"/>
<path d="M26.6,26.4 C27,24 30,22.8 32.5,23 C36,23.2 39,25.5 38.9,29 C38.8,32 36.5,34.5 33,35.3 C30,36 28.4,38.5 27.9,42 L27.1,48 L26.9,65.5 L27.2,82 L27.3,98.7 L27.3,110 L27.7,113.7 L28.1,119.7 L28.8,124.9 L29.6,128.6 L31.1,131.6 L31.4,134.6 L30.7,137.6 L29.6,139.8 L27.3,141.3 L24.7,140.9 L22.5,139.4 L21,137.2 L19.9,136.1 L15.4,136.8 L12.1,136.4 L10.6,134.6 L11,131.6 L12.4,127.9 L15.4,124.1 L17.3,117.4 L18.8,110 L19.6,98 L19.4,82 L18.9,65.5 L18.5,50 C18.3,47 17.5,44.5 16.5,42 C15.5,39.5 15.2,36.5 15.8,34 C16.5,31.5 18,30 20,29.2 C21.5,28.8 23,30 24,31.6 C25,30 25.8,28 26.6,26.4 Z" fill="#efdcb3"/>
<g clip-path="url(#boneclip)">
<rect x="10" y="82" width="22" height="62" fill="url(#shaft)"/>
<path d="M10,126 C14,124 18,126 21,131 L22,138 L10,140 Z" fill="#ecdcae"/>
<path d="M22,130 C25,129 29,130 32,133 L32,142 L22,142 Z" fill="#dcc692"/>
<ellipse cx="23.2" cy="40.5" rx="7.5" ry="9.5" fill="url(#pink)"/>
<ellipse cx="27.5" cy="35.5" rx="3.5" ry="3" fill="url(#pink)" opacity="0.8"/>
<path d="M20.4,47.5 L26.2,47.5 L26.2,82 L21.2,82 Z" fill="#e0b03c"/>
<path d="M19.2,48 L20.8,48 L21.4,82 L20.2,82 Z" fill="#ecd49a"/>
<path d="M25.6,48 L27.2,48 L27.3,82 L25.8,82 Z" fill="#cfa44a"/>
</g>
<path d="M26.6,26.4 C27,24 30,22.8 32.5,23 C36,23.2 39,25.5 38.9,29 C38.8,32 36.5,34.5 33,35.3 C30,36 28.4,38.5 27.9,42 L27.1,48 L26.9,65.5 L27.2,82 L27.3,98.7 L27.3,110 L27.7,113.7 L28.1,119.7 L28.8,124.9 L29.6,128.6 L31.1,131.6 L31.4,134.6 L30.7,137.6 L29.6,139.8 L27.3,141.3 L24.7,140.9 L22.5,139.4 L21,137.2 L19.9,136.1 L15.4,136.8 L12.1,136.4 L10.6,134.6 L11,131.6 L12.4,127.9 L15.4,124.1 L17.3,117.4 L18.8,110 L19.6,98 L19.4,82 L18.9,65.5 L18.5,50 C18.3,47 17.5,44.5 16.5,42 C15.5,39.5 15.2,36.5 15.8,34 C16.5,31.5 18,30 20,29.2 C21.5,28.8 23,30 24,31.6 C25,30 25.8,28 26.6,26.4 Z" fill="none" stroke="#4a4036" stroke-width="0.6"/>
<path d="M26.2,35.6 C30,31 36,28.2 43,28.2 C49,28.2 54,29.8 58.5,32.6" fill="none" stroke="#000" stroke-width="0.9"/>
<path d="M63.70,36.00 L55.89,34.32 L58.90,32.74 L59.27,29.36Z" fill="#000"/>
<text x="40.40" y="44.60" font-size="8.35" text-anchor="start" fill="#1a1a1a">bone marrow</text>
<text x="40.20" y="81.20" font-size="8.35" text-anchor="start" fill="#1a1a1a">total bone marrow (<tspan font-weight="bold">TBM</tspan>)</text>
<text x="40.20" y="119.00" font-size="8.35" text-anchor="start" fill="#1a1a1a">depleted bone marrow (<tspan font-weight="bold">DBM</tspan>)</text>
<text x="69.60" y="60.40" font-size="6.3" text-anchor="start" font-style="italic" fill="#333">Collagenase IV</text>
<text x="69.40" y="98.40" font-size="6.3" text-anchor="start" font-style="italic" fill="#333">CD45 / TER119</text>
<line x1="63.50" y1="48.80" x2="63.50" y2="67.20" stroke="#000" stroke-width="0.9"/>
<path d="M63.50,72.20 L60.40,65.20 L63.50,67.00 L66.60,65.20Z" fill="#000"/>
<line x1="63.50" y1="86.20" x2="63.50" y2="104.80" stroke="#000" stroke-width="0.9"/>
<path d="M63.50,109.80 L60.40,102.80 L63.50,104.60 L66.60,102.80Z" fill="#000"/>
<line x1="63.50" y1="124.20" x2="63.50" y2="143.00" stroke="#000" stroke-width="0.9"/>
<path d="M63.50,148.00 L60.40,141.00 L63.50,142.80 L66.60,141.00Z" fill="#000"/>
<path d="M135.8,78.2 C150,78 161.5,88 161.5,102 C161.5,118 150,130.4 131.6,130.4 L66,130.4 Q63.5,130.4 63.5,133" fill="none" stroke="#111" stroke-width="0.8" stroke-dasharray="2.2,1.5"/>
<path d="M50.00,57.40 L52.62,54.17 A4.6,4.6 0 1,0 52.42,60.08 Z" fill="#d6df1c" stroke="#6a6a30" stroke-width="0.35"/>
<circle cx="50.40" cy="53.50" r="0.60" fill="#222" stroke="none" stroke-width="0.8"/>
<text x="49.70" y="66.40" font-size="5.5" text-anchor="middle" fill="#222">digest</text>
<path d="M41.3,89.4 L52.5,89.4 A7.15,7.15 0 0 1 52.5,103.7 L41.3,103.7 L41.3,98.6 L52.5,98.6 A2.05,2.05 0 0 0 52.5,94.5 L41.3,94.5 Z" fill="#e8304a"/>
<path d="M41.3,89.4 L52.5,89.4 A7.15,7.15 0 0 1 59.65,96.55 L54.55,96.55 A2.05,2.05 0 0 0 52.5,94.5 L41.3,94.5 Z" fill="#2a8db0"/>
<rect x="41.30" y="89.40" width="2.70" height="5.10" fill="#e4e4e4" stroke="none" stroke-width="0.9"/>
<rect x="41.30" y="98.60" width="2.70" height="5.10" fill="#e4e4e4" stroke="none" stroke-width="0.9"/>
<path d="M41.3,89.4 L52.5,89.4 A7.15,7.15 0 0 1 52.5,103.7 L41.3,103.7 L41.3,98.6 L52.5,98.6 A2.05,2.05 0 0 0 52.5,94.5 L41.3,94.5 Z" fill="none" stroke="#999" stroke-width="0.4"/>
<text x="86.40" y="156.60" font-size="8.3" text-anchor="start" font-weight="bold" fill="#111">Drop-Seq</text>
<rect x="71.60" y="149.90" width="4.90" height="50.50" fill="#fbe6b6" stroke="#6b5a48" stroke-width="0.5"/>
<rect x="86.20" y="167.40" width="33.40" height="15.00" fill="#fbe6b6" stroke="#6b5a48" stroke-width="0.5"/>
<rect x="36.10" y="170.20" width="50.30" height="10.00" fill="#5bbcc4" stroke="#6b5a48" stroke-width="0.5"/>
<rect x="61.50" y="149.90" width="4.90" height="50.50" fill="#c6f1f5" stroke="#888" stroke-width="0.5"/>
<path d="M66.4,170.5 L86.2,170.5 L86.2,179.9 L66.4,179.9 Z" fill="#bfeef2"/>
<rect x="71.60" y="170.50" width="4.90" height="9.40" fill="#c4eff3" stroke="none" stroke-width="0.9"/>
<path d="M61.5,170.5 L64,170.5 C68,171.5 70,172.3 76,172.6 L84,172.4 C86,172.2 87,171.5 89,170.5 L89,179 C87,178 86,177.4 84,177.3 L76,177.3 C70,177.6 68,178.5 64,179.9 L61.5,179.9 Z" fill="#5bbcc4"/>
<circle cx="93.40" cy="174.70" r="5.90" fill="#5bbcc4" stroke="none" stroke-width="0.8"/>
<circle cx="107.60" cy="175.20" r="5.60" fill="#a8e4ea" stroke="none" stroke-width="0.8"/>
<circle cx="122.40" cy="173.70" r="6.30" fill="url(#glow)" stroke="none" stroke-width="0.8"/>
<circle cx="122.40" cy="173.70" r="3.60" fill="#ff00ff" stroke="none" stroke-width="0.8"/>
<circle cx="42.80" cy="173.90" r="2.25" fill="#3f3f3f" stroke="none" stroke-width="0.8"/>
<circle cx="59.20" cy="174.80" r="2.25" fill="#3f3f3f" stroke="none" stroke-width="0.8"/>
<circle cx="95.00" cy="174.60" r="2.25" fill="#3f3f3f" stroke="none" stroke-width="0.8"/>
<circle cx="107.80" cy="178.10" r="2.25" fill="#3f3f3f" stroke="none" stroke-width="0.8"/>
<circle cx="122.40" cy="173.70" r="2.25" fill="#3f3f3f" stroke="none" stroke-width="0.8"/>
<circle cx="63.30" cy="157.60" r="0.95" fill="#ff10ff" stroke="none" stroke-width="0.8"/>
<circle cx="72.00" cy="171.80" r="0.95" fill="#ff10ff" stroke="none" stroke-width="0.8"/>
<circle cx="89.30" cy="179.20" r="0.95" fill="#ff10ff" stroke="none" stroke-width="0.8"/>
<circle cx="63.80" cy="185.20" r="0.95" fill="#ff10ff" stroke="none" stroke-width="0.8"/>
<circle cx="64.50" cy="198.00" r="0.95" fill="#ff10ff" stroke="none" stroke-width="0.8"/>
<circle cx="107.30" cy="171.80" r="0.95" fill="#ff10ff" stroke="none" stroke-width="0.8"/>
<line x1="137.00" y1="173.50" x2="155.00" y2="173.50" stroke="#000" stroke-width="0.9"/>
<path d="M159.90,173.50 L152.40,176.80 L154.40,173.50 L152.40,170.20Z" fill="#000"/>
<text x="0.50" y="16.20" font-size="16" text-anchor="start" font-weight="bold" fill="#000">a</text>
<text x="180.60" y="16.20" font-size="16" text-anchor="start" font-weight="bold" fill="#000">b</text>
<text x="359.80" y="16.20" font-size="16" text-anchor="start" font-weight="bold" fill="#000">c</text>
<text x="537.40" y="16.20" font-size="16" text-anchor="start" font-weight="bold" fill="#000">d</text>
<text x="180.60" y="166.20" font-size="16" text-anchor="start" font-weight="bold" fill="#000">e</text>
<text x="0.30" y="249.80" font-size="16" text-anchor="start" font-weight="bold" fill="#000">f</text>
<text x="180.80" y="250.20" font-size="16" text-anchor="start" font-weight="bold" fill="#000">g</text>
<text x="335.00" y="250.40" font-size="16" text-anchor="start" font-weight="bold" fill="#000">h</text>
<text x="537.60" y="250.40" font-size="16" text-anchor="start" font-weight="bold" fill="#000">i</text>
<path d="M275.23,17.58 L278.00,18.08 L278.60,22.56 L281.17,27.63 L287.51,35.30 L292.56,39.08 L298.90,42.96 L303.26,45.45 L305.24,50.52 L311.48,55.60 L316.53,60.67 L318.32,66.15 L317.33,76.69 L318.71,83.56 L315.94,89.03 L312.47,93.21 L304.95,96.70 L298.11,99.38 L291.28,98.69 L283.05,97.29 L274.83,97.29 L268.00,94.61 L263.84,90.43 L262.45,86.35 L268.00,83.56 L272.06,78.09 L273.45,73.21 L276.22,71.22 L275.53,65.65 L280.28,64.25 L286.22,64.35 L289.99,60.67 L288.80,54.30 L285.43,50.52 L284.64,42.96 L278.99,35.30 L276.22,27.63 L274.53,21.96Z" fill="url(#pl)" stroke="url(#pl)" stroke-width="0.99" stroke-linejoin="round"/>
<path d="M223.92,44.95 L227.09,45.35 L228.08,48.13 L230.26,51.32 L232.14,53.21 L235.31,55.10 L238.28,57.59 L238.48,60.17 L235.31,60.17 L232.83,58.48 L230.26,56.99 L228.37,55.70 L227.78,58.88 L225.80,60.17 L222.03,60.57 L220.55,58.28 L221.04,54.50 L221.84,50.62 L222.73,46.84Z" fill="url(#pm)" stroke="url(#pm)" stroke-width="0.99" stroke-linejoin="round"/>
<path d="M220.75,60.17 L225.80,58.88 L232.14,60.17 L237.88,61.47 L239.77,64.65 L241.05,68.43 L239.17,71.02 L236.00,72.22 L232.14,72.91 L228.37,72.22 L224.61,72.22 L222.73,71.02 L222.03,67.14 L219.56,63.96Z" fill="url(#pm)" stroke="url(#pm)" stroke-width="0.99" stroke-linejoin="round"/>
<path d="M220.25,72.91 L224.21,72.41 L228.67,73.11 L233.13,73.71 L236.60,76.10 L237.09,80.57 L235.80,82.57 L231.25,87.94 L228.28,93.71 L230.06,96.10 L228.87,98.39 L227.78,103.07 L229.46,106.55 L224.21,106.55 L220.75,103.07 L216.19,98.39 L212.62,94.90 L212.13,90.23 L213.81,84.46 L217.28,80.87 L219.26,76.59Z" fill="url(#pl)" stroke="url(#pl)" stroke-width="0.99" stroke-linejoin="round"/>
<path d="M234.71,99.58 L238.28,100.08 L240.46,103.07 L241.65,106.55 L243.53,109.93 L241.55,115.90 L238.18,115.80 L234.71,111.23 L232.34,106.55 L231.74,101.87Z" fill="url(#pd)" stroke="url(#pd)" stroke-width="0.99" stroke-linejoin="round"/>
<path d="M241.65,106.55 L245.12,108.84 L253.24,112.32 L258.98,115.31 L260.17,119.29 L257.89,122.27 L253.24,121.67 L247.39,119.88 L241.65,118.19 L238.18,115.80 L239.57,111.92Z" fill="url(#pd)" stroke="url(#pd)" stroke-width="0.99" stroke-linejoin="round"/>
<path d="M243.93,83.26 L250.86,84.46 L249.97,90.03 L248.58,96.10 L246.90,95.50 L245.02,90.03Z" fill="url(#pd)" stroke="url(#pd)" stroke-width="0.99" stroke-linejoin="round"/>
<path d="M247.10,65.65 L249.28,66.54 L250.46,69.73 L253.04,72.22 L256.21,73.31 L258.09,74.80 L256.80,76.69 L254.92,77.59 L257.50,79.28 L260.67,81.17 L259.97,82.66 L257.50,81.77 L254.33,79.88 L251.16,79.28 L249.28,79.88 L249.97,82.57 L250.96,85.55 L247.49,86.55 L244.82,84.06 L243.53,80.48 L244.82,78.58 L242.24,77.99 L239.77,77.59 L236.99,77.29 L237.19,75.80 L240.36,74.80 L243.53,73.51 L245.41,71.02 L246.11,67.84Z" fill="url(#pl)" stroke="url(#pl)" stroke-width="0.99" stroke-linejoin="round"/>
<path d="M252.45,58.88 L254.33,56.99 L259.97,55.70 L261.26,57.59 L257.40,58.68 L253.63,60.17Z" fill="url(#pd)" stroke="url(#pd)" stroke-width="0.99" stroke-linejoin="round"/>
<path d="M250.46,31.61 L253.04,32.21 L254.92,36.69 L258.69,40.47 L261.86,43.65 L263.14,47.44 L261.86,49.33 L258.69,46.84 L254.92,43.06 L251.75,39.87 L249.87,35.99Z" fill="url(#pd)" stroke="url(#pd)" stroke-width="0.99" stroke-linejoin="round"/>
<path d="M256.80,72.22 L263.74,66.54" fill="none" stroke="#8cc070" stroke-width="2.48" stroke-linecap="round" stroke-linejoin="round"/>
<path d="M285.13,113.81 L289.20,114.51 L291.97,116.60 L293.36,119.39 L294.25,122.07" fill="none" stroke="#c4c8e0" stroke-width="2.48" stroke-linecap="round" stroke-linejoin="round"/>
<ellipse cx="247.99" cy="47.44" rx="2.97" ry="2.77" fill="url(#pd)"/>
<ellipse cx="278.20" cy="115.21" rx="2.77" ry="1.98" fill="url(#pl)"/>
<line x1="207.50" y1="12.50" x2="207.50" y2="128.30" stroke="#2a2a2a" stroke-width="0.9"/>
<line x1="207.50" y1="128.30" x2="323.90" y2="128.30" stroke="#2a2a2a" stroke-width="0.9"/>
<line x1="229.90" y1="128.30" x2="229.90" y2="130.50" stroke="#2a2a2a" stroke-width="0.9"/>
<text x="228.60" y="142.46" font-size="9.8" text-anchor="middle" fill="#1a1a1a">-40</text>
<line x1="267.70" y1="128.30" x2="267.70" y2="130.50" stroke="#2a2a2a" stroke-width="0.9"/>
<text x="267.70" y="142.46" font-size="9.8" text-anchor="middle" fill="#1a1a1a">0</text>
<line x1="305.50" y1="128.30" x2="305.50" y2="130.50" stroke="#2a2a2a" stroke-width="0.9"/>
<text x="305.50" y="142.46" font-size="9.8" text-anchor="middle" fill="#1a1a1a">40</text>
<line x1="205.30" y1="42.60" x2="207.50" y2="42.60" stroke="#2a2a2a" stroke-width="0.9"/>
<text x="203.80" y="46.13" font-size="9.8" text-anchor="end" fill="#1a1a1a">40</text>
<line x1="205.30" y1="75.40" x2="207.50" y2="75.40" stroke="#2a2a2a" stroke-width="0.9"/>
<text x="203.80" y="78.93" font-size="9.8" text-anchor="end" fill="#1a1a1a">0</text>
<line x1="205.30" y1="108.10" x2="207.50" y2="108.10" stroke="#2a2a2a" stroke-width="0.9"/>
<text x="203.80" y="111.63" font-size="9.8" text-anchor="end" fill="#1a1a1a">-40</text>
<line x1="207.50" y1="12.50" x2="299.30" y2="12.50" stroke="#2a2a2a" stroke-width="0.9"/>
<line x1="323.90" y1="27.70" x2="323.90" y2="128.30" stroke="#2a2a2a" stroke-width="0.9"/>
<text x="267.30" y="155.30" font-size="9.8" text-anchor="middle" fill="#1a1a1a">Dimension 1</text>
<text x="187.00" y="75.40" font-size="9.8" text-anchor="middle" fill="#1a1a1a" transform="rotate(-90 187.00 75.40)">Dimension 2</text>
<rect x="299.30" y="-1.00" width="46.30" height="28.70" fill="#fff" stroke="#222" stroke-width="0.9"/>
<text x="341.80" y="6.80" font-size="7.2" text-anchor="end" fill="#1a1a1a">mouse</text>
<text x="302.00" y="15.70" font-size="7.2" text-anchor="start" fill="#1a1a1a">TBM</text>
<text x="302.00" y="24.70" font-size="7.2" text-anchor="start" fill="#1a1a1a">DBM</text>
<circle cx="322.60" cy="13.20" r="2.90" fill="#6a3d9a" stroke="none" stroke-width="0.8"/>
<circle cx="322.60" cy="22.20" r="2.90" fill="#cab2d6" stroke="none" stroke-width="0.8"/>
<circle cx="331.20" cy="13.20" r="2.90" fill="#1f78b4" stroke="none" stroke-width="0.8"/>
<circle cx="331.20" cy="22.20" r="2.90" fill="#a6cee3" stroke="none" stroke-width="0.8"/>
<circle cx="339.80" cy="13.20" r="2.90" fill="#33a02c" stroke="none" stroke-width="0.8"/>
<circle cx="339.80" cy="22.20" r="2.90" fill="#b2df8a" stroke="none" stroke-width="0.8"/>
<path d="M457.00,17.20 L459.80,17.70 L460.40,22.20 L463.00,27.30 L469.40,35.00 L474.50,38.80 L480.90,42.70 L485.30,45.20 L487.30,50.30 L493.60,55.40 L498.70,60.50 L500.50,66.00 L499.50,76.60 L500.90,83.50 L498.10,89.00 L494.60,93.20 L487.00,96.70 L480.10,99.40 L473.20,98.70 L464.90,97.30 L456.60,97.30 L449.70,94.60 L445.50,90.40 L444.10,86.30 L449.70,83.50 L453.80,78.00 L455.20,73.10 L458.00,71.10 L457.30,65.50 L462.10,64.10 L468.10,64.20 L471.90,60.50 L470.70,54.10 L467.30,50.30 L466.50,42.70 L460.80,35.00 L458.00,27.30 L456.30,21.60Z" fill="#d9512f" stroke="#d9512f" stroke-width="1.00" stroke-linejoin="round"/>
<path d="M405.20,44.70 L408.40,45.10 L409.40,47.90 L411.60,51.10 L413.50,53.00 L416.70,54.90 L419.70,57.40 L419.90,60.00 L416.70,60.00 L414.20,58.30 L411.60,56.80 L409.70,55.50 L409.10,58.70 L407.10,60.00 L403.30,60.40 L401.80,58.10 L402.30,54.30 L403.10,50.40 L404.00,46.60Z" fill="#6a2080" stroke="#6a2080" stroke-width="1.00" stroke-linejoin="round"/>
<path d="M402.00,60.00 L407.10,58.70 L413.50,60.00 L419.30,61.30 L421.20,64.50 L422.50,68.30 L420.60,70.90 L417.40,72.10 L413.50,72.80 L409.70,72.10 L405.90,72.10 L404.00,70.90 L403.30,67.00 L400.80,63.80Z" fill="#9c4fad" stroke="#9c4fad" stroke-width="1.00" stroke-linejoin="round"/>
<path d="M401.50,72.80 L405.50,72.30 L410.00,73.00 L414.50,73.60 L418.00,76.00 L418.50,80.50 L417.20,82.50 L412.60,87.90 L409.60,93.70 L411.40,96.10 L410.20,98.40 L409.10,103.10 L410.80,106.60 L405.50,106.60 L402.00,103.10 L397.40,98.40 L393.80,94.90 L393.30,90.20 L395.00,84.40 L398.50,80.80 L400.50,76.50Z" fill="#7a78c0" stroke="#7a78c0" stroke-width="1.00" stroke-linejoin="round"/>
<path d="M416.10,99.60 L419.70,100.10 L421.90,103.10 L423.10,106.60 L425.00,110.00 L423.00,116.00 L419.60,115.90 L416.10,111.30 L413.70,106.60 L413.10,101.90Z" fill="#6a5aac" stroke="#6a5aac" stroke-width="1.00" stroke-linejoin="round"/>
<path d="M423.10,106.60 L426.60,108.90 L434.80,112.40 L440.60,115.40 L441.80,119.40 L439.50,122.40 L434.80,121.80 L428.90,120.00 L423.10,118.30 L419.60,115.90 L421.00,112.00Z" fill="#4b3cb0" stroke="#4b3cb0" stroke-width="1.00" stroke-linejoin="round"/>
<path d="M425.40,83.20 L432.40,84.40 L431.50,90.00 L430.10,96.10 L428.40,95.50 L426.50,90.00Z" fill="#2a7ab8" stroke="#2a7ab8" stroke-width="1.00" stroke-linejoin="round"/>
<path d="M428.60,65.50 L430.80,66.40 L432.00,69.60 L434.60,72.10 L437.80,73.20 L439.70,74.70 L438.40,76.60 L436.50,77.50 L439.10,79.20 L442.30,81.10 L441.60,82.60 L439.10,81.70 L435.90,79.80 L432.70,79.20 L430.80,79.80 L431.50,82.50 L432.50,85.50 L429.00,86.50 L426.30,84.00 L425.00,80.40 L426.30,78.50 L423.70,77.90 L421.20,77.50 L418.40,77.20 L418.60,75.70 L421.80,74.70 L425.00,73.40 L426.90,70.90 L427.60,67.70Z" fill="#1e9a78" stroke="#1e9a78" stroke-width="1.00" stroke-linejoin="round"/>
<path d="M434.00,58.70 L435.90,56.80 L441.60,55.50 L442.90,57.40 L439.00,58.50 L435.20,60.00Z" fill="#e6ab02" stroke="#e6ab02" stroke-width="1.00" stroke-linejoin="round"/>
<path d="M432.00,31.30 L434.60,31.90 L436.50,36.40 L440.30,40.20 L443.50,43.40 L444.80,47.20 L443.50,49.10 L440.30,46.60 L436.50,42.80 L433.30,39.60 L431.40,35.70Z" fill="#a6761d" stroke="#a6761d" stroke-width="1.00" stroke-linejoin="round"/>
<path d="M438.40,72.10 L445.40,66.40" fill="none" stroke="#66a61e" stroke-width="2.50" stroke-linecap="round" stroke-linejoin="round"/>
<path d="M467.00,113.90 L471.10,114.60 L473.90,116.70 L475.30,119.50 L476.20,122.20" fill="none" stroke="#e7298a" stroke-width="2.50" stroke-linecap="round" stroke-linejoin="round"/>
<ellipse cx="429.50" cy="47.20" rx="3.00" ry="2.80" fill="#8f4a4a"/>
<ellipse cx="460.00" cy="115.30" rx="2.80" ry="2.00" fill="#666666"/>
<g clip-path="url(#eryc)">
<rect x="440" y="10" width="66" height="95" fill="#cf4829"/>
<g filter="url(#bl2)">
<path d="M440,10 L470,10 L500,40 L505,58 L490,56 L478,52 L468,56 L458,60 L440,50 Z" fill="#b5321a"/>
<path d="M452,64 L470,63 L474,72 L476,88 L478,100 L440,100 L440,70 Z" fill="#e2603e"/>
<path d="M476,60 L495,62 L502,72 L495,80 L480,76 Z" fill="#c8432a" opacity="0.7"/>
</g>
</g>
<path d="M457.00,17.20 L459.80,17.70 L460.40,22.20 L463.00,27.30 L469.40,35.00 L474.50,38.80 L480.90,42.70 L485.30,45.20 L487.30,50.30 L493.60,55.40 L498.70,60.50 L500.50,66.00 L499.50,76.60 L500.90,83.50 L498.10,89.00 L494.60,93.20 L487.00,96.70 L480.10,99.40 L473.20,98.70 L464.90,97.30 L456.60,97.30 L449.70,94.60 L445.50,90.40 L444.10,86.30 L449.70,83.50 L453.80,78.00 L455.20,73.10 L458.00,71.10 L457.30,65.50 L462.10,64.10 L468.10,64.20 L471.90,60.50 L470.70,54.10 L467.30,50.30 L466.50,42.70 L460.80,35.00 L458.00,27.30 L456.30,21.60Z" fill="none" stroke="#d04a2c" stroke-width="1" stroke-linejoin="round" opacity="0.6"/>
<path d="M457.00,17.20 L459.80,17.70 L460.40,22.20 L463.00,27.30 L469.40,35.00 L474.50,38.80 L480.90,42.70 L485.30,45.20 L487.30,50.30 L493.60,55.40 L498.70,60.50 L500.50,66.00 L499.50,76.60 L500.90,83.50 L498.10,89.00 L494.60,93.20 L487.00,96.70 L480.10,99.40 L473.20,98.70 L464.90,97.30 L456.60,97.30 L449.70,94.60 L445.50,90.40 L444.10,86.30 L449.70,83.50 L453.80,78.00 L455.20,73.10 L458.00,71.10 L457.30,65.50 L462.10,64.10 L468.10,64.20 L471.90,60.50 L470.70,54.10 L467.30,50.30 L466.50,42.70 L460.80,35.00 L458.00,27.30 L456.30,21.60Z M405.20,44.70 L408.40,45.10 L409.40,47.90 L411.60,51.10 L413.50,53.00 L416.70,54.90 L419.70,57.40 L419.90,60.00 L416.70,60.00 L414.20,58.30 L411.60,56.80 L409.70,55.50 L409.10,58.70 L407.10,60.00 L403.30,60.40 L401.80,58.10 L402.30,54.30 L403.10,50.40 L404.00,46.60Z M402.00,60.00 L407.10,58.70 L413.50,60.00 L419.30,61.30 L421.20,64.50 L422.50,68.30 L420.60,70.90 L417.40,72.10 L413.50,72.80 L409.70,72.10 L405.90,72.10 L404.00,70.90 L403.30,67.00 L400.80,63.80Z M401.50,72.80 L405.50,72.30 L410.00,73.00 L414.50,73.60 L418.00,76.00 L418.50,80.50 L417.20,82.50 L412.60,87.90 L409.60,93.70 L411.40,96.10 L410.20,98.40 L409.10,103.10 L410.80,106.60 L405.50,106.60 L402.00,103.10 L397.40,98.40 L393.80,94.90 L393.30,90.20 L395.00,84.40 L398.50,80.80 L400.50,76.50Z M416.10,99.60 L419.70,100.10 L421.90,103.10 L423.10,106.60 L425.00,110.00 L423.00,116.00 L419.60,115.90 L416.10,111.30 L413.70,106.60 L413.10,101.90Z M423.10,106.60 L426.60,108.90 L434.80,112.40 L440.60,115.40 L441.80,119.40 L439.50,122.40 L434.80,121.80 L428.90,120.00 L423.10,118.30 L419.60,115.90 L421.00,112.00Z M425.40,83.20 L432.40,84.40 L431.50,90.00 L430.10,96.10 L428.40,95.50 L426.50,90.00Z M428.60,65.50 L430.80,66.40 L432.00,69.60 L434.60,72.10 L437.80,73.20 L439.70,74.70 L438.40,76.60 L436.50,77.50 L439.10,79.20 L442.30,81.10 L441.60,82.60 L439.10,81.70 L435.90,79.80 L432.70,79.20 L430.80,79.80 L431.50,82.50 L432.50,85.50 L429.00,86.50 L426.30,84.00 L425.00,80.40 L426.30,78.50 L423.70,77.90 L421.20,77.50 L418.40,77.20 L418.60,75.70 L421.80,74.70 L425.00,73.40 L426.90,70.90 L427.60,67.70Z M434.00,58.70 L435.90,56.80 L441.60,55.50 L442.90,57.40 L439.00,58.50 L435.20,60.00Z M432.00,31.30 L434.60,31.90 L436.50,36.40 L440.30,40.20 L443.50,43.40 L444.80,47.20 L443.50,49.10 L440.30,46.60 L436.50,42.80 L433.30,39.60 L431.40,35.70Z" fill="url(#spk)" opacity="0.75"/>
<line x1="388.60" y1="12.50" x2="388.60" y2="128.30" stroke="#2a2a2a" stroke-width="0.9"/>
<line x1="388.60" y1="128.30" x2="504.70" y2="128.30" stroke="#2a2a2a" stroke-width="0.9"/>
<line x1="388.60" y1="12.50" x2="504.70" y2="12.50" stroke="#2a2a2a" stroke-width="0.9"/>
<line x1="504.70" y1="12.50" x2="504.70" y2="128.30" stroke="#2a2a2a" stroke-width="0.9"/>
<line x1="411.50" y1="128.30" x2="411.50" y2="130.50" stroke="#2a2a2a" stroke-width="0.9"/>
<text x="410.20" y="142.46" font-size="9.8" text-anchor="middle" fill="#1a1a1a">-40</text>
<line x1="449.40" y1="128.30" x2="449.40" y2="130.50" stroke="#2a2a2a" stroke-width="0.9"/>
<text x="449.40" y="142.46" font-size="9.8" text-anchor="middle" fill="#1a1a1a">0</text>
<line x1="487.50" y1="128.30" x2="487.50" y2="130.50" stroke="#2a2a2a" stroke-width="0.9"/>
<text x="487.50" y="142.46" font-size="9.8" text-anchor="middle" fill="#1a1a1a">40</text>
<line x1="386.40" y1="42.20" x2="388.60" y2="42.20" stroke="#2a2a2a" stroke-width="0.9"/>
<text x="384.90" y="45.73" font-size="9.8" text-anchor="end" fill="#1a1a1a">40</text>
<line x1="386.40" y1="75.30" x2="388.60" y2="75.30" stroke="#2a2a2a" stroke-width="0.9"/>
<text x="384.90" y="78.83" font-size="9.8" text-anchor="end" fill="#1a1a1a">0</text>
<line x1="386.40" y1="108.10" x2="388.60" y2="108.10" stroke="#2a2a2a" stroke-width="0.9"/>
<text x="384.90" y="111.63" font-size="9.8" text-anchor="end" fill="#1a1a1a">-40</text>
<text x="449.40" y="155.30" font-size="9.8" text-anchor="middle" fill="#1a1a1a">Dimension 1</text>
<text x="369.00" y="75.30" font-size="9.8" text-anchor="middle" fill="#1a1a1a" transform="rotate(-90 369.00 75.30)">Dimension 2</text>
<path d="M636.49,18.55 L639.25,19.05 L639.84,23.52 L642.40,28.59 L648.71,36.24 L653.73,40.02 L660.04,43.90 L664.37,46.38 L666.34,51.45 L672.55,56.52 L677.58,61.59 L679.35,67.06 L678.36,77.59 L679.74,84.45 L676.99,89.92 L673.54,94.09 L666.05,97.57 L659.25,100.25 L652.45,99.56 L644.27,98.17 L636.09,98.17 L629.30,95.48 L625.16,91.31 L623.78,87.23 L629.30,84.45 L633.34,78.98 L634.71,74.11 L637.47,72.13 L636.78,66.56 L641.51,65.17 L647.43,65.27 L651.17,61.59 L649.99,55.23 L646.64,51.45 L645.85,43.90 L640.23,36.24 L637.47,28.59 L635.80,22.93Z" fill="#c4c4c4" stroke="#c4c4c4" stroke-width="0.99" stroke-linejoin="round"/>
<path d="M585.45,45.89 L588.60,46.28 L589.59,49.07 L591.75,52.25 L593.63,54.14 L596.78,56.02 L599.74,58.51 L599.93,61.09 L596.78,61.09 L594.32,59.40 L591.75,57.91 L589.88,56.62 L589.29,59.80 L587.32,61.09 L583.58,61.49 L582.10,59.20 L582.59,55.43 L583.38,51.55 L584.27,47.77Z" fill="#c4c4c4" stroke="#c4c4c4" stroke-width="0.99" stroke-linejoin="round"/>
<path d="M582.30,61.09 L587.32,59.80 L593.63,61.09 L599.34,62.38 L601.21,65.57 L602.49,69.34 L600.62,71.93 L597.47,73.12 L593.63,73.82 L589.88,73.12 L586.14,73.12 L584.27,71.93 L583.58,68.05 L581.11,64.87Z" fill="#c4c4c4" stroke="#c4c4c4" stroke-width="0.99" stroke-linejoin="round"/>
<path d="M581.80,73.82 L585.74,73.32 L590.18,74.01 L594.61,74.61 L598.06,77.00 L598.55,81.47 L597.27,83.46 L592.74,88.82 L589.78,94.59 L591.56,96.97 L590.38,99.26 L589.29,103.93 L590.97,107.41 L585.74,107.41 L582.30,103.93 L577.76,99.26 L574.22,95.78 L573.72,91.11 L575.40,85.34 L578.85,81.77 L580.82,77.49Z" fill="#c4c4c4" stroke="#c4c4c4" stroke-width="0.99" stroke-linejoin="round"/>
<path d="M596.19,100.45 L599.74,100.95 L601.90,103.93 L603.09,107.41 L604.96,110.79 L602.99,116.75 L599.64,116.65 L596.19,112.08 L593.82,107.41 L593.23,102.74Z" fill="#c4c4c4" stroke="#c4c4c4" stroke-width="0.99" stroke-linejoin="round"/>
<path d="M603.09,107.41 L606.53,109.70 L614.61,113.17 L620.33,116.16 L621.51,120.13 L619.25,123.11 L614.61,122.52 L608.80,120.73 L603.09,119.04 L599.64,116.65 L601.02,112.78Z" fill="#c4c4c4" stroke="#c4c4c4" stroke-width="0.99" stroke-linejoin="round"/>
<path d="M605.35,84.15 L612.25,85.34 L611.36,90.91 L609.98,96.97 L608.31,96.38 L606.44,90.91Z" fill="#c4c4c4" stroke="#c4c4c4" stroke-width="0.99" stroke-linejoin="round"/>
<path d="M608.51,66.56 L610.67,67.45 L611.86,70.63 L614.42,73.12 L617.57,74.21 L619.44,75.70 L618.16,77.59 L616.29,78.49 L618.85,80.18 L622.00,82.06 L621.31,83.56 L618.85,82.66 L615.70,80.77 L612.55,80.18 L610.67,80.77 L611.36,83.46 L612.35,86.44 L608.90,87.43 L606.24,84.95 L604.96,81.37 L606.24,79.48 L603.68,78.88 L601.21,78.49 L598.45,78.19 L598.65,76.70 L601.81,75.70 L604.96,74.41 L606.83,71.93 L607.52,68.75Z" fill="#c4c4c4" stroke="#c4c4c4" stroke-width="0.99" stroke-linejoin="round"/>
<path d="M613.83,59.80 L615.70,57.91 L621.31,56.62 L622.60,58.51 L618.75,59.60 L615.01,61.09Z" fill="#c4c4c4" stroke="#c4c4c4" stroke-width="0.99" stroke-linejoin="round"/>
<path d="M611.86,32.57 L614.42,33.16 L616.29,37.64 L620.03,41.41 L623.19,44.59 L624.47,48.37 L623.19,50.26 L620.03,47.77 L616.29,44.00 L613.14,40.82 L611.26,36.94Z" fill="#c4c4c4" stroke="#c4c4c4" stroke-width="0.99" stroke-linejoin="round"/>
<path d="M618.16,73.12 L625.06,67.45" fill="none" stroke="#c4c4c4" stroke-width="2.46" stroke-linecap="round" stroke-linejoin="round"/>
<path d="M646.34,114.67 L650.38,115.36 L653.14,117.45 L654.52,120.23 L655.41,122.92" fill="none" stroke="#c4c4c4" stroke-width="2.46" stroke-linecap="round" stroke-linejoin="round"/>
<ellipse cx="609.39" cy="48.37" rx="2.96" ry="2.76" fill="#c4c4c4"/>
<ellipse cx="639.44" cy="116.06" rx="2.76" ry="1.97" fill="#c4c4c4"/>
<path d="M636.49,18.55 L639.25,19.05 L639.84,23.52 L642.40,28.59 L648.71,36.24 L653.73,40.02 L660.04,43.90 L664.37,46.38 L666.34,51.45 L672.55,56.52 L677.58,61.59 L679.35,67.06 L678.36,77.59 L679.74,84.45 L676.99,89.92 L673.54,94.09 L666.05,97.57 L659.25,100.25 L652.45,99.56 L644.27,98.17 L636.09,98.17 L629.30,95.48 L625.16,91.31 L623.78,87.23 L629.30,84.45 L633.34,78.98 L634.71,74.11 L637.47,72.13 L636.78,66.56 L641.51,65.17 L647.43,65.27 L651.17,61.59 L649.99,55.23 L646.64,51.45 L645.85,43.90 L640.23,36.24 L637.47,28.59 L635.80,22.93Z M585.45,45.89 L588.60,46.28 L589.59,49.07 L591.75,52.25 L593.63,54.14 L596.78,56.02 L599.74,58.51 L599.93,61.09 L596.78,61.09 L594.32,59.40 L591.75,57.91 L589.88,56.62 L589.29,59.80 L587.32,61.09 L583.58,61.49 L582.10,59.20 L582.59,55.43 L583.38,51.55 L584.27,47.77Z M582.30,61.09 L587.32,59.80 L593.63,61.09 L599.34,62.38 L601.21,65.57 L602.49,69.34 L600.62,71.93 L597.47,73.12 L593.63,73.82 L589.88,73.12 L586.14,73.12 L584.27,71.93 L583.58,68.05 L581.11,64.87Z M581.80,73.82 L585.74,73.32 L590.18,74.01 L594.61,74.61 L598.06,77.00 L598.55,81.47 L597.27,83.46 L592.74,88.82 L589.78,94.59 L591.56,96.97 L590.38,99.26 L589.29,103.93 L590.97,107.41 L585.74,107.41 L582.30,103.93 L577.76,99.26 L574.22,95.78 L573.72,91.11 L575.40,85.34 L578.85,81.77 L580.82,77.49Z M596.19,100.45 L599.74,100.95 L601.90,103.93 L603.09,107.41 L604.96,110.79 L602.99,116.75 L599.64,116.65 L596.19,112.08 L593.82,107.41 L593.23,102.74Z M603.09,107.41 L606.53,109.70 L614.61,113.17 L620.33,116.16 L621.51,120.13 L619.25,123.11 L614.61,122.52 L608.80,120.73 L603.09,119.04 L599.64,116.65 L601.02,112.78Z M605.35,84.15 L612.25,85.34 L611.36,90.91 L609.98,96.97 L608.31,96.38 L606.44,90.91Z M608.51,66.56 L610.67,67.45 L611.86,70.63 L614.42,73.12 L617.57,74.21 L619.44,75.70 L618.16,77.59 L616.29,78.49 L618.85,80.18 L622.00,82.06 L621.31,83.56 L618.85,82.66 L615.70,80.77 L612.55,80.18 L610.67,80.77 L611.36,83.46 L612.35,86.44 L608.90,87.43 L606.24,84.95 L604.96,81.37 L606.24,79.48 L603.68,78.88 L601.21,78.49 L598.45,78.19 L598.65,76.70 L601.81,75.70 L604.96,74.41 L606.83,71.93 L607.52,68.75Z M613.83,59.80 L615.70,57.91 L621.31,56.62 L622.60,58.51 L618.75,59.60 L615.01,61.09Z M611.86,32.57 L614.42,33.16 L616.29,37.64 L620.03,41.41 L623.19,44.59 L624.47,48.37 L623.19,50.26 L620.03,47.77 L616.29,44.00 L613.14,40.82 L611.26,36.94Z" fill="url(#spk2)" opacity="0.9"/>
<line x1="568.30" y1="12.60" x2="568.30" y2="128.40" stroke="#2a2a2a" stroke-width="0.9"/>
<line x1="568.30" y1="128.40" x2="684.40" y2="128.40" stroke="#2a2a2a" stroke-width="0.9"/>
<line x1="568.30" y1="12.60" x2="684.40" y2="12.60" stroke="#2a2a2a" stroke-width="0.9"/>
<line x1="684.40" y1="12.60" x2="684.40" y2="128.40" stroke="#2a2a2a" stroke-width="0.9"/>
<line x1="591.40" y1="128.40" x2="591.40" y2="130.60" stroke="#2a2a2a" stroke-width="0.9"/>
<text x="590.10" y="142.56" font-size="9.8" text-anchor="middle" fill="#1a1a1a">-40</text>
<line x1="629.00" y1="128.40" x2="629.00" y2="130.60" stroke="#2a2a2a" stroke-width="0.9"/>
<text x="629.00" y="142.56" font-size="9.8" text-anchor="middle" fill="#1a1a1a">0</text>
<line x1="666.60" y1="128.40" x2="666.60" y2="130.60" stroke="#2a2a2a" stroke-width="0.9"/>
<text x="666.60" y="142.56" font-size="9.8" text-anchor="middle" fill="#1a1a1a">40</text>
<line x1="566.10" y1="43.40" x2="568.30" y2="43.40" stroke="#2a2a2a" stroke-width="0.9"/>
<text x="564.60" y="46.93" font-size="9.8" text-anchor="end" fill="#1a1a1a">40</text>
<line x1="566.10" y1="76.30" x2="568.30" y2="76.30" stroke="#2a2a2a" stroke-width="0.9"/>
<text x="564.60" y="79.83" font-size="9.8" text-anchor="end" fill="#1a1a1a">0</text>
<line x1="566.10" y1="108.90" x2="568.30" y2="108.90" stroke="#2a2a2a" stroke-width="0.9"/>
<text x="564.60" y="112.43" font-size="9.8" text-anchor="end" fill="#1a1a1a">-40</text>
<text x="629.00" y="155.30" font-size="9.8" text-anchor="middle" fill="#1a1a1a">Dimension 1</text>
<text x="545.80" y="76.00" font-size="9.8" text-anchor="middle" fill="#1a1a1a" transform="rotate(-90 545.80 76.00)">Dimension 2</text>
<path d="M637.14,279.61 L639.95,280.11 L640.56,284.65 L643.17,289.79 L649.60,297.56 L654.73,301.39 L661.17,305.32 L665.59,307.84 L667.60,312.99 L673.93,318.13 L679.06,323.27 L680.87,328.82 L679.86,339.51 L681.27,346.47 L678.46,352.02 L674.94,356.25 L667.30,359.78 L660.36,362.50 L653.42,361.80 L645.08,360.39 L636.74,360.39 L629.80,357.66 L625.58,353.43 L624.17,349.29 L629.80,346.47 L633.92,340.92 L635.33,335.98 L638.15,333.96 L637.44,328.32 L642.27,326.90 L648.30,327.01 L652.12,323.27 L650.91,316.82 L647.49,312.99 L646.69,305.32 L640.96,297.56 L638.15,289.79 L636.44,284.04Z" fill="#bdbdbd" stroke="#bdbdbd" stroke-width="1.01" stroke-linejoin="round"/>
<path d="M585.07,307.34 L588.29,307.74 L589.29,310.57 L591.50,313.79 L593.41,315.71 L596.63,317.63 L599.64,320.15 L599.85,322.77 L596.63,322.77 L594.12,321.06 L591.50,319.54 L589.59,318.23 L588.99,321.46 L586.98,322.77 L583.16,323.17 L581.65,320.85 L582.15,317.02 L582.96,313.09 L583.86,309.26Z" fill="#bdbdbd" stroke="#bdbdbd" stroke-width="1.01" stroke-linejoin="round"/>
<path d="M581.85,322.77 L586.98,321.46 L593.41,322.77 L599.24,324.08 L601.15,327.31 L602.46,331.14 L600.55,333.76 L597.33,334.97 L593.41,335.68 L589.59,334.97 L585.77,334.97 L583.86,333.76 L583.16,329.83 L580.65,326.60Z" fill="#bdbdbd" stroke="#bdbdbd" stroke-width="1.01" stroke-linejoin="round"/>
<path d="M581.35,335.68 L585.37,335.17 L589.89,335.88 L594.42,336.49 L597.94,338.91 L598.44,343.44 L597.13,345.46 L592.51,350.91 L589.49,356.76 L591.30,359.18 L590.09,361.50 L588.99,366.24 L590.70,369.77 L585.37,369.77 L581.85,366.24 L577.23,361.50 L573.61,357.97 L573.11,353.23 L574.81,347.38 L578.33,343.75 L580.34,339.41Z" fill="#bdbdbd" stroke="#bdbdbd" stroke-width="1.01" stroke-linejoin="round"/>
<path d="M596.03,362.71 L599.64,363.21 L601.86,366.24 L603.06,369.77 L604.97,373.19 L602.96,379.25 L599.54,379.14 L596.03,374.51 L593.61,369.77 L593.01,365.03Z" fill="#bdbdbd" stroke="#bdbdbd" stroke-width="1.01" stroke-linejoin="round"/>
<path d="M603.06,369.77 L606.58,372.09 L614.82,375.62 L620.65,378.64 L621.86,382.67 L619.55,385.70 L614.82,385.10 L608.89,383.28 L603.06,381.57 L599.54,379.14 L600.95,375.21Z" fill="#bdbdbd" stroke="#bdbdbd" stroke-width="1.01" stroke-linejoin="round"/>
<path d="M605.37,346.17 L612.41,347.38 L611.51,353.02 L610.10,359.18 L608.39,358.57 L606.48,353.02Z" fill="#bdbdbd" stroke="#bdbdbd" stroke-width="1.01" stroke-linejoin="round"/>
<path d="M608.59,328.32 L610.80,329.22 L612.01,332.45 L614.62,334.97 L617.84,336.08 L619.75,337.59 L618.44,339.51 L616.53,340.42 L619.15,342.13 L622.36,344.05 L621.66,345.56 L619.15,344.65 L615.93,342.74 L612.71,342.13 L610.80,342.74 L611.51,345.46 L612.51,348.49 L608.99,349.50 L606.28,346.97 L604.97,343.34 L606.28,341.43 L603.67,340.82 L601.15,340.42 L598.34,340.12 L598.54,338.60 L601.76,337.59 L604.97,336.28 L606.88,333.76 L607.59,330.54Z" fill="#bdbdbd" stroke="#bdbdbd" stroke-width="1.01" stroke-linejoin="round"/>
<path d="M614.02,321.46 L615.93,319.54 L621.66,318.23 L622.97,320.15 L619.05,321.26 L615.23,322.77Z" fill="#bdbdbd" stroke="#bdbdbd" stroke-width="1.01" stroke-linejoin="round"/>
<path d="M612.01,293.83 L614.62,294.43 L616.53,298.97 L620.35,302.80 L623.57,306.03 L624.88,309.86 L623.57,311.78 L620.35,309.26 L616.53,305.42 L613.32,302.20 L611.41,298.26Z" fill="#bdbdbd" stroke="#bdbdbd" stroke-width="1.01" stroke-linejoin="round"/>
<path d="M618.44,334.97 L625.48,329.22" fill="none" stroke="#bdbdbd" stroke-width="2.51" stroke-linecap="round" stroke-linejoin="round"/>
<path d="M647.19,377.13 L651.31,377.83 L654.13,379.95 L655.54,382.78 L656.44,385.50" fill="none" stroke="#bdbdbd" stroke-width="2.51" stroke-linecap="round" stroke-linejoin="round"/>
<ellipse cx="609.50" cy="309.86" rx="3.02" ry="2.81" fill="#bdbdbd"/>
<ellipse cx="640.16" cy="378.54" rx="2.81" ry="2.01" fill="#bdbdbd"/>
<path d="M637.14,279.61 L639.95,280.11 L640.56,284.65 L643.17,289.79 L649.60,297.56 L654.73,301.39 L661.17,305.32 L665.59,307.84 L667.60,312.99 L673.93,318.13 L679.06,323.27 L680.87,328.82 L679.86,339.51 L681.27,346.47 L678.46,352.02 L674.94,356.25 L667.30,359.78 L660.36,362.50 L653.42,361.80 L645.08,360.39 L636.74,360.39 L629.80,357.66 L625.58,353.43 L624.17,349.29 L629.80,346.47 L633.92,340.92 L635.33,335.98 L638.15,333.96 L637.44,328.32 L642.27,326.90 L648.30,327.01 L652.12,323.27 L650.91,316.82 L647.49,312.99 L646.69,305.32 L640.96,297.56 L638.15,289.79 L636.44,284.04Z M585.07,307.34 L588.29,307.74 L589.29,310.57 L591.50,313.79 L593.41,315.71 L596.63,317.63 L599.64,320.15 L599.85,322.77 L596.63,322.77 L594.12,321.06 L591.50,319.54 L589.59,318.23 L588.99,321.46 L586.98,322.77 L583.16,323.17 L581.65,320.85 L582.15,317.02 L582.96,313.09 L583.86,309.26Z M581.85,322.77 L586.98,321.46 L593.41,322.77 L599.24,324.08 L601.15,327.31 L602.46,331.14 L600.55,333.76 L597.33,334.97 L593.41,335.68 L589.59,334.97 L585.77,334.97 L583.86,333.76 L583.16,329.83 L580.65,326.60Z M581.35,335.68 L585.37,335.17 L589.89,335.88 L594.42,336.49 L597.94,338.91 L598.44,343.44 L597.13,345.46 L592.51,350.91 L589.49,356.76 L591.30,359.18 L590.09,361.50 L588.99,366.24 L590.70,369.77 L585.37,369.77 L581.85,366.24 L577.23,361.50 L573.61,357.97 L573.11,353.23 L574.81,347.38 L578.33,343.75 L580.34,339.41Z M596.03,362.71 L599.64,363.21 L601.86,366.24 L603.06,369.77 L604.97,373.19 L602.96,379.25 L599.54,379.14 L596.03,374.51 L593.61,369.77 L593.01,365.03Z M603.06,369.77 L606.58,372.09 L614.82,375.62 L620.65,378.64 L621.86,382.67 L619.55,385.70 L614.82,385.10 L608.89,383.28 L603.06,381.57 L599.54,379.14 L600.95,375.21Z M605.37,346.17 L612.41,347.38 L611.51,353.02 L610.10,359.18 L608.39,358.57 L606.48,353.02Z M608.59,328.32 L610.80,329.22 L612.01,332.45 L614.62,334.97 L617.84,336.08 L619.75,337.59 L618.44,339.51 L616.53,340.42 L619.15,342.13 L622.36,344.05 L621.66,345.56 L619.15,344.65 L615.93,342.74 L612.71,342.13 L610.80,342.74 L611.51,345.46 L612.51,348.49 L608.99,349.50 L606.28,346.97 L604.97,343.34 L606.28,341.43 L603.67,340.82 L601.15,340.42 L598.34,340.12 L598.54,338.60 L601.76,337.59 L604.97,336.28 L606.88,333.76 L607.59,330.54Z M614.02,321.46 L615.93,319.54 L621.66,318.23 L622.97,320.15 L619.05,321.26 L615.23,322.77Z M612.01,293.83 L614.62,294.43 L616.53,298.97 L620.35,302.80 L623.57,306.03 L624.88,309.86 L623.57,311.78 L620.35,309.26 L616.53,305.42 L613.32,302.20 L611.41,298.26Z" fill="url(#spk2)" opacity="0.9"/>
<line x1="568.50" y1="274.60" x2="568.50" y2="390.30" stroke="#2a2a2a" stroke-width="0.9"/>
<line x1="568.50" y1="390.30" x2="684.40" y2="390.30" stroke="#2a2a2a" stroke-width="0.9"/>
<line x1="568.50" y1="274.60" x2="684.40" y2="274.60" stroke="#2a2a2a" stroke-width="0.9"/>
<line x1="684.40" y1="274.60" x2="684.40" y2="390.30" stroke="#2a2a2a" stroke-width="0.9"/>
<line x1="590.80" y1="390.30" x2="590.80" y2="392.50" stroke="#2a2a2a" stroke-width="0.9"/>
<text x="589.50" y="404.46" font-size="9.8" text-anchor="middle" fill="#1a1a1a">-40</text>
<line x1="629.50" y1="390.30" x2="629.50" y2="392.50" stroke="#2a2a2a" stroke-width="0.9"/>
<text x="629.50" y="404.46" font-size="9.8" text-anchor="middle" fill="#1a1a1a">0</text>
<line x1="667.50" y1="390.30" x2="667.50" y2="392.50" stroke="#2a2a2a" stroke-width="0.9"/>
<text x="667.50" y="404.46" font-size="9.8" text-anchor="middle" fill="#1a1a1a">40</text>
<line x1="566.30" y1="304.60" x2="568.50" y2="304.60" stroke="#2a2a2a" stroke-width="0.9"/>
<text x="564.80" y="308.13" font-size="9.8" text-anchor="end" fill="#1a1a1a">40</text>
<line x1="566.30" y1="338.20" x2="568.50" y2="338.20" stroke="#2a2a2a" stroke-width="0.9"/>
<text x="564.80" y="341.73" font-size="9.8" text-anchor="end" fill="#1a1a1a">0</text>
<line x1="566.30" y1="371.10" x2="568.50" y2="371.10" stroke="#2a2a2a" stroke-width="0.9"/>
<text x="564.80" y="374.63" font-size="9.8" text-anchor="end" fill="#1a1a1a">-40</text>
<text x="629.00" y="417.00" font-size="9.8" text-anchor="middle" fill="#1a1a1a">Dimension 1</text>
<text x="546.30" y="337.80" font-size="9.8" text-anchor="middle" fill="#1a1a1a" transform="rotate(-90 546.30 337.80)">Dimension 2</text>
<circle cx="441.50" cy="80.50" r="0.70" fill="#1e9a78" stroke="none" stroke-width="0.8"/>
<circle cx="444.50" cy="72.50" r="0.70" fill="#1e9a78" stroke="none" stroke-width="0.8"/>
<circle cx="447.00" cy="73.00" r="0.70" fill="#1e9a78" stroke="none" stroke-width="0.8"/>
<circle cx="455.50" cy="71.00" r="0.70" fill="#1e9a78" stroke="none" stroke-width="0.8"/>
<circle cx="452.00" cy="69.50" r="0.70" fill="#1e9a78" stroke="none" stroke-width="0.8"/>
<circle cx="416.00" cy="75.50" r="0.70" fill="#9c4fad" stroke="none" stroke-width="0.8"/>
<circle cx="419.00" cy="77.50" r="0.70" fill="#9c4fad" stroke="none" stroke-width="0.8"/>
<circle cx="421.50" cy="75.00" r="0.70" fill="#9c4fad" stroke="none" stroke-width="0.8"/>
<circle cx="414.50" cy="78.00" r="0.70" fill="#9c4fad" stroke="none" stroke-width="0.8"/>
<circle cx="423.50" cy="73.00" r="0.70" fill="#9c4fad" stroke="none" stroke-width="0.8"/>
<circle cx="420.50" cy="59.50" r="0.70" fill="#8f4a4a" stroke="none" stroke-width="0.8"/>
<circle cx="421.00" cy="62.00" r="0.70" fill="#8f4a4a" stroke="none" stroke-width="0.8"/>
<circle cx="443.50" cy="121.00" r="0.70" fill="#1e9a78" stroke="none" stroke-width="0.8"/>
<circle cx="436.00" cy="122.50" r="0.70" fill="#2a7ab8" stroke="none" stroke-width="0.8"/>
<circle cx="438.50" cy="113.00" r="0.70" fill="#1e9a78" stroke="none" stroke-width="0.8"/>
<circle cx="444.50" cy="49.50" r="0.70" fill="#1e9a78" stroke="none" stroke-width="0.8"/>
<circle cx="446.00" cy="44.00" r="0.70" fill="#e05a3a" stroke="none" stroke-width="0.8"/>
<circle cx="445.00" cy="86.00" r="0.70" fill="#e05a3a" stroke="none" stroke-width="0.8"/>
<circle cx="447.50" cy="82.50" r="0.70" fill="#e05a3a" stroke="none" stroke-width="0.8"/>
<circle cx="413.80" cy="117.00" r="0.70" fill="#6a5aac" stroke="none" stroke-width="0.8"/>
<rect x="210.50" y="207.10" width="5.90" height="5.40" fill="#1e9a78" stroke="#2a2a2a" stroke-width="0.55"/>
<circle cx="213.16" cy="205.66" r="0.72" fill="#000" stroke="none" stroke-width="0.8"/>
<circle cx="213.73" cy="208.35" r="0.72" fill="#000" stroke="none" stroke-width="0.8"/>
<circle cx="213.66" cy="209.53" r="0.72" fill="#000" stroke="none" stroke-width="0.8"/>
<rect x="218.11" y="204.40" width="5.90" height="8.10" fill="#e0553a" stroke="#2a2a2a" stroke-width="0.55"/>
<circle cx="220.86" cy="202.69" r="0.72" fill="#000" stroke="none" stroke-width="0.8"/>
<circle cx="221.06" cy="205.97" r="0.72" fill="#000" stroke="none" stroke-width="0.8"/>
<circle cx="221.02" cy="208.05" r="0.72" fill="#000" stroke="none" stroke-width="0.8"/>
<rect x="225.72" y="203.60" width="5.90" height="8.90" fill="#f07a5c" stroke="#2a2a2a" stroke-width="0.55"/>
<circle cx="228.79" cy="201.81" r="0.72" fill="#000" stroke="none" stroke-width="0.8"/>
<circle cx="228.90" cy="205.27" r="0.72" fill="#000" stroke="none" stroke-width="0.8"/>
<circle cx="228.35" cy="207.60" r="0.72" fill="#000" stroke="none" stroke-width="0.8"/>
<rect x="233.33" y="207.10" width="5.90" height="5.40" fill="#e0603e" stroke="#2a2a2a" stroke-width="0.55"/>
<circle cx="235.90" cy="205.66" r="0.72" fill="#000" stroke="none" stroke-width="0.8"/>
<circle cx="236.55" cy="208.35" r="0.72" fill="#000" stroke="none" stroke-width="0.8"/>
<circle cx="236.23" cy="209.53" r="0.72" fill="#000" stroke="none" stroke-width="0.8"/>
<rect x="240.94" y="204.10" width="5.90" height="8.40" fill="#dc4e30" stroke="#2a2a2a" stroke-width="0.55"/>
<circle cx="244.10" cy="202.36" r="0.72" fill="#000" stroke="none" stroke-width="0.8"/>
<circle cx="243.49" cy="205.71" r="0.72" fill="#000" stroke="none" stroke-width="0.8"/>
<circle cx="243.85" cy="207.88" r="0.72" fill="#000" stroke="none" stroke-width="0.8"/>
<rect x="248.55" y="202.90" width="5.90" height="9.60" fill="#d0482a" stroke="#2a2a2a" stroke-width="0.55"/>
<circle cx="251.68" cy="201.04" r="0.72" fill="#000" stroke="none" stroke-width="0.8"/>
<circle cx="251.28" cy="204.65" r="0.72" fill="#000" stroke="none" stroke-width="0.8"/>
<circle cx="251.86" cy="207.22" r="0.72" fill="#000" stroke="none" stroke-width="0.8"/>
<rect x="256.16" y="208.80" width="5.90" height="3.70" fill="#c03a1e" stroke="#2a2a2a" stroke-width="0.55"/>
<circle cx="259.43" cy="207.53" r="0.72" fill="#000" stroke="none" stroke-width="0.8"/>
<circle cx="258.73" cy="209.84" r="0.72" fill="#000" stroke="none" stroke-width="0.8"/>
<circle cx="258.73" cy="210.47" r="0.72" fill="#000" stroke="none" stroke-width="0.8"/>
<rect x="263.77" y="209.20" width="5.90" height="3.30" fill="#b8341a" stroke="#2a2a2a" stroke-width="0.55"/>
<circle cx="266.75" cy="207.97" r="0.72" fill="#000" stroke="none" stroke-width="0.8"/>
<circle cx="267.07" cy="210.20" r="0.72" fill="#000" stroke="none" stroke-width="0.8"/>
<circle cx="266.62" cy="210.69" r="0.72" fill="#000" stroke="none" stroke-width="0.8"/>
<rect x="271.38" y="205.90" width="5.90" height="6.60" fill="#9c4fad" stroke="#2a2a2a" stroke-width="0.55"/>
<circle cx="274.10" cy="204.34" r="0.72" fill="#000" stroke="none" stroke-width="0.8"/>
<circle cx="274.27" cy="207.29" r="0.72" fill="#000" stroke="none" stroke-width="0.8"/>
<circle cx="273.95" cy="208.87" r="0.72" fill="#000" stroke="none" stroke-width="0.8"/>
<rect x="278.99" y="193.00" width="5.90" height="19.50" fill="#6a2080" stroke="#2a2a2a" stroke-width="0.55"/>
<circle cx="281.72" cy="190.15" r="0.72" fill="#000" stroke="none" stroke-width="0.8"/>
<circle cx="281.89" cy="195.94" r="0.72" fill="#000" stroke="none" stroke-width="0.8"/>
<circle cx="281.94" cy="201.78" r="0.72" fill="#000" stroke="none" stroke-width="0.8"/>
<rect x="286.60" y="202.10" width="5.90" height="10.40" fill="#7a78c0" stroke="#2a2a2a" stroke-width="0.55"/>
<circle cx="289.34" cy="200.16" r="0.72" fill="#000" stroke="none" stroke-width="0.8"/>
<circle cx="289.33" cy="203.95" r="0.72" fill="#000" stroke="none" stroke-width="0.8"/>
<circle cx="289.33" cy="206.78" r="0.72" fill="#000" stroke="none" stroke-width="0.8"/>
<rect x="294.21" y="187.10" width="5.90" height="25.40" fill="#6a5aac" stroke="#2a2a2a" stroke-width="0.55"/>
<circle cx="297.13" cy="183.66" r="0.72" fill="#000" stroke="none" stroke-width="0.8"/>
<circle cx="296.99" cy="190.75" r="0.72" fill="#000" stroke="none" stroke-width="0.8"/>
<circle cx="296.78" cy="198.53" r="0.72" fill="#000" stroke="none" stroke-width="0.8"/>
<rect x="301.82" y="175.80" width="5.90" height="36.70" fill="#4b3cb0" stroke="#2a2a2a" stroke-width="0.55"/>
<circle cx="305.04" cy="171.23" r="0.72" fill="#000" stroke="none" stroke-width="0.8"/>
<circle cx="304.82" cy="180.80" r="0.72" fill="#000" stroke="none" stroke-width="0.8"/>
<circle cx="304.88" cy="192.31" r="0.72" fill="#000" stroke="none" stroke-width="0.8"/>
<rect x="309.43" y="190.40" width="5.90" height="22.10" fill="#a6761d" stroke="#2a2a2a" stroke-width="0.55"/>
<circle cx="312.13" cy="187.29" r="0.72" fill="#000" stroke="none" stroke-width="0.8"/>
<circle cx="312.77" cy="193.65" r="0.72" fill="#000" stroke="none" stroke-width="0.8"/>
<circle cx="312.67" cy="200.34" r="0.72" fill="#000" stroke="none" stroke-width="0.8"/>
<rect x="317.04" y="203.40" width="5.90" height="9.10" fill="#8f4a4a" stroke="#2a2a2a" stroke-width="0.55"/>
<circle cx="319.69" cy="201.59" r="0.72" fill="#000" stroke="none" stroke-width="0.8"/>
<circle cx="319.86" cy="205.09" r="0.72" fill="#000" stroke="none" stroke-width="0.8"/>
<circle cx="320.17" cy="207.50" r="0.72" fill="#000" stroke="none" stroke-width="0.8"/>
<rect x="324.65" y="204.10" width="5.90" height="8.40" fill="#e6ab02" stroke="#2a2a2a" stroke-width="0.55"/>
<circle cx="327.77" cy="202.36" r="0.72" fill="#000" stroke="none" stroke-width="0.8"/>
<circle cx="327.95" cy="205.71" r="0.72" fill="#000" stroke="none" stroke-width="0.8"/>
<circle cx="327.54" cy="207.88" r="0.72" fill="#000" stroke="none" stroke-width="0.8"/>
<rect x="332.26" y="211.60" width="5.90" height="0.90" fill="#666666" stroke="#2a2a2a" stroke-width="0.55"/>
<circle cx="335.47" cy="211.30" r="0.72" fill="#000" stroke="none" stroke-width="0.8"/>
<circle cx="335.35" cy="211.80" r="0.72" fill="#000" stroke="none" stroke-width="0.8"/>
<rect x="339.87" y="211.60" width="5.90" height="0.90" fill="#e7298a" stroke="#2a2a2a" stroke-width="0.55"/>
<circle cx="342.66" cy="211.30" r="0.72" fill="#000" stroke="none" stroke-width="0.8"/>
<circle cx="342.89" cy="211.80" r="0.72" fill="#000" stroke="none" stroke-width="0.8"/>
<rect x="347.48" y="209.20" width="5.90" height="3.30" fill="#66a61e" stroke="#2a2a2a" stroke-width="0.55"/>
<circle cx="350.74" cy="207.97" r="0.72" fill="#000" stroke="none" stroke-width="0.8"/>
<circle cx="350.71" cy="210.20" r="0.72" fill="#000" stroke="none" stroke-width="0.8"/>
<circle cx="350.43" cy="210.69" r="0.72" fill="#000" stroke="none" stroke-width="0.8"/>
<rect x="355.09" y="209.70" width="5.90" height="2.80" fill="#2a7ab8" stroke="#2a2a2a" stroke-width="0.55"/>
<circle cx="358.11" cy="208.52" r="0.72" fill="#000" stroke="none" stroke-width="0.8"/>
<circle cx="357.67" cy="210.64" r="0.72" fill="#000" stroke="none" stroke-width="0.8"/>
<circle cx="357.83" cy="210.96" r="0.72" fill="#000" stroke="none" stroke-width="0.8"/>
<rect x="372.70" y="199.60" width="5.90" height="12.90" fill="#1e9a78" stroke="#2a2a2a" stroke-width="0.55"/>
<circle cx="376.01" cy="197.41" r="0.72" fill="#000" stroke="none" stroke-width="0.8"/>
<circle cx="376.01" cy="201.75" r="0.72" fill="#000" stroke="none" stroke-width="0.8"/>
<circle cx="375.30" cy="205.41" r="0.72" fill="#000" stroke="none" stroke-width="0.8"/>
<rect x="380.33" y="185.10" width="5.90" height="27.40" fill="#e0553a" stroke="#2a2a2a" stroke-width="0.55"/>
<circle cx="382.95" cy="181.46" r="0.72" fill="#000" stroke="none" stroke-width="0.8"/>
<circle cx="383.55" cy="188.99" r="0.72" fill="#000" stroke="none" stroke-width="0.8"/>
<circle cx="383.47" cy="197.43" r="0.72" fill="#000" stroke="none" stroke-width="0.8"/>
<rect x="387.96" y="190.80" width="5.90" height="21.70" fill="#f07a5c" stroke="#2a2a2a" stroke-width="0.55"/>
<circle cx="391.05" cy="187.73" r="0.72" fill="#000" stroke="none" stroke-width="0.8"/>
<circle cx="390.76" cy="194.00" r="0.72" fill="#000" stroke="none" stroke-width="0.8"/>
<circle cx="390.99" cy="200.56" r="0.72" fill="#000" stroke="none" stroke-width="0.8"/>
<rect x="395.59" y="196.40" width="5.90" height="16.10" fill="#e0603e" stroke="#2a2a2a" stroke-width="0.55"/>
<circle cx="398.63" cy="193.89" r="0.72" fill="#000" stroke="none" stroke-width="0.8"/>
<circle cx="398.60" cy="198.93" r="0.72" fill="#000" stroke="none" stroke-width="0.8"/>
<circle cx="398.27" cy="203.65" r="0.72" fill="#000" stroke="none" stroke-width="0.8"/>
<rect x="403.22" y="186.30" width="5.90" height="26.20" fill="#dc4e30" stroke="#2a2a2a" stroke-width="0.55"/>
<circle cx="406.11" cy="182.78" r="0.72" fill="#000" stroke="none" stroke-width="0.8"/>
<circle cx="406.08" cy="190.04" r="0.72" fill="#000" stroke="none" stroke-width="0.8"/>
<circle cx="406.35" cy="198.09" r="0.72" fill="#000" stroke="none" stroke-width="0.8"/>
<rect x="410.85" y="196.20" width="5.90" height="16.30" fill="#d0482a" stroke="#2a2a2a" stroke-width="0.55"/>
<circle cx="414.20" cy="193.67" r="0.72" fill="#000" stroke="none" stroke-width="0.8"/>
<circle cx="414.16" cy="198.76" r="0.72" fill="#000" stroke="none" stroke-width="0.8"/>
<circle cx="413.84" cy="203.53" r="0.72" fill="#000" stroke="none" stroke-width="0.8"/>
<rect x="418.48" y="201.90" width="5.90" height="10.60" fill="#c03a1e" stroke="#2a2a2a" stroke-width="0.55"/>
<circle cx="421.39" cy="199.94" r="0.72" fill="#000" stroke="none" stroke-width="0.8"/>
<circle cx="421.24" cy="203.77" r="0.72" fill="#000" stroke="none" stroke-width="0.8"/>
<circle cx="421.06" cy="206.67" r="0.72" fill="#000" stroke="none" stroke-width="0.8"/>
<rect x="426.11" y="209.20" width="5.90" height="3.30" fill="#b8341a" stroke="#2a2a2a" stroke-width="0.55"/>
<circle cx="428.68" cy="207.97" r="0.72" fill="#000" stroke="none" stroke-width="0.8"/>
<circle cx="429.03" cy="210.20" r="0.72" fill="#000" stroke="none" stroke-width="0.8"/>
<circle cx="428.91" cy="210.69" r="0.72" fill="#000" stroke="none" stroke-width="0.8"/>
<rect x="433.74" y="200.20" width="5.90" height="12.30" fill="#9c4fad" stroke="#2a2a2a" stroke-width="0.55"/>
<circle cx="436.59" cy="198.07" r="0.72" fill="#000" stroke="none" stroke-width="0.8"/>
<circle cx="437.00" cy="202.28" r="0.72" fill="#000" stroke="none" stroke-width="0.8"/>
<circle cx="436.71" cy="205.73" r="0.72" fill="#000" stroke="none" stroke-width="0.8"/>
<rect x="441.37" y="208.70" width="5.90" height="3.80" fill="#6a2080" stroke="#2a2a2a" stroke-width="0.55"/>
<circle cx="444.37" cy="207.42" r="0.72" fill="#000" stroke="none" stroke-width="0.8"/>
<circle cx="444.11" cy="209.76" r="0.72" fill="#000" stroke="none" stroke-width="0.8"/>
<circle cx="443.94" cy="210.41" r="0.72" fill="#000" stroke="none" stroke-width="0.8"/>
<rect x="449.00" y="187.20" width="5.90" height="25.30" fill="#7a78c0" stroke="#2a2a2a" stroke-width="0.55"/>
<circle cx="451.81" cy="183.77" r="0.72" fill="#000" stroke="none" stroke-width="0.8"/>
<circle cx="451.66" cy="190.84" r="0.72" fill="#000" stroke="none" stroke-width="0.8"/>
<circle cx="451.96" cy="198.58" r="0.72" fill="#000" stroke="none" stroke-width="0.8"/>
<rect x="456.63" y="209.00" width="5.90" height="3.50" fill="#6a5aac" stroke="#2a2a2a" stroke-width="0.55"/>
<circle cx="459.98" cy="207.75" r="0.72" fill="#000" stroke="none" stroke-width="0.8"/>
<circle cx="459.72" cy="210.02" r="0.72" fill="#000" stroke="none" stroke-width="0.8"/>
<circle cx="459.33" cy="210.57" r="0.72" fill="#000" stroke="none" stroke-width="0.8"/>
<rect x="464.26" y="211.80" width="5.90" height="0.70" fill="#4b3cb0" stroke="#2a2a2a" stroke-width="0.55"/>
<circle cx="467.52" cy="211.50" r="0.72" fill="#000" stroke="none" stroke-width="0.8"/>
<circle cx="467.45" cy="212.00" r="0.72" fill="#000" stroke="none" stroke-width="0.8"/>
<rect x="471.89" y="208.20" width="5.90" height="4.30" fill="#a6761d" stroke="#2a2a2a" stroke-width="0.55"/>
<circle cx="475.03" cy="206.87" r="0.72" fill="#000" stroke="none" stroke-width="0.8"/>
<circle cx="475.17" cy="209.32" r="0.72" fill="#000" stroke="none" stroke-width="0.8"/>
<circle cx="475.05" cy="210.13" r="0.72" fill="#000" stroke="none" stroke-width="0.8"/>
<rect x="479.52" y="211.80" width="5.90" height="0.70" fill="#8f4a4a" stroke="#2a2a2a" stroke-width="0.55"/>
<circle cx="482.70" cy="211.50" r="0.72" fill="#000" stroke="none" stroke-width="0.8"/>
<circle cx="482.35" cy="212.00" r="0.72" fill="#000" stroke="none" stroke-width="0.8"/>
<rect x="487.15" y="211.80" width="5.90" height="0.70" fill="#e6ab02" stroke="#2a2a2a" stroke-width="0.55"/>
<circle cx="490.48" cy="211.50" r="0.72" fill="#000" stroke="none" stroke-width="0.8"/>
<circle cx="490.47" cy="212.00" r="0.72" fill="#000" stroke="none" stroke-width="0.8"/>
<rect x="494.78" y="209.70" width="5.90" height="2.80" fill="#666666" stroke="#2a2a2a" stroke-width="0.55"/>
<circle cx="497.46" cy="208.52" r="0.72" fill="#000" stroke="none" stroke-width="0.8"/>
<circle cx="497.93" cy="210.64" r="0.72" fill="#000" stroke="none" stroke-width="0.8"/>
<circle cx="497.90" cy="210.96" r="0.72" fill="#000" stroke="none" stroke-width="0.8"/>
<rect x="502.41" y="207.20" width="5.90" height="5.30" fill="#e7298a" stroke="#2a2a2a" stroke-width="0.55"/>
<circle cx="505.33" cy="205.77" r="0.72" fill="#000" stroke="none" stroke-width="0.8"/>
<circle cx="505.38" cy="208.44" r="0.72" fill="#000" stroke="none" stroke-width="0.8"/>
<circle cx="505.35" cy="209.58" r="0.72" fill="#000" stroke="none" stroke-width="0.8"/>
<rect x="510.04" y="209.70" width="5.90" height="2.80" fill="#66a61e" stroke="#2a2a2a" stroke-width="0.55"/>
<circle cx="513.33" cy="208.52" r="0.72" fill="#000" stroke="none" stroke-width="0.8"/>
<circle cx="512.99" cy="210.64" r="0.72" fill="#000" stroke="none" stroke-width="0.8"/>
<circle cx="513.26" cy="210.96" r="0.72" fill="#000" stroke="none" stroke-width="0.8"/>
<rect x="517.67" y="206.50" width="5.90" height="6.00" fill="#2a7ab8" stroke="#2a2a2a" stroke-width="0.55"/>
<circle cx="520.50" cy="205.00" r="0.72" fill="#000" stroke="none" stroke-width="0.8"/>
<circle cx="520.93" cy="207.82" r="0.72" fill="#000" stroke="none" stroke-width="0.8"/>
<circle cx="520.94" cy="209.20" r="0.72" fill="#000" stroke="none" stroke-width="0.8"/>
<line x1="206.60" y1="173.40" x2="206.60" y2="212.60" stroke="#2a2a2a" stroke-width="0.9"/>
<line x1="204.50" y1="173.40" x2="206.60" y2="173.40" stroke="#2a2a2a" stroke-width="0.9"/>
<line x1="204.50" y1="193.00" x2="206.60" y2="193.00" stroke="#2a2a2a" stroke-width="0.9"/>
<line x1="204.50" y1="212.60" x2="206.60" y2="212.60" stroke="#2a2a2a" stroke-width="0.9"/>
<text x="202.80" y="176.90" font-size="9.6" text-anchor="end" fill="#1a1a1a">20</text>
<text x="202.80" y="216.10" font-size="9.6" text-anchor="end" fill="#1a1a1a">0</text>
<text x="189.40" y="198.20" font-size="9.6" text-anchor="middle" fill="#1a1a1a">%</text>
<path d="M210.50,219.8 L210.50,218.2 L361.20,218.2 L361.20,219.8" fill="none" stroke="#2a2a2a" stroke-width="0.9"/>
<path d="M372.40,219.8 L372.40,218.2 L523.10,218.2 L523.10,219.8" fill="none" stroke="#2a2a2a" stroke-width="0.9"/>
<text x="286.50" y="228.50" font-size="8.2" text-anchor="middle" font-style="italic" fill="#1a1a1a">total bone marrow</text>
<text x="448.30" y="228.70" font-size="8.2" text-anchor="middle" font-style="italic" fill="#1a1a1a">depleted bone marrow</text>
<circle cx="561.80" cy="170.20" r="3.30" fill="#1e9a78" stroke="none" stroke-width="0.8"/>
<text x="567.40" y="172.80" font-size="7.35" text-anchor="start" fill="#1a1a1a">HSPCs</text>
<circle cx="561.80" cy="178.60" r="3.30" fill="#9c4fad" stroke="none" stroke-width="0.8"/>
<text x="567.40" y="181.20" font-size="7.35" text-anchor="start" fill="#1a1a1a">Monoblasts</text>
<circle cx="561.80" cy="187.00" r="3.30" fill="#6a2080" stroke="none" stroke-width="0.8"/>
<text x="567.40" y="189.60" font-size="7.35" text-anchor="start" fill="#1a1a1a">Monocytes</text>
<circle cx="561.80" cy="195.40" r="3.30" fill="#7a78c0" stroke="none" stroke-width="0.8"/>
<text x="567.40" y="198.00" font-size="7.35" text-anchor="start" fill="#1a1a1a">Myeloblasts</text>
<circle cx="561.80" cy="203.80" r="3.30" fill="#6a5aac" stroke="none" stroke-width="0.8"/>
<text x="567.40" y="206.40" font-size="7.35" text-anchor="start" fill="#1a1a1a">Myelocytes</text>
<circle cx="561.80" cy="212.20" r="3.30" fill="#4b3cb0" stroke="none" stroke-width="0.8"/>
<text x="567.40" y="214.80" font-size="7.35" text-anchor="start" fill="#1a1a1a">Neutrophils</text>
<circle cx="561.80" cy="220.60" r="3.30" fill="#2a7ab8" stroke="none" stroke-width="0.8"/>
<text x="567.40" y="223.20" font-size="7.35" text-anchor="start" fill="#1a1a1a">Basophils</text>
<circle cx="619.50" cy="170.20" r="3.30" fill="#66a61e" stroke="none" stroke-width="0.8"/>
<text x="625.20" y="172.80" font-size="7.35" text-anchor="start" fill="#1a1a1a">Megakaryocytes</text>
<circle cx="619.50" cy="178.60" r="3.30" fill="#e05a3a" stroke="none" stroke-width="0.8"/>
<text x="625.20" y="181.20" font-size="7.35" text-anchor="start" fill="#1a1a1a">Erythroblasts</text>
<circle cx="619.50" cy="187.00" r="3.30" fill="#a6761d" stroke="none" stroke-width="0.8"/>
<text x="625.20" y="189.60" font-size="7.35" text-anchor="start" fill="#1a1a1a">Pro-B lymph.</text>
<circle cx="619.50" cy="195.40" r="3.30" fill="#8f4a4a" stroke="none" stroke-width="0.8"/>
<text x="625.20" y="198.00" font-size="7.35" text-anchor="start" fill="#1a1a1a">Pre-B lymph.</text>
<circle cx="619.50" cy="203.80" r="3.30" fill="#e6ab02" stroke="none" stroke-width="0.8"/>
<text x="625.20" y="206.40" font-size="7.35" text-anchor="start" fill="#1a1a1a">T-lymphocytes</text>
<circle cx="619.50" cy="212.20" r="3.30" fill="#666666" stroke="none" stroke-width="0.8"/>
<text x="625.20" y="214.80" font-size="7.35" text-anchor="start" fill="#1a1a1a">Endothelial cells</text>
<circle cx="619.50" cy="220.60" r="3.30" fill="#e7298a" stroke="none" stroke-width="0.8"/>
<text x="625.20" y="223.20" font-size="7.35" text-anchor="start" fill="#1a1a1a">Pericytes</text>
<line x1="609.90" y1="75.70" x2="617.40" y2="40.60" stroke="#111" stroke-width="0.85"/>
<line x1="609.90" y1="75.70" x2="618.00" y2="58.70" stroke="#111" stroke-width="0.85"/>
<line x1="609.90" y1="75.70" x2="621.80" y2="70.20" stroke="#111" stroke-width="0.85"/>
<line x1="609.90" y1="75.70" x2="636.10" y2="88.90" stroke="#111" stroke-width="0.85"/>
<line x1="609.90" y1="75.70" x2="608.90" y2="90.40" stroke="#111" stroke-width="0.85"/>
<line x1="609.90" y1="75.70" x2="580.10" y2="89.80" stroke="#111" stroke-width="0.85"/>
<line x1="609.90" y1="75.70" x2="589.30" y2="67.70" stroke="#111" stroke-width="0.85"/>
<line x1="589.30" y1="67.70" x2="587.80" y2="51.90" stroke="#111" stroke-width="0.85"/>
<line x1="580.10" y1="89.80" x2="596.70" y2="109.80" stroke="#111" stroke-width="0.85"/>
<line x1="596.70" y1="109.80" x2="612.70" y2="117.90" stroke="#111" stroke-width="0.85"/>
<line x1="609.90" y1="48.70" x2="617.40" y2="40.60" stroke="#111" stroke-width="0.85"/>
<circle cx="617.40" cy="40.60" r="3.10" fill="#a6761d" stroke="#222" stroke-width="0.6"/>
<circle cx="609.90" cy="48.70" r="3.10" fill="#8f4a4a" stroke="#222" stroke-width="0.6"/>
<circle cx="587.80" cy="51.90" r="3.10" fill="#6a2080" stroke="#222" stroke-width="0.6"/>
<circle cx="618.00" cy="58.70" r="3.10" fill="#e6ab02" stroke="#222" stroke-width="0.6"/>
<circle cx="589.30" cy="67.70" r="3.10" fill="#9c4fad" stroke="#222" stroke-width="0.6"/>
<circle cx="621.80" cy="70.20" r="3.10" fill="#66a61e" stroke="#222" stroke-width="0.6"/>
<circle cx="609.90" cy="75.70" r="3.10" fill="#1e9a78" stroke="#222" stroke-width="0.6"/>
<circle cx="636.10" cy="88.90" r="3.10" fill="#e05a3a" stroke="#222" stroke-width="0.6"/>
<circle cx="608.90" cy="90.40" r="3.10" fill="#2a7ab8" stroke="#222" stroke-width="0.6"/>
<circle cx="580.10" cy="89.80" r="3.10" fill="#7a78c0" stroke="#222" stroke-width="0.6"/>
<circle cx="596.70" cy="109.80" r="3.10" fill="#6a5aac" stroke="#222" stroke-width="0.6"/>
<circle cx="612.70" cy="117.90" r="3.10" fill="#4b3cb0" stroke="#222" stroke-width="0.6"/>
<circle cx="639.90" cy="116.80" r="3.10" fill="#666666" stroke="#222" stroke-width="0.6"/>
<circle cx="652.50" cy="118.50" r="3.10" fill="#e7298a" stroke="#222" stroke-width="0.6"/>
<line x1="582.60" y1="6.40" x2="604.30" y2="6.40" stroke="#333" stroke-width="0.9"/>
<text x="611.30" y="8.90" font-size="7.4" text-anchor="start" fill="#222">unit distance <tspan font-family="Liberation Serif" font-size="8">d</tspan></text>
<path d="M68.58,251.38 L70.04,251.64 L70.35,254.05 L71.71,256.77 L75.06,260.88 L77.73,262.91 L81.08,264.99 L83.38,266.33 L84.42,269.05 L87.72,271.77 L90.39,274.50 L91.33,277.43 L90.81,283.09 L91.54,286.78 L90.07,289.72 L88.24,291.96 L84.27,293.83 L80.66,295.27 L77.05,294.90 L72.71,294.15 L68.37,294.15 L64.76,292.71 L62.56,290.46 L61.83,288.27 L64.76,286.78 L66.90,283.84 L67.63,281.23 L69.10,280.16 L68.73,277.17 L71.24,276.42 L74.38,276.47 L76.37,274.50 L75.74,271.08 L73.96,269.05 L73.54,264.99 L70.56,260.88 L69.10,256.77 L68.21,253.73Z" fill="#d3d3d3" stroke="#d3d3d3" stroke-width="2.09" stroke-linejoin="round"/>
<path d="M41.48,266.06 L43.15,266.27 L43.68,267.77 L44.83,269.48 L45.82,270.49 L47.50,271.51 L49.07,272.84 L49.17,274.23 L47.50,274.23 L46.19,273.32 L44.83,272.52 L43.83,271.83 L43.52,273.54 L42.47,274.23 L40.49,274.44 L39.70,273.22 L39.96,271.19 L40.38,269.10 L40.85,267.07Z" fill="#d3d3d3" stroke="#d3d3d3" stroke-width="2.09" stroke-linejoin="round"/>
<path d="M39.81,274.23 L42.47,273.54 L45.82,274.23 L48.86,274.92 L49.85,276.63 L50.53,278.66 L49.54,280.05 L47.86,280.69 L45.82,281.07 L43.83,280.69 L41.85,280.69 L40.85,280.05 L40.49,277.97 L39.18,276.26Z" fill="#d3d3d3" stroke="#d3d3d3" stroke-width="2.09" stroke-linejoin="round"/>
<path d="M39.55,281.07 L41.64,280.80 L43.99,281.17 L46.35,281.49 L48.18,282.77 L48.44,285.18 L47.76,286.24 L45.35,289.13 L43.78,292.23 L44.72,293.51 L44.10,294.73 L43.52,297.24 L44.41,299.11 L41.64,299.11 L39.81,297.24 L37.40,294.73 L35.52,292.87 L35.26,290.36 L36.15,287.26 L37.98,285.34 L39.02,283.04Z" fill="#d3d3d3" stroke="#d3d3d3" stroke-width="2.09" stroke-linejoin="round"/>
<path d="M47.18,295.38 L49.07,295.64 L50.22,297.24 L50.84,299.11 L51.84,300.93 L50.79,304.13 L49.01,304.08 L47.18,301.62 L45.93,299.11 L45.61,296.60Z" fill="#d3d3d3" stroke="#d3d3d3" stroke-width="2.09" stroke-linejoin="round"/>
<path d="M50.84,299.11 L52.67,300.34 L56.96,302.21 L60.00,303.81 L60.62,305.95 L59.42,307.55 L56.96,307.23 L53.88,306.27 L50.84,305.36 L49.01,304.08 L49.75,302.00Z" fill="#d3d3d3" stroke="#d3d3d3" stroke-width="2.09" stroke-linejoin="round"/>
<path d="M52.05,286.62 L55.71,287.26 L55.24,290.25 L54.50,293.51 L53.62,293.19 L52.62,290.25Z" fill="#d3d3d3" stroke="#d3d3d3" stroke-width="2.09" stroke-linejoin="round"/>
<path d="M53.72,277.17 L54.87,277.65 L55.50,279.36 L56.86,280.69 L58.53,281.28 L59.53,282.08 L58.85,283.09 L57.85,283.57 L59.21,284.48 L60.89,285.50 L60.52,286.30 L59.21,285.82 L57.54,284.80 L55.86,284.48 L54.87,284.80 L55.24,286.24 L55.76,287.85 L53.93,288.38 L52.52,287.05 L51.84,285.12 L52.52,284.11 L51.16,283.79 L49.85,283.57 L48.39,283.41 L48.49,282.61 L50.16,282.08 L51.84,281.39 L52.83,280.05 L53.20,278.34Z" fill="#d3d3d3" stroke="#d3d3d3" stroke-width="2.09" stroke-linejoin="round"/>
<path d="M56.54,273.54 L57.54,272.52 L60.52,271.83 L61.20,272.84 L59.16,273.43 L57.17,274.23Z" fill="#d3d3d3" stroke="#d3d3d3" stroke-width="2.09" stroke-linejoin="round"/>
<path d="M55.50,258.90 L56.86,259.23 L57.85,261.63 L59.84,263.66 L61.51,265.37 L62.19,267.40 L61.51,268.41 L59.84,267.07 L57.85,265.05 L56.18,263.34 L55.18,261.25Z" fill="#d3d3d3" stroke="#d3d3d3" stroke-width="2.09" stroke-linejoin="round"/>
<path d="M58.85,280.69 L62.51,277.65" fill="none" stroke="#d3d3d3" stroke-width="2.62" stroke-linecap="round" stroke-linejoin="round"/>
<path d="M73.81,303.01 L75.95,303.39 L77.41,304.51 L78.15,306.00 L78.62,307.44" fill="none" stroke="#d3d3d3" stroke-width="2.62" stroke-linecap="round" stroke-linejoin="round"/>
<ellipse cx="54.19" cy="267.40" rx="1.57" ry="1.46" fill="#d3d3d3"/>
<ellipse cx="70.14" cy="303.76" rx="1.46" ry="1.05" fill="#d3d3d3"/>
<path d="M53.72,277.17 L54.87,277.65 L55.50,279.36 L56.86,280.69 L58.53,281.28 L59.53,282.08 L58.85,283.09 L57.85,283.57 L59.21,284.48 L60.89,285.50 L60.52,286.30 L59.21,285.82 L57.54,284.80 L55.86,284.48 L54.87,284.80 L55.24,286.24 L55.76,287.85 L53.93,288.38 L52.52,287.05 L51.84,285.12 L52.52,284.11 L51.16,283.79 L49.85,283.57 L48.39,283.41 L48.49,282.61 L50.16,282.08 L51.84,281.39 L52.83,280.05 L53.20,278.34Z" fill="url(#fbm)" stroke="url(#fbm)" stroke-width="1.6" stroke-linejoin="round"/>
<path d="M39.81,274.23 L42.47,273.54 L45.82,274.23 L48.86,274.92 L49.85,276.63 L50.53,278.66 L49.54,280.05 L47.86,280.69 L45.82,281.07 L43.83,280.69 L41.85,280.69 L40.85,280.05 L40.49,277.97 L39.18,276.26Z" fill="url(#fbs)" stroke="url(#fbs)" stroke-width="1.6" stroke-linejoin="round"/>
<rect x="33.40" y="249.60" width="59.90" height="59.60" fill="none" stroke="#333" stroke-width="0.8"/>
<line x1="44.64" y1="309.20" x2="44.64" y2="311.00" stroke="#2a2a2a" stroke-width="0.8"/>
<line x1="64.60" y1="309.20" x2="64.60" y2="311.00" stroke="#2a2a2a" stroke-width="0.8"/>
<line x1="84.56" y1="309.20" x2="84.56" y2="311.00" stroke="#2a2a2a" stroke-width="0.8"/>
<line x1="31.60" y1="264.80" x2="33.40" y2="264.80" stroke="#2a2a2a" stroke-width="0.8"/>
<text x="31.20" y="267.40" font-size="7.2" text-anchor="end" fill="#1a1a1a">40</text>
<line x1="31.60" y1="282.40" x2="33.40" y2="282.40" stroke="#2a2a2a" stroke-width="0.8"/>
<text x="31.20" y="285.00" font-size="7.2" text-anchor="end" fill="#1a1a1a">0</text>
<line x1="31.60" y1="300.00" x2="33.40" y2="300.00" stroke="#2a2a2a" stroke-width="0.8"/>
<text x="31.20" y="302.60" font-size="7.2" text-anchor="end" fill="#1a1a1a">-40</text>
<text x="35.80" y="258.20" font-size="7.6" text-anchor="start" font-weight="bold" fill="#000">Cd34</text>
<text x="16.60" y="279.40" font-size="7.2" text-anchor="middle" fill="#1a1a1a" transform="rotate(-90 16.60 279.40)">Dimension 2</text>
<path d="M138.68,251.38 L140.14,251.64 L140.45,254.05 L141.81,256.77 L145.16,260.88 L147.83,262.91 L151.18,264.99 L153.48,266.33 L154.52,269.05 L157.82,271.77 L160.49,274.50 L161.43,277.43 L160.91,283.09 L161.64,286.78 L160.17,289.72 L158.34,291.96 L154.37,293.83 L150.76,295.27 L147.15,294.90 L142.81,294.15 L138.47,294.15 L134.86,292.71 L132.66,290.46 L131.93,288.27 L134.86,286.78 L137.00,283.84 L137.73,281.23 L139.20,280.16 L138.83,277.17 L141.34,276.42 L144.48,276.47 L146.47,274.50 L145.84,271.08 L144.06,269.05 L143.64,264.99 L140.66,260.88 L139.20,256.77 L138.31,253.73Z" fill="#d3d3d3" stroke="#d3d3d3" stroke-width="2.09" stroke-linejoin="round"/>
<path d="M111.58,266.06 L113.25,266.27 L113.78,267.77 L114.93,269.48 L115.92,270.49 L117.60,271.51 L119.17,272.84 L119.27,274.23 L117.60,274.23 L116.29,273.32 L114.93,272.52 L113.93,271.83 L113.62,273.54 L112.57,274.23 L110.59,274.44 L109.80,273.22 L110.06,271.19 L110.48,269.10 L110.95,267.07Z" fill="#d3d3d3" stroke="#d3d3d3" stroke-width="2.09" stroke-linejoin="round"/>
<path d="M109.91,274.23 L112.57,273.54 L115.92,274.23 L118.96,274.92 L119.95,276.63 L120.63,278.66 L119.64,280.05 L117.96,280.69 L115.92,281.07 L113.93,280.69 L111.95,280.69 L110.95,280.05 L110.59,277.97 L109.28,276.26Z" fill="#d3d3d3" stroke="#d3d3d3" stroke-width="2.09" stroke-linejoin="round"/>
<path d="M109.65,281.07 L111.74,280.80 L114.09,281.17 L116.45,281.49 L118.28,282.77 L118.54,285.18 L117.86,286.24 L115.45,289.13 L113.88,292.23 L114.82,293.51 L114.20,294.73 L113.62,297.24 L114.51,299.11 L111.74,299.11 L109.91,297.24 L107.50,294.73 L105.62,292.87 L105.36,290.36 L106.25,287.26 L108.08,285.34 L109.12,283.04Z" fill="#d3d3d3" stroke="#d3d3d3" stroke-width="2.09" stroke-linejoin="round"/>
<path d="M117.28,295.38 L119.17,295.64 L120.32,297.24 L120.94,299.11 L121.94,300.93 L120.89,304.13 L119.11,304.08 L117.28,301.62 L116.03,299.11 L115.71,296.60Z" fill="#d3d3d3" stroke="#d3d3d3" stroke-width="2.09" stroke-linejoin="round"/>
<path d="M120.94,299.11 L122.77,300.34 L127.06,302.21 L130.10,303.81 L130.72,305.95 L129.52,307.55 L127.06,307.23 L123.98,306.27 L120.94,305.36 L119.11,304.08 L119.85,302.00Z" fill="#d3d3d3" stroke="#d3d3d3" stroke-width="2.09" stroke-linejoin="round"/>
<path d="M122.15,286.62 L125.81,287.26 L125.34,290.25 L124.60,293.51 L123.72,293.19 L122.72,290.25Z" fill="#d3d3d3" stroke="#d3d3d3" stroke-width="2.09" stroke-linejoin="round"/>
<path d="M123.82,277.17 L124.97,277.65 L125.60,279.36 L126.96,280.69 L128.63,281.28 L129.63,282.08 L128.95,283.09 L127.95,283.57 L129.31,284.48 L130.99,285.50 L130.62,286.30 L129.31,285.82 L127.64,284.80 L125.96,284.48 L124.97,284.80 L125.34,286.24 L125.86,287.85 L124.03,288.38 L122.62,287.05 L121.94,285.12 L122.62,284.11 L121.26,283.79 L119.95,283.57 L118.49,283.41 L118.59,282.61 L120.26,282.08 L121.94,281.39 L122.93,280.05 L123.30,278.34Z" fill="#d3d3d3" stroke="#d3d3d3" stroke-width="2.09" stroke-linejoin="round"/>
<path d="M126.64,273.54 L127.64,272.52 L130.62,271.83 L131.30,272.84 L129.26,273.43 L127.27,274.23Z" fill="#d3d3d3" stroke="#d3d3d3" stroke-width="2.09" stroke-linejoin="round"/>
<path d="M125.60,258.90 L126.96,259.23 L127.95,261.63 L129.94,263.66 L131.61,265.37 L132.29,267.40 L131.61,268.41 L129.94,267.07 L127.95,265.05 L126.28,263.34 L125.28,261.25Z" fill="#d3d3d3" stroke="#d3d3d3" stroke-width="2.09" stroke-linejoin="round"/>
<path d="M128.95,280.69 L132.61,277.65" fill="none" stroke="#d3d3d3" stroke-width="2.62" stroke-linecap="round" stroke-linejoin="round"/>
<path d="M143.91,303.01 L146.05,303.39 L147.51,304.51 L148.25,306.00 L148.72,307.44" fill="none" stroke="#d3d3d3" stroke-width="2.62" stroke-linecap="round" stroke-linejoin="round"/>
<ellipse cx="124.29" cy="267.40" rx="1.57" ry="1.46" fill="#d3d3d3"/>
<ellipse cx="140.24" cy="303.76" rx="1.46" ry="1.05" fill="#d3d3d3"/>
<rect x="103.50" y="249.60" width="59.90" height="59.60" fill="none" stroke="#333" stroke-width="0.8"/>
<line x1="114.74" y1="309.20" x2="114.74" y2="311.00" stroke="#2a2a2a" stroke-width="0.8"/>
<line x1="134.70" y1="309.20" x2="134.70" y2="311.00" stroke="#2a2a2a" stroke-width="0.8"/>
<line x1="154.66" y1="309.20" x2="154.66" y2="311.00" stroke="#2a2a2a" stroke-width="0.8"/>
<line x1="101.70" y1="264.80" x2="103.50" y2="264.80" stroke="#2a2a2a" stroke-width="0.8"/>
<line x1="101.70" y1="282.40" x2="103.50" y2="282.40" stroke="#2a2a2a" stroke-width="0.8"/>
<line x1="101.70" y1="300.00" x2="103.50" y2="300.00" stroke="#2a2a2a" stroke-width="0.8"/>
<text x="105.90" y="258.20" font-size="7.6" text-anchor="start" font-weight="bold" fill="#000">Kitl</text>
<path d="M68.58,324.78 L70.04,325.04 L70.35,327.45 L71.71,330.17 L75.06,334.28 L77.73,336.31 L81.08,338.39 L83.38,339.73 L84.42,342.45 L87.72,345.17 L90.39,347.90 L91.33,350.83 L90.81,356.49 L91.54,360.18 L90.07,363.12 L88.24,365.36 L84.27,367.23 L80.66,368.67 L77.05,368.30 L72.71,367.55 L68.37,367.55 L64.76,366.11 L62.56,363.86 L61.83,361.67 L64.76,360.18 L66.90,357.24 L67.63,354.63 L69.10,353.56 L68.73,350.57 L71.24,349.82 L74.38,349.87 L76.37,347.90 L75.74,344.48 L73.96,342.45 L73.54,338.39 L70.56,334.28 L69.10,330.17 L68.21,327.13Z" fill="#d3d3d3" stroke="#d3d3d3" stroke-width="2.09" stroke-linejoin="round"/>
<path d="M41.48,339.46 L43.15,339.67 L43.68,341.17 L44.83,342.88 L45.82,343.89 L47.50,344.91 L49.07,346.24 L49.17,347.63 L47.50,347.63 L46.19,346.72 L44.83,345.92 L43.83,345.23 L43.52,346.94 L42.47,347.63 L40.49,347.84 L39.70,346.62 L39.96,344.59 L40.38,342.50 L40.85,340.47Z" fill="#d3d3d3" stroke="#d3d3d3" stroke-width="2.09" stroke-linejoin="round"/>
<path d="M39.81,347.63 L42.47,346.94 L45.82,347.63 L48.86,348.32 L49.85,350.03 L50.53,352.06 L49.54,353.45 L47.86,354.09 L45.82,354.47 L43.83,354.09 L41.85,354.09 L40.85,353.45 L40.49,351.37 L39.18,349.66Z" fill="#d3d3d3" stroke="#d3d3d3" stroke-width="2.09" stroke-linejoin="round"/>
<path d="M39.55,354.47 L41.64,354.20 L43.99,354.57 L46.35,354.89 L48.18,356.17 L48.44,358.58 L47.76,359.64 L45.35,362.53 L43.78,365.63 L44.72,366.91 L44.10,368.13 L43.52,370.64 L44.41,372.51 L41.64,372.51 L39.81,370.64 L37.40,368.13 L35.52,366.27 L35.26,363.76 L36.15,360.66 L37.98,358.74 L39.02,356.44Z" fill="#d3d3d3" stroke="#d3d3d3" stroke-width="2.09" stroke-linejoin="round"/>
<path d="M47.18,368.78 L49.07,369.04 L50.22,370.64 L50.84,372.51 L51.84,374.33 L50.79,377.53 L49.01,377.48 L47.18,375.02 L45.93,372.51 L45.61,370.00Z" fill="#d3d3d3" stroke="#d3d3d3" stroke-width="2.09" stroke-linejoin="round"/>
<path d="M50.84,372.51 L52.67,373.74 L56.96,375.61 L60.00,377.21 L60.62,379.35 L59.42,380.95 L56.96,380.63 L53.88,379.67 L50.84,378.76 L49.01,377.48 L49.75,375.40Z" fill="#d3d3d3" stroke="#d3d3d3" stroke-width="2.09" stroke-linejoin="round"/>
<path d="M52.05,360.02 L55.71,360.66 L55.24,363.65 L54.50,366.91 L53.62,366.59 L52.62,363.65Z" fill="#d3d3d3" stroke="#d3d3d3" stroke-width="2.09" stroke-linejoin="round"/>
<path d="M53.72,350.57 L54.87,351.05 L55.50,352.76 L56.86,354.09 L58.53,354.68 L59.53,355.48 L58.85,356.49 L57.85,356.97 L59.21,357.88 L60.89,358.90 L60.52,359.70 L59.21,359.22 L57.54,358.20 L55.86,357.88 L54.87,358.20 L55.24,359.64 L55.76,361.25 L53.93,361.78 L52.52,360.45 L51.84,358.52 L52.52,357.51 L51.16,357.19 L49.85,356.97 L48.39,356.81 L48.49,356.01 L50.16,355.48 L51.84,354.79 L52.83,353.45 L53.20,351.74Z" fill="#d3d3d3" stroke="#d3d3d3" stroke-width="2.09" stroke-linejoin="round"/>
<path d="M56.54,346.94 L57.54,345.92 L60.52,345.23 L61.20,346.24 L59.16,346.83 L57.17,347.63Z" fill="#d3d3d3" stroke="#d3d3d3" stroke-width="2.09" stroke-linejoin="round"/>
<path d="M55.50,332.30 L56.86,332.63 L57.85,335.03 L59.84,337.06 L61.51,338.77 L62.19,340.80 L61.51,341.81 L59.84,340.47 L57.85,338.45 L56.18,336.74 L55.18,334.65Z" fill="#d3d3d3" stroke="#d3d3d3" stroke-width="2.09" stroke-linejoin="round"/>
<path d="M58.85,354.09 L62.51,351.05" fill="none" stroke="#d3d3d3" stroke-width="2.62" stroke-linecap="round" stroke-linejoin="round"/>
<path d="M73.81,376.41 L75.95,376.79 L77.41,377.91 L78.15,379.40 L78.62,380.84" fill="none" stroke="#d3d3d3" stroke-width="2.62" stroke-linecap="round" stroke-linejoin="round"/>
<ellipse cx="54.19" cy="340.80" rx="1.57" ry="1.46" fill="#d3d3d3"/>
<ellipse cx="70.14" cy="377.16" rx="1.46" ry="1.05" fill="#d3d3d3"/>
<path d="M41.48,339.46 L43.15,339.67 L43.68,341.17 L44.83,342.88 L45.82,343.89 L47.50,344.91 L49.07,346.24 L49.17,347.63 L47.50,347.63 L46.19,346.72 L44.83,345.92 L43.83,345.23 L43.52,346.94 L42.47,347.63 L40.49,347.84 L39.70,346.62 L39.96,344.59 L40.38,342.50 L40.85,340.47Z" fill="url(#fbs)" stroke="url(#fbs)" stroke-width="1.6" stroke-linejoin="round"/>
<path d="M39.81,347.63 L42.47,346.94 L45.82,347.63 L48.86,348.32 L49.85,350.03 L50.53,352.06 L49.54,353.45 L47.86,354.09 L45.82,354.47 L43.83,354.09 L41.85,354.09 L40.85,353.45 L40.49,351.37 L39.18,349.66Z" fill="url(#fbs)" stroke="url(#fbs)" stroke-width="1.6" stroke-linejoin="round"/>
<path d="M39.55,354.47 L41.64,354.20 L43.99,354.57 L46.35,354.89 L48.18,356.17 L48.44,358.58 L47.76,359.64 L45.35,362.53 L43.78,365.63 L44.72,366.91 L44.10,368.13 L43.52,370.64 L44.41,372.51 L41.64,372.51 L39.81,370.64 L37.40,368.13 L35.52,366.27 L35.26,363.76 L36.15,360.66 L37.98,358.74 L39.02,356.44Z" fill="url(#fbm)" stroke="url(#fbm)" stroke-width="1.6" stroke-linejoin="round"/>
<path d="M47.18,368.78 L49.07,369.04 L50.22,370.64 L50.84,372.51 L51.84,374.33 L50.79,377.53 L49.01,377.48 L47.18,375.02 L45.93,372.51 L45.61,370.00Z" fill="url(#fbm)" stroke="url(#fbm)" stroke-width="1.6" stroke-linejoin="round"/>
<path d="M50.84,372.51 L52.67,373.74 L56.96,375.61 L60.00,377.21 L60.62,379.35 L59.42,380.95 L56.96,380.63 L53.88,379.67 L50.84,378.76 L49.01,377.48 L49.75,375.40Z" fill="url(#fbm)" stroke="url(#fbm)" stroke-width="1.6" stroke-linejoin="round"/>
<path d="M53.72,350.57 L54.87,351.05 L55.50,352.76 L56.86,354.09 L58.53,354.68 L59.53,355.48 L58.85,356.49 L57.85,356.97 L59.21,357.88 L60.89,358.90 L60.52,359.70 L59.21,359.22 L57.54,358.20 L55.86,357.88 L54.87,358.20 L55.24,359.64 L55.76,361.25 L53.93,361.78 L52.52,360.45 L51.84,358.52 L52.52,357.51 L51.16,357.19 L49.85,356.97 L48.39,356.81 L48.49,356.01 L50.16,355.48 L51.84,354.79 L52.83,353.45 L53.20,351.74Z" fill="url(#fbl)" stroke="url(#fbl)" stroke-width="1.6" stroke-linejoin="round"/>
<path d="M52.05,360.02 L55.71,360.66 L55.24,363.65 L54.50,366.91 L53.62,366.59 L52.62,363.65Z" fill="url(#fbl)" stroke="url(#fbl)" stroke-width="1.6" stroke-linejoin="round"/>
<rect x="33.40" y="323.00" width="59.90" height="59.60" fill="none" stroke="#333" stroke-width="0.8"/>
<line x1="44.64" y1="382.60" x2="44.64" y2="384.40" stroke="#2a2a2a" stroke-width="0.8"/>
<line x1="64.60" y1="382.60" x2="64.60" y2="384.40" stroke="#2a2a2a" stroke-width="0.8"/>
<line x1="84.56" y1="382.60" x2="84.56" y2="384.40" stroke="#2a2a2a" stroke-width="0.8"/>
<line x1="31.60" y1="338.20" x2="33.40" y2="338.20" stroke="#2a2a2a" stroke-width="0.8"/>
<text x="31.20" y="340.80" font-size="7.2" text-anchor="end" fill="#1a1a1a">40</text>
<line x1="31.60" y1="355.80" x2="33.40" y2="355.80" stroke="#2a2a2a" stroke-width="0.8"/>
<text x="31.20" y="358.40" font-size="7.2" text-anchor="end" fill="#1a1a1a">0</text>
<line x1="31.60" y1="373.40" x2="33.40" y2="373.40" stroke="#2a2a2a" stroke-width="0.8"/>
<text x="31.20" y="376.00" font-size="7.2" text-anchor="end" fill="#1a1a1a">-40</text>
<text x="35.80" y="331.60" font-size="7.6" text-anchor="start" font-weight="bold" fill="#000">Spi1</text>
<text x="16.60" y="352.80" font-size="7.2" text-anchor="middle" fill="#1a1a1a" transform="rotate(-90 16.60 352.80)">Dimension 2</text>
<path d="M138.58,324.78 L140.04,325.04 L140.35,327.45 L141.71,330.17 L145.06,334.28 L147.73,336.31 L151.08,338.39 L153.38,339.73 L154.42,342.45 L157.72,345.17 L160.39,347.90 L161.33,350.83 L160.81,356.49 L161.54,360.18 L160.07,363.12 L158.24,365.36 L154.27,367.23 L150.66,368.67 L147.05,368.30 L142.71,367.55 L138.37,367.55 L134.76,366.11 L132.56,363.86 L131.83,361.67 L134.76,360.18 L136.90,357.24 L137.63,354.63 L139.10,353.56 L138.73,350.57 L141.24,349.82 L144.38,349.87 L146.37,347.90 L145.74,344.48 L143.96,342.45 L143.54,338.39 L140.56,334.28 L139.10,330.17 L138.21,327.13Z" fill="#d3d3d3" stroke="#d3d3d3" stroke-width="2.09" stroke-linejoin="round"/>
<path d="M111.48,339.46 L113.15,339.67 L113.68,341.17 L114.83,342.88 L115.82,343.89 L117.50,344.91 L119.07,346.24 L119.17,347.63 L117.50,347.63 L116.19,346.72 L114.83,345.92 L113.83,345.23 L113.52,346.94 L112.47,347.63 L110.49,347.84 L109.70,346.62 L109.96,344.59 L110.38,342.50 L110.85,340.47Z" fill="#d3d3d3" stroke="#d3d3d3" stroke-width="2.09" stroke-linejoin="round"/>
<path d="M109.81,347.63 L112.47,346.94 L115.82,347.63 L118.86,348.32 L119.85,350.03 L120.53,352.06 L119.54,353.45 L117.86,354.09 L115.82,354.47 L113.83,354.09 L111.85,354.09 L110.85,353.45 L110.49,351.37 L109.18,349.66Z" fill="#d3d3d3" stroke="#d3d3d3" stroke-width="2.09" stroke-linejoin="round"/>
<path d="M109.55,354.47 L111.64,354.20 L113.99,354.57 L116.35,354.89 L118.18,356.17 L118.44,358.58 L117.76,359.64 L115.35,362.53 L113.78,365.63 L114.72,366.91 L114.10,368.13 L113.52,370.64 L114.41,372.51 L111.64,372.51 L109.81,370.64 L107.40,368.13 L105.52,366.27 L105.26,363.76 L106.15,360.66 L107.98,358.74 L109.02,356.44Z" fill="#d3d3d3" stroke="#d3d3d3" stroke-width="2.09" stroke-linejoin="round"/>
<path d="M117.18,368.78 L119.07,369.04 L120.22,370.64 L120.84,372.51 L121.84,374.33 L120.79,377.53 L119.01,377.48 L117.18,375.02 L115.93,372.51 L115.61,370.00Z" fill="#d3d3d3" stroke="#d3d3d3" stroke-width="2.09" stroke-linejoin="round"/>
<path d="M120.84,372.51 L122.67,373.74 L126.96,375.61 L130.00,377.21 L130.62,379.35 L129.42,380.95 L126.96,380.63 L123.88,379.67 L120.84,378.76 L119.01,377.48 L119.75,375.40Z" fill="#d3d3d3" stroke="#d3d3d3" stroke-width="2.09" stroke-linejoin="round"/>
<path d="M122.05,360.02 L125.71,360.66 L125.24,363.65 L124.50,366.91 L123.62,366.59 L122.62,363.65Z" fill="#d3d3d3" stroke="#d3d3d3" stroke-width="2.09" stroke-linejoin="round"/>
<path d="M123.72,350.57 L124.87,351.05 L125.50,352.76 L126.86,354.09 L128.53,354.68 L129.53,355.48 L128.85,356.49 L127.85,356.97 L129.21,357.88 L130.89,358.90 L130.52,359.70 L129.21,359.22 L127.54,358.20 L125.86,357.88 L124.87,358.20 L125.24,359.64 L125.76,361.25 L123.93,361.78 L122.52,360.45 L121.84,358.52 L122.52,357.51 L121.16,357.19 L119.85,356.97 L118.39,356.81 L118.49,356.01 L120.16,355.48 L121.84,354.79 L122.83,353.45 L123.20,351.74Z" fill="#d3d3d3" stroke="#d3d3d3" stroke-width="2.09" stroke-linejoin="round"/>
<path d="M126.54,346.94 L127.54,345.92 L130.52,345.23 L131.20,346.24 L129.16,346.83 L127.17,347.63Z" fill="#d3d3d3" stroke="#d3d3d3" stroke-width="2.09" stroke-linejoin="round"/>
<path d="M125.50,332.30 L126.86,332.63 L127.85,335.03 L129.84,337.06 L131.51,338.77 L132.19,340.80 L131.51,341.81 L129.84,340.47 L127.85,338.45 L126.18,336.74 L125.18,334.65Z" fill="#d3d3d3" stroke="#d3d3d3" stroke-width="2.09" stroke-linejoin="round"/>
<path d="M128.85,354.09 L132.51,351.05" fill="none" stroke="#d3d3d3" stroke-width="2.62" stroke-linecap="round" stroke-linejoin="round"/>
<path d="M143.81,376.41 L145.95,376.79 L147.41,377.91 L148.15,379.40 L148.62,380.84" fill="none" stroke="#d3d3d3" stroke-width="2.62" stroke-linecap="round" stroke-linejoin="round"/>
<ellipse cx="124.19" cy="340.80" rx="1.57" ry="1.46" fill="#d3d3d3"/>
<ellipse cx="140.14" cy="377.16" rx="1.46" ry="1.05" fill="#d3d3d3"/>
<path d="M138.58,324.78 L140.04,325.04 L140.35,327.45 L141.71,330.17 L145.06,334.28 L147.73,336.31 L151.08,338.39 L153.38,339.73 L154.42,342.45 L157.72,345.17 L160.39,347.90 L161.33,350.83 L160.81,356.49 L161.54,360.18 L160.07,363.12 L158.24,365.36 L154.27,367.23 L150.66,368.67 L147.05,368.30 L142.71,367.55 L138.37,367.55 L134.76,366.11 L132.56,363.86 L131.83,361.67 L134.76,360.18 L136.90,357.24 L137.63,354.63 L139.10,353.56 L138.73,350.57 L141.24,349.82 L144.38,349.87 L146.37,347.90 L145.74,344.48 L143.96,342.45 L143.54,338.39 L140.56,334.28 L139.10,330.17 L138.21,327.13Z" fill="url(#fbs)" stroke="url(#fbs)" stroke-width="1.6" stroke-linejoin="round"/>
<path d="M146.37,347.90 L150.61,346.56 L154.42,342.45 L157.72,345.17 L160.39,347.90 L161.33,350.83 L160.81,356.49 L161.54,360.18 L160.07,363.12 L158.24,365.36 L154.27,367.23 L150.66,368.67 L147.05,368.30 L142.71,367.55 L138.37,367.55 L134.76,366.11 L132.56,363.86 L131.83,361.67 L134.76,360.18 L136.90,357.24 L137.63,354.63 L139.10,353.56 L138.73,350.57 L141.24,349.82 L144.38,349.87Z" fill="url(#fbd)" stroke="url(#fbd)" stroke-width="1.6" stroke-linejoin="round"/>
<rect x="103.40" y="323.00" width="59.90" height="59.60" fill="none" stroke="#333" stroke-width="0.8"/>
<line x1="114.64" y1="382.60" x2="114.64" y2="384.40" stroke="#2a2a2a" stroke-width="0.8"/>
<line x1="134.60" y1="382.60" x2="134.60" y2="384.40" stroke="#2a2a2a" stroke-width="0.8"/>
<line x1="154.56" y1="382.60" x2="154.56" y2="384.40" stroke="#2a2a2a" stroke-width="0.8"/>
<line x1="101.60" y1="338.20" x2="103.40" y2="338.20" stroke="#2a2a2a" stroke-width="0.8"/>
<line x1="101.60" y1="355.80" x2="103.40" y2="355.80" stroke="#2a2a2a" stroke-width="0.8"/>
<line x1="101.60" y1="373.40" x2="103.40" y2="373.40" stroke="#2a2a2a" stroke-width="0.8"/>
<text x="105.80" y="331.60" font-size="7.6" text-anchor="start" font-weight="bold" fill="#000">Gata1</text>
<path d="M68.58,395.18 L70.04,395.44 L70.35,397.85 L71.71,400.57 L75.06,404.68 L77.73,406.71 L81.08,408.79 L83.38,410.13 L84.42,412.85 L87.72,415.57 L90.39,418.30 L91.33,421.23 L90.81,426.89 L91.54,430.58 L90.07,433.52 L88.24,435.76 L84.27,437.63 L80.66,439.07 L77.05,438.70 L72.71,437.95 L68.37,437.95 L64.76,436.51 L62.56,434.26 L61.83,432.07 L64.76,430.58 L66.90,427.64 L67.63,425.03 L69.10,423.96 L68.73,420.97 L71.24,420.22 L74.38,420.27 L76.37,418.30 L75.74,414.88 L73.96,412.85 L73.54,408.79 L70.56,404.68 L69.10,400.57 L68.21,397.53Z" fill="#d3d3d3" stroke="#d3d3d3" stroke-width="2.09" stroke-linejoin="round"/>
<path d="M41.48,409.86 L43.15,410.07 L43.68,411.57 L44.83,413.28 L45.82,414.29 L47.50,415.31 L49.07,416.64 L49.17,418.03 L47.50,418.03 L46.19,417.12 L44.83,416.32 L43.83,415.63 L43.52,417.34 L42.47,418.03 L40.49,418.24 L39.70,417.02 L39.96,414.99 L40.38,412.90 L40.85,410.87Z" fill="#d3d3d3" stroke="#d3d3d3" stroke-width="2.09" stroke-linejoin="round"/>
<path d="M39.81,418.03 L42.47,417.34 L45.82,418.03 L48.86,418.72 L49.85,420.43 L50.53,422.46 L49.54,423.85 L47.86,424.49 L45.82,424.87 L43.83,424.49 L41.85,424.49 L40.85,423.85 L40.49,421.77 L39.18,420.06Z" fill="#d3d3d3" stroke="#d3d3d3" stroke-width="2.09" stroke-linejoin="round"/>
<path d="M39.55,424.87 L41.64,424.60 L43.99,424.97 L46.35,425.29 L48.18,426.57 L48.44,428.98 L47.76,430.04 L45.35,432.93 L43.78,436.03 L44.72,437.31 L44.10,438.53 L43.52,441.04 L44.41,442.91 L41.64,442.91 L39.81,441.04 L37.40,438.53 L35.52,436.67 L35.26,434.16 L36.15,431.06 L37.98,429.14 L39.02,426.84Z" fill="#d3d3d3" stroke="#d3d3d3" stroke-width="2.09" stroke-linejoin="round"/>
<path d="M47.18,439.18 L49.07,439.44 L50.22,441.04 L50.84,442.91 L51.84,444.73 L50.79,447.93 L49.01,447.88 L47.18,445.42 L45.93,442.91 L45.61,440.40Z" fill="#d3d3d3" stroke="#d3d3d3" stroke-width="2.09" stroke-linejoin="round"/>
<path d="M50.84,442.91 L52.67,444.14 L56.96,446.01 L60.00,447.61 L60.62,449.75 L59.42,451.35 L56.96,451.03 L53.88,450.07 L50.84,449.16 L49.01,447.88 L49.75,445.80Z" fill="#d3d3d3" stroke="#d3d3d3" stroke-width="2.09" stroke-linejoin="round"/>
<path d="M52.05,430.42 L55.71,431.06 L55.24,434.05 L54.50,437.31 L53.62,436.99 L52.62,434.05Z" fill="#d3d3d3" stroke="#d3d3d3" stroke-width="2.09" stroke-linejoin="round"/>
<path d="M53.72,420.97 L54.87,421.45 L55.50,423.16 L56.86,424.49 L58.53,425.08 L59.53,425.88 L58.85,426.89 L57.85,427.37 L59.21,428.28 L60.89,429.30 L60.52,430.10 L59.21,429.62 L57.54,428.60 L55.86,428.28 L54.87,428.60 L55.24,430.04 L55.76,431.65 L53.93,432.18 L52.52,430.85 L51.84,428.92 L52.52,427.91 L51.16,427.59 L49.85,427.37 L48.39,427.21 L48.49,426.41 L50.16,425.88 L51.84,425.19 L52.83,423.85 L53.20,422.14Z" fill="#d3d3d3" stroke="#d3d3d3" stroke-width="2.09" stroke-linejoin="round"/>
<path d="M56.54,417.34 L57.54,416.32 L60.52,415.63 L61.20,416.64 L59.16,417.23 L57.17,418.03Z" fill="#d3d3d3" stroke="#d3d3d3" stroke-width="2.09" stroke-linejoin="round"/>
<path d="M55.50,402.70 L56.86,403.03 L57.85,405.43 L59.84,407.46 L61.51,409.17 L62.19,411.20 L61.51,412.21 L59.84,410.87 L57.85,408.85 L56.18,407.14 L55.18,405.05Z" fill="#d3d3d3" stroke="#d3d3d3" stroke-width="2.09" stroke-linejoin="round"/>
<path d="M58.85,424.49 L62.51,421.45" fill="none" stroke="#d3d3d3" stroke-width="2.62" stroke-linecap="round" stroke-linejoin="round"/>
<path d="M73.81,446.81 L75.95,447.19 L77.41,448.31 L78.15,449.80 L78.62,451.24" fill="none" stroke="#d3d3d3" stroke-width="2.62" stroke-linecap="round" stroke-linejoin="round"/>
<ellipse cx="54.19" cy="411.20" rx="1.57" ry="1.46" fill="#d3d3d3"/>
<ellipse cx="70.14" cy="447.56" rx="1.46" ry="1.05" fill="#d3d3d3"/>
<rect x="33.40" y="393.40" width="59.90" height="58.40" fill="none" stroke="#333" stroke-width="0.8"/>
<line x1="44.64" y1="451.80" x2="44.64" y2="453.60" stroke="#2a2a2a" stroke-width="0.8"/>
<text x="43.64" y="461.80" font-size="7.2" text-anchor="middle" fill="#1a1a1a">-40</text>
<line x1="64.60" y1="451.80" x2="64.60" y2="453.60" stroke="#2a2a2a" stroke-width="0.8"/>
<text x="64.60" y="461.80" font-size="7.2" text-anchor="middle" fill="#1a1a1a">0</text>
<line x1="84.56" y1="451.80" x2="84.56" y2="453.60" stroke="#2a2a2a" stroke-width="0.8"/>
<text x="84.56" y="461.80" font-size="7.2" text-anchor="middle" fill="#1a1a1a">40</text>
<line x1="31.60" y1="408.60" x2="33.40" y2="408.60" stroke="#2a2a2a" stroke-width="0.8"/>
<text x="31.20" y="411.20" font-size="7.2" text-anchor="end" fill="#1a1a1a">40</text>
<line x1="31.60" y1="426.20" x2="33.40" y2="426.20" stroke="#2a2a2a" stroke-width="0.8"/>
<text x="31.20" y="428.80" font-size="7.2" text-anchor="end" fill="#1a1a1a">0</text>
<line x1="31.60" y1="443.80" x2="33.40" y2="443.80" stroke="#2a2a2a" stroke-width="0.8"/>
<text x="31.20" y="446.40" font-size="7.2" text-anchor="end" fill="#1a1a1a">-40</text>
<text x="35.80" y="402.00" font-size="7.6" text-anchor="start" font-weight="bold" fill="#000">Pax5</text>
<text x="16.60" y="422.60" font-size="7.2" text-anchor="middle" fill="#1a1a1a" transform="rotate(-90 16.60 422.60)">Dimension 2</text>
<ellipse cx="52.4" cy="281.2" rx="2.3" ry="2.6" fill="#12d012"/>
<ellipse cx="52.0" cy="281.5" rx="1.2" ry="1.5" fill="#20f020"/>
<rect x="47.55" y="279.45" width="1.70" height="1.70" fill="#18c818" stroke="none" stroke-width="0.9"/>
<rect x="52.35" y="277.75" width="1.70" height="1.70" fill="#1a3aff" stroke="none" stroke-width="0.9"/>
<rect x="54.15" y="279.15" width="1.70" height="1.70" fill="#2020ff" stroke="none" stroke-width="0.9"/>
<rect x="52.65" y="283.65" width="1.70" height="1.70" fill="#2020ff" stroke="none" stroke-width="0.9"/>
<rect x="45.35" y="276.15" width="1.70" height="1.70" fill="#2020ff" stroke="none" stroke-width="0.9"/>
<rect x="42.15" y="281.15" width="1.70" height="1.70" fill="#1010ff" stroke="none" stroke-width="0.9"/>
<rect x="40.15" y="283.15" width="1.70" height="1.70" fill="#2a2aff" stroke="none" stroke-width="0.9"/>
<rect x="44.65" y="282.65" width="1.70" height="1.70" fill="#2020ff" stroke="none" stroke-width="0.9"/>
<rect x="46.65" y="284.95" width="1.70" height="1.70" fill="#3030ff" stroke="none" stroke-width="0.9"/>
<rect x="51.65" y="284.65" width="1.70" height="1.70" fill="#3030ff" stroke="none" stroke-width="0.9"/>
<rect x="38.15" y="272.65" width="1.70" height="1.70" fill="#3030ff" stroke="none" stroke-width="0.9"/>
<rect x="41.15" y="275.15" width="1.70" height="1.70" fill="#2a2aff" stroke="none" stroke-width="0.9"/>
<rect x="56.95" y="284.15" width="1.70" height="1.70" fill="#6060ff" stroke="none" stroke-width="0.9"/>
<rect x="81.35" y="267.15" width="1.70" height="1.70" fill="#4a4aff" stroke="none" stroke-width="0.9"/>
<path d="M146.5,302.2 L149.5,302.8 L152.5,306.5 L153.0,308.5 L151.0,308.0 L148.0,305.0 L146.0,304.0 Z" fill="#1a9a50"/>
<rect x="147.75" y="302.25" width="1.50" height="1.50" fill="#2020ff" stroke="none" stroke-width="0.9"/>
<rect x="149.25" y="303.75" width="1.50" height="1.50" fill="#10a040" stroke="none" stroke-width="0.9"/>
<rect x="150.25" y="305.25" width="1.50" height="1.50" fill="#20c020" stroke="none" stroke-width="0.9"/>
<rect x="151.25" y="306.45" width="1.50" height="1.50" fill="#1010ff" stroke="none" stroke-width="0.9"/>
<rect x="149.05" y="304.85" width="1.50" height="1.50" fill="#18c030" stroke="none" stroke-width="0.9"/>
<rect x="146.05" y="301.75" width="1.50" height="1.50" fill="#3030ff" stroke="none" stroke-width="0.9"/>
<rect x="141.25" y="303.25" width="1.50" height="1.50" fill="#4040ff" stroke="none" stroke-width="0.9"/>
<rect x="142.75" y="303.45" width="1.50" height="1.50" fill="#6060ff" stroke="none" stroke-width="0.9"/>
<rect x="154.25" y="292.25" width="1.50" height="1.50" fill="#3030ff" stroke="none" stroke-width="0.9"/>
<rect x="159.25" y="280.75" width="1.50" height="1.50" fill="#6060ff" stroke="none" stroke-width="0.9"/>
<rect x="145.75" y="287.75" width="1.50" height="1.50" fill="#8080ff" stroke="none" stroke-width="0.9"/>
<rect x="117.25" y="283.75" width="1.50" height="1.50" fill="#8080ff" stroke="none" stroke-width="0.9"/>
<rect x="144.25" y="258.75" width="1.50" height="1.50" fill="#7070ff" stroke="none" stroke-width="0.9"/>
<rect x="160.45" y="277.25" width="1.50" height="1.50" fill="#5050ff" stroke="none" stroke-width="0.9"/>
<rect x="58.25" y="360.25" width="1.50" height="1.50" fill="#20c020" stroke="none" stroke-width="0.9"/>
<rect x="51.65" y="371.85" width="1.50" height="1.50" fill="#108080" stroke="none" stroke-width="0.9"/>
<rect x="61.75" y="340.25" width="1.50" height="1.50" fill="#3030ff" stroke="none" stroke-width="0.9"/>
<rect x="57.25" y="345.75" width="1.50" height="1.50" fill="#3030ff" stroke="none" stroke-width="0.9"/>
<rect x="54.25" y="334.75" width="1.50" height="1.50" fill="#4a4aff" stroke="none" stroke-width="0.9"/>
<rect x="141.40" y="339.70" width="1.60" height="1.60" fill="#20c020" stroke="none" stroke-width="0.9"/>
<rect x="149.20" y="359.20" width="1.60" height="1.60" fill="#10a010" stroke="none" stroke-width="0.9"/>
<rect x="118.70" y="367.70" width="1.60" height="1.60" fill="#2020ff" stroke="none" stroke-width="0.9"/>
<rect x="119.70" y="369.70" width="1.60" height="1.60" fill="#2020ff" stroke="none" stroke-width="0.9"/>
<rect x="131.20" y="351.20" width="1.60" height="1.60" fill="#3030ff" stroke="none" stroke-width="0.9"/>
<rect x="117.20" y="347.20" width="1.60" height="1.60" fill="#8080ff" stroke="none" stroke-width="0.9"/>
<rect x="55.75" y="401.95" width="1.70" height="1.70" fill="#1010ff" stroke="none" stroke-width="0.9"/>
<rect x="56.75" y="403.95" width="1.70" height="1.70" fill="#3030ff" stroke="none" stroke-width="0.9"/>
<rect x="55.25" y="405.95" width="1.70" height="1.70" fill="#20d020" stroke="none" stroke-width="0.9"/>
<rect x="58.25" y="406.45" width="1.70" height="1.70" fill="#2020ff" stroke="none" stroke-width="0.9"/>
<rect x="52.55" y="408.45" width="1.70" height="1.70" fill="#1010ff" stroke="none" stroke-width="0.9"/>
<rect x="53.25" y="409.95" width="1.70" height="1.70" fill="#3030ff" stroke="none" stroke-width="0.9"/>
<rect x="61.65" y="410.65" width="1.70" height="1.70" fill="#5050ff" stroke="none" stroke-width="0.9"/>
<rect x="47.55" y="415.15" width="1.70" height="1.70" fill="#3030ff" stroke="none" stroke-width="0.9"/>
<rect x="38.15" y="439.95" width="1.70" height="1.70" fill="#4040ff" stroke="none" stroke-width="0.9"/>
<rect x="51.75" y="443.15" width="1.70" height="1.70" fill="#1010ff" stroke="none" stroke-width="0.9"/>
<rect x="52.55" y="446.65" width="1.70" height="1.70" fill="#8080ff" stroke="none" stroke-width="0.9"/>
<rect x="73.65" y="429.55" width="1.70" height="1.70" fill="#9090f0" stroke="none" stroke-width="0.9"/>
<rect x="82.25" y="429.55" width="1.70" height="1.70" fill="#a0a0f0" stroke="none" stroke-width="0.9"/>
<rect x="57.15" y="401.15" width="1.70" height="1.70" fill="#4040ff" stroke="none" stroke-width="0.9"/>
<rect x="54.15" y="407.15" width="1.70" height="1.70" fill="#2020ff" stroke="none" stroke-width="0.9"/>
<rect x="125.40" y="398.60" width="7.30" height="50.90" fill="url(#expr)" stroke="#222" stroke-width="0.7"/>
<line x1="132.70" y1="399.40" x2="134.60" y2="399.40" stroke="#2a2a2a" stroke-width="0.7"/>
<line x1="132.70" y1="448.60" x2="134.60" y2="448.60" stroke="#2a2a2a" stroke-width="0.7"/>
<text x="135.80" y="402.00" font-size="7.2" text-anchor="start" fill="#1a1a1a">high</text>
<text x="135.80" y="451.00" font-size="7.2" text-anchor="start" fill="#1a1a1a">low</text>
<text x="121.60" y="423.50" font-size="7.2" text-anchor="middle" fill="#1a1a1a" transform="rotate(-90 121.60 423.50)">Expression</text>
<text x="64.70" y="469.50" font-size="7.2" text-anchor="middle" fill="#1a1a1a">Dimension 1</text>
<rect x="225.80" y="274.70" width="20.80" height="124.40" fill="#fff" stroke="#222" stroke-width="0.8"/>
<text x="236.40" y="271.80" font-size="8.0" text-anchor="middle" font-weight="bold" fill="#000">4372</text>
<circle cx="236.40" cy="284.60" r="2.10" fill="#fff" stroke="#222" stroke-width="0.75"/>
<circle cx="236.40" cy="294.16" r="2.10" fill="#fff" stroke="#222" stroke-width="0.75"/>
<circle cx="236.40" cy="303.72" r="2.10" fill="#fff" stroke="#222" stroke-width="0.75"/>
<circle cx="236.40" cy="313.28" r="2.10" fill="#fff" stroke="#222" stroke-width="0.75"/>
<circle cx="236.40" cy="322.84" r="2.10" fill="#fff" stroke="#222" stroke-width="0.75"/>
<circle cx="236.40" cy="332.40" r="2.10" fill="#fff" stroke="#222" stroke-width="0.75"/>
<circle cx="236.40" cy="341.96" r="2.10" fill="#fff" stroke="#222" stroke-width="0.75"/>
<circle cx="236.40" cy="351.52" r="2.10" fill="#fff" stroke="#222" stroke-width="0.75"/>
<circle cx="236.40" cy="361.08" r="2.10" fill="#fff" stroke="#222" stroke-width="0.75"/>
<circle cx="236.40" cy="370.64" r="2.10" fill="#fff" stroke="#222" stroke-width="0.75"/>
<circle cx="236.40" cy="376.20" r="0.72" fill="#111" stroke="none" stroke-width="0.8"/>
<circle cx="236.40" cy="378.70" r="0.72" fill="#111" stroke="none" stroke-width="0.8"/>
<circle cx="236.40" cy="381.20" r="0.72" fill="#111" stroke="none" stroke-width="0.8"/>
<circle cx="236.40" cy="383.70" r="0.72" fill="#111" stroke="none" stroke-width="0.8"/>
<circle cx="236.40" cy="389.30" r="2.10" fill="#fff" stroke="#222" stroke-width="0.75"/>
<rect x="266.80" y="310.00" width="21.00" height="52.00" fill="#fff" stroke="#222" stroke-width="0.8"/>
<text x="277.30" y="307.00" font-size="8.0" text-anchor="middle" font-weight="bold" fill="#000">14</text>
<circle cx="277.30" cy="317.20" r="2.10" fill="#fff" stroke="#222" stroke-width="0.75"/>
<circle cx="277.30" cy="326.40" r="2.10" fill="#fff" stroke="#222" stroke-width="0.75"/>
<circle cx="277.30" cy="335.70" r="2.10" fill="#fff" stroke="#222" stroke-width="0.75"/>
<circle cx="277.30" cy="341.00" r="0.72" fill="#111" stroke="none" stroke-width="0.8"/>
<circle cx="277.30" cy="343.50" r="0.72" fill="#111" stroke="none" stroke-width="0.8"/>
<circle cx="277.30" cy="346.00" r="0.72" fill="#111" stroke="none" stroke-width="0.8"/>
<circle cx="277.30" cy="348.50" r="0.72" fill="#111" stroke="none" stroke-width="0.8"/>
<circle cx="277.30" cy="354.60" r="2.10" fill="#fff" stroke="#222" stroke-width="0.75"/>
<line x1="246.60" y1="336.30" x2="259.50" y2="336.30" stroke="#222" stroke-width="0.9"/>
<path d="M265.2,336.3 L258.0,332.3 L258.0,340.3 Z" fill="#000"/>
<text x="220.80" y="336.80" font-size="9.6" text-anchor="middle" font-weight="bold" fill="#000" transform="rotate(-90 220.80 336.80)">single cell expression</text>
<text x="299.20" y="333.80" font-size="9.6" text-anchor="middle" font-weight="bold" fill="#000" transform="rotate(-90 299.20 333.80)">cell type</text>
<text x="236.30" y="414.80" font-size="9.6" text-anchor="middle" fill="#1a1a1a">Input</text>
<text x="278.20" y="414.80" font-size="9.6" text-anchor="middle" fill="#1a1a1a">Output</text>
<text x="255.90" y="445.80" font-size="9.6" text-anchor="middle" font-weight="bold" fill="#000">Model</text>
<rect x="357.20" y="275.20" width="115.64" height="115.64" fill="#efefef" stroke="none" stroke-width="0.9"/>
<rect x="373.72" y="275.20" width="8.26" height="8.26" fill="#e8e9ec" stroke="none" stroke-width="0.9"/>
<rect x="390.24" y="275.20" width="8.26" height="8.26" fill="#ebebed" stroke="none" stroke-width="0.9"/>
<rect x="439.80" y="275.20" width="8.26" height="8.26" fill="#ebebed" stroke="none" stroke-width="0.9"/>
<rect x="456.32" y="275.20" width="8.26" height="8.26" fill="#eaebed" stroke="none" stroke-width="0.9"/>
<rect x="357.20" y="283.46" width="8.26" height="8.26" fill="#e4e6ec" stroke="none" stroke-width="0.9"/>
<rect x="357.20" y="291.72" width="8.26" height="8.26" fill="#e6e8ee" stroke="none" stroke-width="0.9"/>
<rect x="381.98" y="291.72" width="8.26" height="8.26" fill="#cdd5e3" stroke="none" stroke-width="0.9"/>
<rect x="439.80" y="291.72" width="8.26" height="8.26" fill="#eaebee" stroke="none" stroke-width="0.9"/>
<rect x="373.72" y="299.98" width="8.26" height="8.26" fill="#d9dee8" stroke="none" stroke-width="0.9"/>
<rect x="373.72" y="308.24" width="8.26" height="8.26" fill="#e0e3eb" stroke="none" stroke-width="0.9"/>
<rect x="398.50" y="308.24" width="8.26" height="8.26" fill="#e8e9ee" stroke="none" stroke-width="0.9"/>
<rect x="390.24" y="316.50" width="8.26" height="8.26" fill="#e6e8ee" stroke="none" stroke-width="0.9"/>
<rect x="406.76" y="316.50" width="8.26" height="8.26" fill="#e4e6ec" stroke="none" stroke-width="0.9"/>
<rect x="398.50" y="324.76" width="8.26" height="8.26" fill="#e2e5ec" stroke="none" stroke-width="0.9"/>
<rect x="423.28" y="333.02" width="8.26" height="8.26" fill="#e4e6ec" stroke="none" stroke-width="0.9"/>
<rect x="415.02" y="341.28" width="8.26" height="8.26" fill="#e2e5ec" stroke="none" stroke-width="0.9"/>
<rect x="357.20" y="374.32" width="8.26" height="8.26" fill="#e3e5ea" stroke="none" stroke-width="0.9"/>
<rect x="357.20" y="382.58" width="8.26" height="8.26" fill="#e6e7eb" stroke="none" stroke-width="0.9"/>
<rect x="423.28" y="349.54" width="8.26" height="8.26" fill="#ebebee" stroke="none" stroke-width="0.9"/>
<rect x="390.24" y="299.98" width="8.26" height="8.26" fill="#ebecee" stroke="none" stroke-width="0.9"/>
<rect x="357.20" y="275.20" width="8.26" height="8.26" fill="#2a5593" stroke="none" stroke-width="0.9"/>
<rect x="365.46" y="283.46" width="8.26" height="8.26" fill="#0f3a80" stroke="none" stroke-width="0.9"/>
<rect x="373.72" y="291.72" width="8.26" height="8.26" fill="#2d5a9a" stroke="none" stroke-width="0.9"/>
<rect x="381.98" y="299.98" width="8.26" height="8.26" fill="#1f4b8c" stroke="none" stroke-width="0.9"/>
<rect x="390.24" y="308.24" width="8.26" height="8.26" fill="#0d3780" stroke="none" stroke-width="0.9"/>
<rect x="398.50" y="316.50" width="8.26" height="8.26" fill="#0e3880" stroke="none" stroke-width="0.9"/>
<rect x="406.76" y="324.76" width="8.26" height="8.26" fill="#0d3680" stroke="none" stroke-width="0.9"/>
<rect x="415.02" y="333.02" width="8.26" height="8.26" fill="#0d3680" stroke="none" stroke-width="0.9"/>
<rect x="423.28" y="341.28" width="8.26" height="8.26" fill="#0e3780" stroke="none" stroke-width="0.9"/>
<rect x="431.54" y="349.54" width="8.26" height="8.26" fill="#0d3680" stroke="none" stroke-width="0.9"/>
<rect x="439.80" y="357.80" width="8.26" height="8.26" fill="#0d3680" stroke="none" stroke-width="0.9"/>
<rect x="448.06" y="366.06" width="8.26" height="8.26" fill="#0d3680" stroke="none" stroke-width="0.9"/>
<rect x="456.32" y="374.32" width="8.26" height="8.26" fill="#0d3680" stroke="none" stroke-width="0.9"/>
<rect x="464.58" y="382.58" width="8.26" height="8.26" fill="#0d3680" stroke="none" stroke-width="0.9"/>
<line x1="357.20" y1="270.20" x2="472.84" y2="270.20" stroke="#4a6aa8" stroke-width="1.0"/>
<line x1="351.90" y1="275.20" x2="351.90" y2="389.64" stroke="#4a6aa8" stroke-width="1.0"/>
<text x="374.80" y="266.60" font-size="9.7" text-anchor="start" fill="#1a1a1a">predicted - <tspan font-weight="bold" fill="#1f4a8a">mouse</tspan></text>
<text x="349.00" y="332.80" font-size="9.7" text-anchor="middle" fill="#1a1a1a" transform="rotate(-90 349.00 332.80)">true - <tspan font-weight="bold" fill="#1f4a8a">mouse</tspan></text>
<text x="475.40" y="282.23" font-size="8.1" text-anchor="start" fill="#1a1a1a">HSPCs</text>
<text x="364.23" y="393.20" font-size="8.1" text-anchor="end" fill="#1a1a1a" transform="rotate(-90 364.23 393.20)">HSPCs</text>
<text x="475.40" y="290.49" font-size="8.1" text-anchor="start" fill="#1a1a1a">Erythroblasts</text>
<text x="372.49" y="393.20" font-size="8.1" text-anchor="end" fill="#1a1a1a" transform="rotate(-90 372.49 393.20)">Erythroblasts</text>
<text x="475.40" y="298.75" font-size="8.1" text-anchor="start" fill="#1a1a1a">Monoblasts</text>
<text x="380.75" y="393.20" font-size="8.1" text-anchor="end" fill="#1a1a1a" transform="rotate(-90 380.75 393.20)">Monoblasts</text>
<text x="475.40" y="307.01" font-size="8.1" text-anchor="start" fill="#1a1a1a">Monocytes</text>
<text x="389.01" y="393.20" font-size="8.1" text-anchor="end" fill="#1a1a1a" transform="rotate(-90 389.01 393.20)">Monocytes</text>
<text x="475.40" y="315.27" font-size="8.1" text-anchor="start" fill="#1a1a1a">Myeloblasts</text>
<text x="397.27" y="393.20" font-size="8.1" text-anchor="end" fill="#1a1a1a" transform="rotate(-90 397.27 393.20)">Myeloblasts</text>
<text x="475.40" y="323.53" font-size="8.1" text-anchor="start" fill="#1a1a1a">Myelocytes</text>
<text x="405.53" y="393.20" font-size="8.1" text-anchor="end" fill="#1a1a1a" transform="rotate(-90 405.53 393.20)">Myelocytes</text>
<text x="475.40" y="331.79" font-size="8.1" text-anchor="start" fill="#1a1a1a">Neutrophils</text>
<text x="413.79" y="393.20" font-size="8.1" text-anchor="end" fill="#1a1a1a" transform="rotate(-90 413.79 393.20)">Neutrophils</text>
<text x="475.40" y="340.05" font-size="8.1" text-anchor="start" fill="#1a1a1a">Pro−B lymph.</text>
<text x="422.05" y="393.20" font-size="8.1" text-anchor="end" fill="#1a1a1a" transform="rotate(-90 422.05 393.20)">Pro−B lymph.</text>
<text x="475.40" y="348.31" font-size="8.1" text-anchor="start" fill="#1a1a1a">Pre−B lymph.</text>
<text x="430.31" y="393.20" font-size="8.1" text-anchor="end" fill="#1a1a1a" transform="rotate(-90 430.31 393.20)">Pre−B lymph.</text>
<text x="475.40" y="356.57" font-size="8.1" text-anchor="start" fill="#1a1a1a">T-lymph.</text>
<text x="438.57" y="393.20" font-size="8.1" text-anchor="end" fill="#1a1a1a" transform="rotate(-90 438.57 393.20)">T-lymph.</text>
<text x="475.40" y="364.83" font-size="8.1" text-anchor="start" fill="#1a1a1a">Pericytes</text>
<text x="446.83" y="393.20" font-size="8.1" text-anchor="end" fill="#1a1a1a" transform="rotate(-90 446.83 393.20)">Pericytes</text>
<text x="475.40" y="373.09" font-size="8.1" text-anchor="start" fill="#1a1a1a">Endoth. cells</text>
<text x="455.09" y="393.20" font-size="8.1" text-anchor="end" fill="#1a1a1a" transform="rotate(-90 455.09 393.20)">Endoth. cells</text>
<text x="475.40" y="381.35" font-size="8.1" text-anchor="start" fill="#1a1a1a">Megakaryoc.</text>
<text x="463.35" y="393.20" font-size="8.1" text-anchor="end" fill="#1a1a1a" transform="rotate(-90 463.35 393.20)">Megakaryoc.</text>
<text x="475.40" y="389.61" font-size="8.1" text-anchor="start" fill="#1a1a1a">Basophils</text>
<text x="471.61" y="393.20" font-size="8.1" text-anchor="end" fill="#1a1a1a" transform="rotate(-90 471.61 393.20)">Basophils</text>
<rect x="385.20" y="458.10" width="51.20" height="6.20" fill="url(#acc)" stroke="#222" stroke-width="0.7"/>
<text x="420.20" y="455.20" font-size="8.0" text-anchor="middle" fill="#1a1a1a">norm. accuracy (%)</text>
<text x="383.60" y="464.00" font-size="8.0" text-anchor="end" fill="#1a1a1a">0</text>
<text x="437.60" y="464.00" font-size="8.0" text-anchor="start" fill="#1a1a1a">100</text>
<circle cx="589.88" cy="316.20" r="0.85" fill="#a020f0" stroke="none" stroke-width="0.8"/>
<circle cx="590.89" cy="316.64" r="0.85" fill="#a020f0" stroke="none" stroke-width="0.8"/>
<circle cx="585.01" cy="315.45" r="0.85" fill="#ff00ff" stroke="none" stroke-width="0.8"/>
<circle cx="593.11" cy="319.90" r="0.85" fill="#a020f0" stroke="none" stroke-width="0.8"/>
<circle cx="583.36" cy="312.14" r="0.85" fill="#ff00ff" stroke="none" stroke-width="0.8"/>
<circle cx="583.30" cy="320.16" r="0.85" fill="#ff00ff" stroke="none" stroke-width="0.8"/>
<circle cx="599.52" cy="322.62" r="0.85" fill="#a020f0" stroke="none" stroke-width="0.8"/>
<circle cx="593.55" cy="317.09" r="0.85" fill="#ff00ff" stroke="none" stroke-width="0.8"/>
<circle cx="585.11" cy="311.17" r="0.85" fill="#ff00ff" stroke="none" stroke-width="0.8"/>
<circle cx="591.10" cy="317.48" r="0.85" fill="#a020f0" stroke="none" stroke-width="0.8"/>
<circle cx="590.74" cy="317.83" r="0.85" fill="#ff00ff" stroke="none" stroke-width="0.8"/>
<circle cx="589.97" cy="311.74" r="0.85" fill="#ff00ff" stroke="none" stroke-width="0.8"/>
<circle cx="596.94" cy="318.55" r="0.85" fill="#ff00ff" stroke="none" stroke-width="0.8"/>
<circle cx="587.39" cy="310.98" r="0.85" fill="#ff00ff" stroke="none" stroke-width="0.8"/>
<circle cx="586.91" cy="308.45" r="0.85" fill="#ff00ff" stroke="none" stroke-width="0.8"/>
<circle cx="599.08" cy="320.76" r="0.85" fill="#ff00ff" stroke="none" stroke-width="0.8"/>
<circle cx="582.98" cy="317.31" r="0.85" fill="#ff00ff" stroke="none" stroke-width="0.8"/>
<circle cx="583.24" cy="312.61" r="0.85" fill="#ff00ff" stroke="none" stroke-width="0.8"/>
<circle cx="583.80" cy="311.24" r="0.85" fill="#ff00ff" stroke="none" stroke-width="0.8"/>
<circle cx="591.83" cy="314.42" r="0.85" fill="#ff00ff" stroke="none" stroke-width="0.8"/>
<circle cx="585.12" cy="318.93" r="0.85" fill="#ff00ff" stroke="none" stroke-width="0.8"/>
<circle cx="584.03" cy="317.53" r="0.85" fill="#ff00ff" stroke="none" stroke-width="0.8"/>
<circle cx="583.77" cy="314.00" r="0.85" fill="#a020f0" stroke="none" stroke-width="0.8"/>
<circle cx="585.52" cy="311.61" r="0.85" fill="#ff00ff" stroke="none" stroke-width="0.8"/>
<circle cx="593.18" cy="333.78" r="0.85" fill="#ff00ff" stroke="none" stroke-width="0.8"/>
<circle cx="584.63" cy="323.65" r="0.85" fill="#a020f0" stroke="none" stroke-width="0.8"/>
<circle cx="600.46" cy="333.09" r="0.85" fill="#ff00ff" stroke="none" stroke-width="0.8"/>
<circle cx="586.09" cy="324.16" r="0.85" fill="#ff00ff" stroke="none" stroke-width="0.8"/>
<circle cx="596.77" cy="334.83" r="0.85" fill="#ff00ff" stroke="none" stroke-width="0.8"/>
<circle cx="599.89" cy="330.04" r="0.85" fill="#a020f0" stroke="none" stroke-width="0.8"/>
<circle cx="589.84" cy="322.94" r="0.85" fill="#ff00ff" stroke="none" stroke-width="0.8"/>
<circle cx="585.85" cy="331.48" r="0.85" fill="#ff00ff" stroke="none" stroke-width="0.8"/>
<circle cx="586.25" cy="333.17" r="0.85" fill="#ff00ff" stroke="none" stroke-width="0.8"/>
<circle cx="593.66" cy="325.63" r="0.85" fill="#a020f0" stroke="none" stroke-width="0.8"/>
<circle cx="584.47" cy="331.70" r="0.85" fill="#ff00ff" stroke="none" stroke-width="0.8"/>
<circle cx="582.15" cy="324.71" r="0.85" fill="#ff00ff" stroke="none" stroke-width="0.8"/>
<circle cx="592.85" cy="333.58" r="0.85" fill="#a020f0" stroke="none" stroke-width="0.8"/>
<circle cx="594.05" cy="325.44" r="0.85" fill="#a020f0" stroke="none" stroke-width="0.8"/>
<circle cx="590.37" cy="322.32" r="0.85" fill="#ff00ff" stroke="none" stroke-width="0.8"/>
<circle cx="584.49" cy="326.70" r="0.85" fill="#ff00ff" stroke="none" stroke-width="0.8"/>
<circle cx="593.13" cy="323.33" r="0.85" fill="#a020f0" stroke="none" stroke-width="0.8"/>
<circle cx="588.55" cy="334.13" r="0.85" fill="#ff00ff" stroke="none" stroke-width="0.8"/>
<circle cx="602.03" cy="330.80" r="0.85" fill="#ff00ff" stroke="none" stroke-width="0.8"/>
<circle cx="595.72" cy="329.77" r="0.85" fill="#ff00ff" stroke="none" stroke-width="0.8"/>
<circle cx="595.94" cy="335.15" r="0.85" fill="#ff00ff" stroke="none" stroke-width="0.8"/>
<circle cx="591.16" cy="331.85" r="0.85" fill="#ff00ff" stroke="none" stroke-width="0.8"/>
<circle cx="615.83" cy="336.54" r="0.85" fill="#ff00ff" stroke="none" stroke-width="0.8"/>
<circle cx="616.00" cy="340.62" r="0.85" fill="#ff00ff" stroke="none" stroke-width="0.8"/>
<circle cx="608.92" cy="346.07" r="0.85" fill="#a020f0" stroke="none" stroke-width="0.8"/>
<circle cx="609.89" cy="333.19" r="0.85" fill="#a020f0" stroke="none" stroke-width="0.8"/>
<circle cx="615.12" cy="338.85" r="0.85" fill="#ff00ff" stroke="none" stroke-width="0.8"/>
<circle cx="605.57" cy="342.68" r="0.85" fill="#a020f0" stroke="none" stroke-width="0.8"/>
<circle cx="608.96" cy="347.20" r="0.85" fill="#ff00ff" stroke="none" stroke-width="0.8"/>
<circle cx="606.19" cy="342.42" r="0.85" fill="#ff00ff" stroke="none" stroke-width="0.8"/>
<circle cx="603.11" cy="337.44" r="0.85" fill="#ff00ff" stroke="none" stroke-width="0.8"/>
<circle cx="612.35" cy="335.02" r="0.85" fill="#ff00ff" stroke="none" stroke-width="0.8"/>
<circle cx="595.57" cy="369.55" r="0.85" fill="#a020f0" stroke="none" stroke-width="0.8"/>
<circle cx="600.50" cy="370.87" r="0.85" fill="#a020f0" stroke="none" stroke-width="0.8"/>
<circle cx="601.49" cy="372.14" r="0.85" fill="#ff00ff" stroke="none" stroke-width="0.8"/>
<circle cx="593.24" cy="364.95" r="0.85" fill="#ff00ff" stroke="none" stroke-width="0.8"/>
<circle cx="598.45" cy="363.12" r="0.85" fill="#ff00ff" stroke="none" stroke-width="0.8"/>
<circle cx="600.54" cy="370.09" r="0.85" fill="#ff00ff" stroke="none" stroke-width="0.8"/>
<circle cx="600.55" cy="373.54" r="0.85" fill="#ff00ff" stroke="none" stroke-width="0.8"/>
<circle cx="610.08" cy="381.15" r="0.85" fill="#ff00ff" stroke="none" stroke-width="0.8"/>
<circle cx="603.54" cy="374.11" r="0.85" fill="#a020f0" stroke="none" stroke-width="0.8"/>
<circle cx="607.26" cy="380.88" r="0.85" fill="#ff00ff" stroke="none" stroke-width="0.8"/>
<circle cx="611.16" cy="379.56" r="0.85" fill="#ff00ff" stroke="none" stroke-width="0.8"/>
<circle cx="617.22" cy="384.21" r="0.85" fill="#ff00ff" stroke="none" stroke-width="0.8"/>
<circle cx="609.67" cy="379.73" r="0.85" fill="#ff00ff" stroke="none" stroke-width="0.8"/>
<circle cx="612.24" cy="383.78" r="0.85" fill="#a020f0" stroke="none" stroke-width="0.8"/>
<circle cx="589.36" cy="360.00" r="0.85" fill="#ff00ff" stroke="none" stroke-width="0.8"/>
<circle cx="586.71" cy="362.53" r="0.85" fill="#ff00ff" stroke="none" stroke-width="0.8"/>
<circle cx="594.78" cy="347.23" r="0.85" fill="#a020f0" stroke="none" stroke-width="0.8"/>
<circle cx="575.20" cy="350.43" r="0.85" fill="#ff00ff" stroke="none" stroke-width="0.8"/>
<circle cx="587.05" cy="361.75" r="0.85" fill="#ff00ff" stroke="none" stroke-width="0.8"/>
<circle cx="613.73" cy="299.84" r="0.85" fill="#ff00ff" stroke="none" stroke-width="0.8"/>
<circle cx="621.15" cy="308.90" r="0.85" fill="#a020f0" stroke="none" stroke-width="0.8"/>
<circle cx="612.56" cy="297.80" r="0.85" fill="#ff00ff" stroke="none" stroke-width="0.8"/>
<circle cx="621.22" cy="305.29" r="0.85" fill="#ff00ff" stroke="none" stroke-width="0.8"/>
<circle cx="622.08" cy="319.18" r="0.85" fill="#ff00ff" stroke="none" stroke-width="0.8"/>
<circle cx="618.71" cy="320.83" r="0.85" fill="#ff00ff" stroke="none" stroke-width="0.8"/>
<circle cx="608.91" cy="354.04" r="0.85" fill="#ff00ff" stroke="none" stroke-width="0.8"/>
<circle cx="609.01" cy="351.38" r="0.85" fill="#ff00ff" stroke="none" stroke-width="0.8"/>
<circle cx="611.01" cy="353.49" r="0.85" fill="#ff00ff" stroke="none" stroke-width="0.8"/>
<circle cx="616.90" cy="319.10" r="0.85" fill="#ff00ff" stroke="none" stroke-width="0.8"/>
<circle cx="619.70" cy="333.50" r="0.85" fill="#ff00ff" stroke="none" stroke-width="0.8"/>
<circle cx="621.60" cy="344.00" r="0.85" fill="#ff00ff" stroke="none" stroke-width="0.8"/>
<circle cx="624.50" cy="350.70" r="0.85" fill="#ff00ff" stroke="none" stroke-width="0.8"/>
<circle cx="608.20" cy="308.60" r="0.85" fill="#ff00ff" stroke="none" stroke-width="0.8"/>
<circle cx="610.20" cy="310.50" r="0.85" fill="#ff00ff" stroke="none" stroke-width="0.8"/>
<circle cx="587.20" cy="366.90" r="0.85" fill="#ff00ff" stroke="none" stroke-width="0.8"/>
<circle cx="593.90" cy="363.10" r="0.85" fill="#ff00ff" stroke="none" stroke-width="0.8"/>
<circle cx="640.00" cy="331.00" r="0.85" fill="#ff00ff" stroke="none" stroke-width="0.8"/>
<circle cx="652.00" cy="360.00" r="0.85" fill="#ff00ff" stroke="none" stroke-width="0.8"/>
<circle cx="665.00" cy="373.00" r="0.85" fill="#ff00ff" stroke="none" stroke-width="0.8"/>
<circle cx="589.20" cy="246.30" r="3.40" fill="#bdbdbd" stroke="none" stroke-width="0.8"/>
<text x="595.10" y="248.90" font-size="7.4" text-anchor="start" fill="#222">Correct class</text>
<text x="648.30" y="248.90" font-size="7.2" text-anchor="start" fill="#222">(d=0)</text>
<circle cx="589.20" cy="255.75" r="3.40" fill="#ff00ff" stroke="none" stroke-width="0.8"/>
<text x="595.10" y="258.35" font-size="7.4" text-anchor="start" fill="#222">Proximal class</text>
<text x="648.30" y="258.35" font-size="7.2" text-anchor="start" fill="#222">(d=1)</text>
<circle cx="589.20" cy="265.20" r="3.40" fill="#a020f0" stroke="none" stroke-width="0.8"/>
<text x="595.10" y="267.80" font-size="7.4" text-anchor="start" fill="#222">Distal class</text>
<text x="648.30" y="267.80" font-size="7.2" text-anchor="start" fill="#222">(d&gt;1)</text>
</svg></body></html>
